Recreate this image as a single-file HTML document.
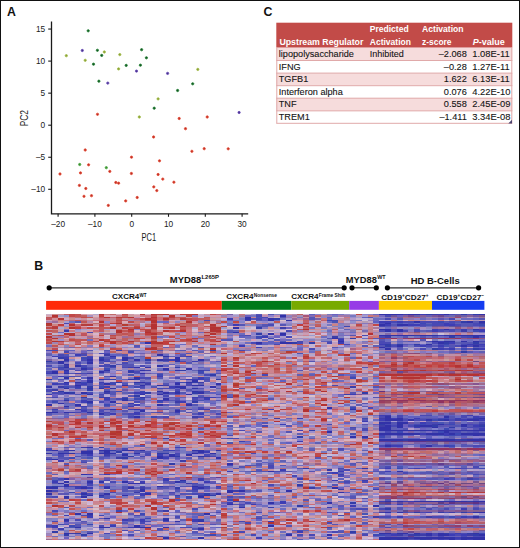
<!DOCTYPE html>
<html><head><meta charset="utf-8"><style>
html,body{margin:0;padding:0;background:#fff;}
#fig{position:relative;width:518px;height:546px;border:1px solid #111;overflow:hidden;background:#fff;}
#fig svg{position:absolute;left:-1px;top:-1px;display:block;}
</style></head><body><div id="fig"><svg width="520" height="548" viewBox="0 0 520 548" font-family='"Liberation Sans", sans-serif'><text x="7.1" y="16.1" font-size="12.3" font-weight="bold" text-anchor="start" fill="#111" >A</text><path d="M51.5 21.6 V213.85 H248.2" fill="none" stroke="#1a1a1a" stroke-width="1.3"/><line x1="48.2" x2="51.5" y1="29.05" y2="29.05" stroke="#1a1a1a" stroke-width="1.1"/><text x="45.2" y="31.949999999999996" font-size="8.3" font-weight="normal" text-anchor="end" fill="#1a1a1a" >15</text><line x1="48.2" x2="51.5" y1="61.10" y2="61.10" stroke="#1a1a1a" stroke-width="1.1"/><text x="45.2" y="64.00000000000001" font-size="8.3" font-weight="normal" text-anchor="end" fill="#1a1a1a" >10</text><line x1="48.2" x2="51.5" y1="93.15" y2="93.15" stroke="#1a1a1a" stroke-width="1.1"/><text x="45.2" y="96.05000000000001" font-size="8.3" font-weight="normal" text-anchor="end" fill="#1a1a1a" >5</text><line x1="48.2" x2="51.5" y1="125.20" y2="125.20" stroke="#1a1a1a" stroke-width="1.1"/><text x="45.2" y="128.1" font-size="8.3" font-weight="normal" text-anchor="end" fill="#1a1a1a" >0</text><line x1="48.2" x2="51.5" y1="157.25" y2="157.25" stroke="#1a1a1a" stroke-width="1.1"/><text x="45.2" y="160.15" font-size="8.3" font-weight="normal" text-anchor="end" fill="#1a1a1a" >–5</text><line x1="48.2" x2="51.5" y1="189.30" y2="189.30" stroke="#1a1a1a" stroke-width="1.1"/><text x="45.2" y="192.20000000000002" font-size="8.3" font-weight="normal" text-anchor="end" fill="#1a1a1a" >–10</text><line x1="58.10" x2="58.10" y1="213.85" y2="216.8" stroke="#1a1a1a" stroke-width="1.1"/><text x="58.09999999999998" y="227.1" font-size="8.3" font-weight="normal" text-anchor="middle" fill="#1a1a1a" >–20</text><line x1="94.90" x2="94.90" y1="213.85" y2="216.8" stroke="#1a1a1a" stroke-width="1.1"/><text x="94.89999999999998" y="227.1" font-size="8.3" font-weight="normal" text-anchor="middle" fill="#1a1a1a" >–10</text><line x1="131.70" x2="131.70" y1="213.85" y2="216.8" stroke="#1a1a1a" stroke-width="1.1"/><text x="131.7" y="227.1" font-size="8.3" font-weight="normal" text-anchor="middle" fill="#1a1a1a" >0</text><line x1="168.50" x2="168.50" y1="213.85" y2="216.8" stroke="#1a1a1a" stroke-width="1.1"/><text x="168.5" y="227.1" font-size="8.3" font-weight="normal" text-anchor="middle" fill="#1a1a1a" >10</text><line x1="205.30" x2="205.30" y1="213.85" y2="216.8" stroke="#1a1a1a" stroke-width="1.1"/><text x="205.3" y="227.1" font-size="8.3" font-weight="normal" text-anchor="middle" fill="#1a1a1a" >20</text><line x1="242.10" x2="242.10" y1="213.85" y2="216.8" stroke="#1a1a1a" stroke-width="1.1"/><text x="242.1" y="227.1" font-size="8.3" font-weight="normal" text-anchor="middle" fill="#1a1a1a" >30</text><text x="141.6" y="240.8" font-size="10.2" font-weight="normal" text-anchor="start" fill="#1a1a1a" textLength="14.6" lengthAdjust="spacingAndGlyphs" >PC1</text><text transform="translate(27.7 126.3) rotate(-90)" font-size="10.6" fill="#1a1a1a" textLength="16.2" lengthAdjust="spacingAndGlyphs">PC2</text><circle cx="88.2" cy="30.8" r="1.15" fill="#145224" stroke="#1e8030" stroke-width="0.8"/><circle cx="97.4" cy="50.3" r="1.15" fill="#145224" stroke="#1e8030" stroke-width="0.8"/><circle cx="101.7" cy="55.4" r="1.15" fill="#145224" stroke="#1e8030" stroke-width="0.8"/><circle cx="93.5" cy="64.2" r="1.15" fill="#145224" stroke="#1e8030" stroke-width="0.8"/><circle cx="126.2" cy="65.4" r="1.15" fill="#145224" stroke="#1e8030" stroke-width="0.8"/><circle cx="98.9" cy="81.2" r="1.15" fill="#145224" stroke="#1e8030" stroke-width="0.8"/><circle cx="141.6" cy="49.7" r="1.15" fill="#145224" stroke="#1e8030" stroke-width="0.8"/><circle cx="146.4" cy="57.8" r="1.15" fill="#145224" stroke="#1e8030" stroke-width="0.8"/><circle cx="140.4" cy="65.2" r="1.15" fill="#145224" stroke="#1e8030" stroke-width="0.8"/><circle cx="192.7" cy="83.8" r="1.15" fill="#145224" stroke="#1e8030" stroke-width="0.8"/><circle cx="177.6" cy="90.5" r="1.15" fill="#145224" stroke="#1e8030" stroke-width="0.8"/><circle cx="154.2" cy="108.2" r="1.15" fill="#145224" stroke="#1e8030" stroke-width="0.8"/><circle cx="104.3" cy="52" r="1.15" fill="#8a9a38" stroke="#a0bc44" stroke-width="0.8"/><circle cx="66.3" cy="55.7" r="1.15" fill="#8a9a38" stroke="#a0bc44" stroke-width="0.8"/><circle cx="85.2" cy="60.3" r="1.15" fill="#8a9a38" stroke="#a0bc44" stroke-width="0.8"/><circle cx="119.8" cy="54.6" r="1.15" fill="#8a9a38" stroke="#a0bc44" stroke-width="0.8"/><circle cx="118.6" cy="68.9" r="1.15" fill="#8a9a38" stroke="#a0bc44" stroke-width="0.8"/><circle cx="197.8" cy="69.4" r="1.15" fill="#8a9a38" stroke="#a0bc44" stroke-width="0.8"/><circle cx="158.1" cy="98.9" r="1.15" fill="#8a9a38" stroke="#a0bc44" stroke-width="0.8"/><circle cx="139.3" cy="117" r="1.15" fill="#8a9a38" stroke="#a0bc44" stroke-width="0.8"/><circle cx="79.7" cy="164.5" r="1.15" fill="#3a8a34" stroke="#4aa83e" stroke-width="0.8"/><circle cx="106.3" cy="167.7" r="1.15" fill="#3a8a34" stroke="#4aa83e" stroke-width="0.8"/><circle cx="82.3" cy="50.5" r="1.15" fill="#483488" stroke="#6648b8" stroke-width="0.8"/><circle cx="107.8" cy="83.1" r="1.15" fill="#483488" stroke="#6648b8" stroke-width="0.8"/><circle cx="136.5" cy="71.1" r="1.15" fill="#483488" stroke="#6648b8" stroke-width="0.8"/><circle cx="167.6" cy="73.4" r="1.15" fill="#483488" stroke="#6648b8" stroke-width="0.8"/><circle cx="239.1" cy="112.5" r="1.15" fill="#483488" stroke="#6648b8" stroke-width="0.8"/><circle cx="97.5" cy="114.3" r="1.15" fill="#b8302a" stroke="#e6462e" stroke-width="0.8"/><circle cx="85.2" cy="150" r="1.15" fill="#b8302a" stroke="#e6462e" stroke-width="0.8"/><circle cx="88.6" cy="164.8" r="1.15" fill="#b8302a" stroke="#e6462e" stroke-width="0.8"/><circle cx="109.8" cy="171.4" r="1.15" fill="#b8302a" stroke="#e6462e" stroke-width="0.8"/><circle cx="80.5" cy="172.9" r="1.15" fill="#b8302a" stroke="#e6462e" stroke-width="0.8"/><circle cx="60" cy="174" r="1.15" fill="#b8302a" stroke="#e6462e" stroke-width="0.8"/><circle cx="131.4" cy="173.5" r="1.15" fill="#b8302a" stroke="#e6462e" stroke-width="0.8"/><circle cx="115.8" cy="182.5" r="1.15" fill="#b8302a" stroke="#e6462e" stroke-width="0.8"/><circle cx="118.6" cy="183.2" r="1.15" fill="#b8302a" stroke="#e6462e" stroke-width="0.8"/><circle cx="79.4" cy="185.4" r="1.15" fill="#b8302a" stroke="#e6462e" stroke-width="0.8"/><circle cx="85.8" cy="188.5" r="1.15" fill="#b8302a" stroke="#e6462e" stroke-width="0.8"/><circle cx="84" cy="196.3" r="1.15" fill="#b8302a" stroke="#e6462e" stroke-width="0.8"/><circle cx="91.5" cy="195.7" r="1.15" fill="#b8302a" stroke="#e6462e" stroke-width="0.8"/><circle cx="125.7" cy="200.9" r="1.15" fill="#b8302a" stroke="#e6462e" stroke-width="0.8"/><circle cx="108.3" cy="205.4" r="1.15" fill="#b8302a" stroke="#e6462e" stroke-width="0.8"/><circle cx="131.5" cy="157.2" r="1.15" fill="#b8302a" stroke="#e6462e" stroke-width="0.8"/><circle cx="179.2" cy="118.5" r="1.15" fill="#b8302a" stroke="#e6462e" stroke-width="0.8"/><circle cx="185.5" cy="128.7" r="1.15" fill="#b8302a" stroke="#e6462e" stroke-width="0.8"/><circle cx="153.6" cy="137" r="1.15" fill="#b8302a" stroke="#e6462e" stroke-width="0.8"/><circle cx="191.9" cy="151.3" r="1.15" fill="#b8302a" stroke="#e6462e" stroke-width="0.8"/><circle cx="204.2" cy="148.7" r="1.15" fill="#b8302a" stroke="#e6462e" stroke-width="0.8"/><circle cx="159.5" cy="160.8" r="1.15" fill="#b8302a" stroke="#e6462e" stroke-width="0.8"/><circle cx="158.1" cy="174.5" r="1.15" fill="#b8302a" stroke="#e6462e" stroke-width="0.8"/><circle cx="162.8" cy="179.1" r="1.15" fill="#b8302a" stroke="#e6462e" stroke-width="0.8"/><circle cx="173.9" cy="182.2" r="1.15" fill="#b8302a" stroke="#e6462e" stroke-width="0.8"/><circle cx="153.8" cy="186.9" r="1.15" fill="#b8302a" stroke="#e6462e" stroke-width="0.8"/><circle cx="156.8" cy="190.6" r="1.15" fill="#b8302a" stroke="#e6462e" stroke-width="0.8"/><circle cx="137.2" cy="197.5" r="1.15" fill="#b8302a" stroke="#e6462e" stroke-width="0.8"/><circle cx="207.2" cy="117" r="1.15" fill="#b8302a" stroke="#e6462e" stroke-width="0.8"/><circle cx="228.2" cy="148.8" r="1.15" fill="#b8302a" stroke="#e6462e" stroke-width="0.8"/><text x="263.6" y="16.4" font-size="12.3" font-weight="bold" text-anchor="start" fill="#111" >C</text><rect x="276.3" y="22.7" width="235.99999999999994" height="25.000000000000004" fill="#c24b48"/><rect x="276.3" y="47.7" width="235.99999999999994" height="12.799999999999997" fill="#f6dcdc"/><rect x="276.3" y="60.5" width="235.99999999999994" height="12.599999999999994" fill="#ffffff"/><rect x="276.3" y="73.1" width="235.99999999999994" height="12.600000000000009" fill="#f6dcdc"/><rect x="276.3" y="85.7" width="235.99999999999994" height="12.5" fill="#ffffff"/><rect x="276.3" y="98.2" width="235.99999999999994" height="12.649999999999991" fill="#f6dcdc"/><rect x="276.3" y="110.85" width="235.99999999999994" height="12.450000000000003" fill="#ffffff"/><line x1="276.3" x2="512.3" y1="60.5" y2="60.5" stroke="#e0a9a9" stroke-width="1"/><line x1="276.3" x2="512.3" y1="73.1" y2="73.1" stroke="#e0a9a9" stroke-width="1"/><line x1="276.3" x2="512.3" y1="85.7" y2="85.7" stroke="#e0a9a9" stroke-width="1"/><line x1="276.3" x2="512.3" y1="98.2" y2="98.2" stroke="#e0a9a9" stroke-width="1"/><line x1="276.3" x2="512.3" y1="110.85" y2="110.85" stroke="#e0a9a9" stroke-width="1"/><line x1="276.3" x2="512.3" y1="123.3" y2="123.3" stroke="#e0a9a9" stroke-width="1"/><line x1="276.8" x2="276.8" y1="47.7" y2="123.3" stroke="#e0a9a9" stroke-width="1"/><line x1="511.79999999999995" x2="511.79999999999995" y1="47.7" y2="123.3" stroke="#e0a9a9" stroke-width="1"/><text x="279.4" y="45" font-size="9" font-weight="bold" text-anchor="start" fill="#ffffff" textLength="84" lengthAdjust="spacingAndGlyphs" >Upstream Regulator</text><text x="369.8" y="32" font-size="9" font-weight="bold" text-anchor="start" fill="#ffffff" textLength="38.8" lengthAdjust="spacingAndGlyphs" >Predicted</text><text x="369.8" y="44.6" font-size="9" font-weight="bold" text-anchor="start" fill="#ffffff" textLength="41.1" lengthAdjust="spacingAndGlyphs" >Activation</text><text x="422.1" y="32" font-size="9" font-weight="bold" text-anchor="start" fill="#ffffff" textLength="41.5" lengthAdjust="spacingAndGlyphs" >Activation</text><text x="422.1" y="44.6" font-size="9" font-weight="bold" text-anchor="start" fill="#ffffff" textLength="29.4" lengthAdjust="spacingAndGlyphs" >z-score</text><text x="472.7" y="44.6" font-size="9" font-weight="bold" fill="#ffffff"><tspan font-style="italic">P</tspan>-value</text><text x="278.8" y="56.900000000000006" font-size="9.15" font-weight="normal" text-anchor="start" fill="#141414" stroke="#141414" stroke-width="0.1" >lipopolysaccharide</text><text x="369.8" y="56.900000000000006" font-size="9" font-weight="normal" text-anchor="start" fill="#141414" stroke="#141414" stroke-width="0.1" >Inhibited</text><text x="466.8" y="56.900000000000006" font-size="9.2" font-weight="normal" text-anchor="end" fill="#141414" stroke="#141414" stroke-width="0.1" >–2.068</text><text x="472.3" y="56.900000000000006" font-size="9.4" font-weight="normal" text-anchor="start" fill="#141414" stroke="#141414" stroke-width="0.1" >1.08E-11</text><text x="278.8" y="69.7" font-size="9.15" font-weight="normal" text-anchor="start" fill="#141414" stroke="#141414" stroke-width="0.1" >IFNG</text><text x="466.8" y="69.7" font-size="9.2" font-weight="normal" text-anchor="end" fill="#141414" stroke="#141414" stroke-width="0.1" >–0.28</text><text x="472.3" y="69.7" font-size="9.4" font-weight="normal" text-anchor="start" fill="#141414" stroke="#141414" stroke-width="0.1" >1.27E-11</text><text x="278.8" y="82.3" font-size="9.15" font-weight="normal" text-anchor="start" fill="#141414" stroke="#141414" stroke-width="0.1" >TGFB1</text><text x="466.8" y="82.3" font-size="9.2" font-weight="normal" text-anchor="end" fill="#141414" stroke="#141414" stroke-width="0.1" >1.622</text><text x="472.3" y="82.3" font-size="9.4" font-weight="normal" text-anchor="start" fill="#141414" stroke="#141414" stroke-width="0.1" >6.13E-11</text><text x="278.8" y="94.9" font-size="9.15" font-weight="normal" text-anchor="start" fill="#141414" stroke="#141414" stroke-width="0.1" >Interferon alpha</text><text x="466.8" y="94.9" font-size="9.2" font-weight="normal" text-anchor="end" fill="#141414" stroke="#141414" stroke-width="0.1" >0.076</text><text x="472.3" y="94.9" font-size="9.4" font-weight="normal" text-anchor="start" fill="#141414" stroke="#141414" stroke-width="0.1" >4.22E-10</text><text x="278.8" y="107.4" font-size="9.15" font-weight="normal" text-anchor="start" fill="#141414" stroke="#141414" stroke-width="0.1" >TNF</text><text x="466.8" y="107.4" font-size="9.2" font-weight="normal" text-anchor="end" fill="#141414" stroke="#141414" stroke-width="0.1" >0.558</text><text x="472.3" y="107.4" font-size="9.4" font-weight="normal" text-anchor="start" fill="#141414" stroke="#141414" stroke-width="0.1" >2.45E-09</text><text x="278.8" y="120.05" font-size="9.15" font-weight="normal" text-anchor="start" fill="#141414" stroke="#141414" stroke-width="0.1" >TREM1</text><text x="466.8" y="120.05" font-size="9.2" font-weight="normal" text-anchor="end" fill="#141414" stroke="#141414" stroke-width="0.1" >–1.411</text><text x="472.3" y="120.05" font-size="9.4" font-weight="normal" text-anchor="start" fill="#141414" stroke="#141414" stroke-width="0.1" >3.34E-08</text><path d="M508.3 123.4 L512 123.4 L512 119.8 Z" fill="#4a4470"/><text x="34.2" y="270" font-size="12.3" font-weight="bold" text-anchor="start" fill="#111" >B</text><line x1="49.2" x2="344.2" y1="287.8" y2="287.8" stroke="#2a2a2a" stroke-width="1.2"/><circle cx="49.2" cy="287.8" r="2.6" fill="#000"/><circle cx="344.2" cy="287.8" r="2.6" fill="#000"/><line x1="352" x2="376.3" y1="287.8" y2="287.8" stroke="#2a2a2a" stroke-width="1.2"/><circle cx="352" cy="287.8" r="2.6" fill="#000"/><circle cx="376.3" cy="287.8" r="2.6" fill="#000"/><line x1="387.4" x2="478.6" y1="287.8" y2="287.8" stroke="#2a2a2a" stroke-width="1.2"/><circle cx="387.4" cy="287.8" r="2.6" fill="#000"/><circle cx="478.6" cy="287.8" r="2.6" fill="#000"/><text x="169.8" y="283.1" font-size="9.6" font-weight="bold" text-anchor="start" fill="#111" textLength="31.4" lengthAdjust="spacingAndGlyphs" >MYD88</text><text x="201.50000000000003" y="279.20000000000005" font-size="5.4" font-weight="bold" text-anchor="start" fill="#111" textLength="17.4" lengthAdjust="spacingAndGlyphs" >L265P</text><text x="345.8" y="282.6" font-size="9.6" font-weight="bold" text-anchor="start" fill="#111" textLength="31.1" lengthAdjust="spacingAndGlyphs" >MYD88</text><text x="377.20000000000005" y="278.70000000000005" font-size="5.4" font-weight="bold" text-anchor="start" fill="#111" textLength="8.4" lengthAdjust="spacingAndGlyphs" >WT</text><text x="410.7" y="283.5" font-size="9.6" font-weight="bold" text-anchor="start" fill="#111" textLength="49" lengthAdjust="spacingAndGlyphs" >HD B-Cells</text><text x="112" y="299.2" font-size="8" font-weight="bold" text-anchor="start" fill="#111" textLength="27.2" lengthAdjust="spacingAndGlyphs" >CXCR4</text><text x="139.5" y="296.5" font-size="5.2" font-weight="bold" text-anchor="start" fill="#111" textLength="7" lengthAdjust="spacingAndGlyphs" >WT</text><text x="226.2" y="299.2" font-size="8" font-weight="bold" text-anchor="start" fill="#111" textLength="27.3" lengthAdjust="spacingAndGlyphs" >CXCR4</text><text x="253.8" y="296.59999999999997" font-size="5.2" font-weight="bold" text-anchor="start" fill="#111" textLength="23.2" lengthAdjust="spacingAndGlyphs" >Nonsense</text><text x="291.2" y="299.2" font-size="8" font-weight="bold" text-anchor="start" fill="#111" textLength="27.3" lengthAdjust="spacingAndGlyphs" >CXCR4</text><text x="318.8" y="296.59999999999997" font-size="5.2" font-weight="bold" text-anchor="start" fill="#111" textLength="26.3" lengthAdjust="spacingAndGlyphs" >Frame Shift</text><text x="381.2" y="299.6" font-size="8" font-weight="bold" fill="#111" textLength="47.3" lengthAdjust="spacingAndGlyphs">CD19<tspan dy="-2.6" font-size="4.6">+</tspan><tspan dy="2.6">CD27</tspan><tspan dy="-2.6" font-size="4.6">+</tspan></text><text x="436.6" y="299.6" font-size="8" font-weight="bold" fill="#111" textLength="47.3" lengthAdjust="spacingAndGlyphs">CD19<tspan dy="-2.6" font-size="4.6">+</tspan><tspan dy="2.6">CD27</tspan><tspan dy="-2.6" font-size="4.6">–</tspan></text><rect x="46.1" y="300.9" width="175.70000000000002" height="8.9" fill="#ff2a0a"/><rect x="221.8" y="300.9" width="69.5" height="8.9" fill="#007a1a"/><rect x="291.3" y="300.9" width="57.89999999999998" height="8.9" fill="#78aa00"/><rect x="349.2" y="300.9" width="29.69999999999999" height="8.9" fill="#963ce6"/><rect x="378.9" y="300.9" width="53.10000000000002" height="8.9" fill="#ffcd00"/><rect x="432" y="300.9" width="52.39999999999998" height="8.9" fill="#143cf0"/><filter id="hb" x="-2%" y="-2%" width="104%" height="104%"><feGaussianBlur stdDeviation="0.65"/></filter><g filter="url(#hb)"><g transform="translate(46.0 313.7) scale(5.8467 1.5100)" shape-rendering="crispEdges"><path fill="#3030a8" d="M57 0h4v1h-4zM62 0h2v1h-2zM68 0h1v1h-1zM74 0h1v1h-1zM40 1h1v1h-1zM34 2h1v1h-1zM34 3h1v1h-1zM38 3h1v1h-1zM38 4h1v1h-1zM41 4h1v1h-1zM63 5h1v1h-1zM72 5h1v1h-1zM74 5h1v1h-1zM58 6h1v1h-1zM57 7h1v1h-1zM60 7h2v1h-2zM32 9h1v1h-1zM57 10h2v1h-2zM60 10h1v1h-1zM68 10h1v1h-1zM73 10h1v1h-1zM58 11h1v1h-1zM60 11h1v1h-1zM32 12h1v1h-1zM38 13h1v1h-1zM40 13h1v1h-1zM57 14h6v1h-6zM64 14h3v1h-3zM68 14h7v1h-7zM73 15h1v1h-1zM49 16h1v1h-1zM50 18h1v1h-1zM66 18h1v1h-1zM68 18h2v1h-2zM71 18h1v1h-1zM73 18h1v1h-1zM17 19h1v1h-1zM36 19h1v1h-1zM40 19h2v1h-2zM67 19h1v1h-1zM65 20h1v1h-1zM60 21h1v1h-1zM71 21h1v1h-1zM73 21h1v1h-1zM57 22h1v1h-1zM58 23h1v1h-1zM19 27h1v1h-1zM11 28h1v1h-1zM20 28h1v1h-1zM13 29h1v1h-1zM22 29h1v1h-1zM3 30h1v1h-1zM7 30h1v1h-1zM9 30h1v1h-1zM13 30h1v1h-1zM15 30h1v1h-1zM19 30h1v1h-1zM22 30h1v1h-1zM26 30h1v1h-1zM2 31h1v1h-1zM22 31h1v1h-1zM2 32h1v1h-1zM7 32h1v1h-1zM3 33h1v1h-1zM5 34h1v1h-1zM19 34h1v1h-1zM3 35h1v1h-1zM15 35h1v1h-1zM17 35h1v1h-1zM6 36h1v1h-1zM20 36h1v1h-1zM24 36h1v1h-1zM3 37h1v1h-1zM10 37h1v1h-1zM16 37h1v1h-1zM22 37h1v1h-1zM1 38h1v1h-1zM9 38h1v1h-1zM1 39h1v1h-1zM3 39h1v1h-1zM16 39h1v1h-1zM11 41h1v1h-1zM3 42h1v1h-1zM7 42h1v1h-1zM15 42h1v1h-1zM0 43h1v1h-1zM9 43h1v1h-1zM14 43h1v1h-1zM7 44h1v1h-1zM25 44h1v1h-1zM3 45h1v1h-1zM5 45h1v1h-1zM7 45h1v1h-1zM15 45h2v1h-2zM24 45h1v1h-1zM10 46h1v1h-1zM22 46h1v1h-1zM29 46h1v1h-1zM5 47h1v1h-1zM13 47h1v1h-1zM16 47h1v1h-1zM19 47h1v1h-1zM25 47h2v1h-2zM0 48h1v1h-1zM22 48h2v1h-2zM28 48h1v1h-1zM3 49h1v1h-1zM7 49h1v1h-1zM9 49h1v1h-1zM11 49h1v1h-1zM23 49h1v1h-1zM25 49h1v1h-1zM10 51h1v1h-1zM19 51h1v1h-1zM25 51h1v1h-1zM3 52h1v1h-1zM6 52h1v1h-1zM20 52h1v1h-1zM22 52h1v1h-1zM26 52h1v1h-1zM7 53h1v1h-1zM16 53h1v1h-1zM19 53h1v1h-1zM24 53h1v1h-1zM16 55h1v1h-1zM20 56h1v1h-1zM3 57h1v1h-1zM13 57h1v1h-1zM7 58h1v1h-1zM11 58h1v1h-1zM2 59h1v1h-1zM0 60h1v1h-1zM5 60h1v1h-1zM19 60h1v1h-1zM24 60h1v1h-1zM3 61h1v1h-1zM48 62h1v1h-1zM5 63h1v1h-1zM11 63h1v1h-1zM15 63h1v1h-1zM52 63h1v1h-1zM16 64h1v1h-1zM22 64h1v1h-1zM0 65h2v1h-2zM3 65h1v1h-1zM7 65h1v1h-1zM9 66h1v1h-1zM15 68h1v1h-1zM58 68h1v1h-1zM68 68h1v1h-1zM58 69h1v1h-1zM60 69h1v1h-1zM74 69h1v1h-1zM58 70h3v1h-3zM62 70h1v1h-1zM65 70h1v1h-1zM68 70h1v1h-1zM72 70h2v1h-2zM57 72h2v1h-2zM60 72h2v1h-2zM60 73h1v1h-1zM67 73h1v1h-1zM71 73h1v1h-1zM58 74h1v1h-1zM60 74h1v1h-1zM64 74h2v1h-2zM71 74h1v1h-1zM57 75h2v1h-2zM60 75h1v1h-1zM66 75h1v1h-1zM57 76h2v1h-2zM57 77h18v1h-18zM48 78h1v1h-1zM68 78h1v1h-1zM57 79h7v1h-7zM65 79h3v1h-3zM69 79h1v1h-1zM71 79h4v1h-4zM73 80h1v1h-1zM52 81h1v1h-1zM54 81h1v1h-1zM57 83h4v1h-4zM62 83h8v1h-8zM72 83h3v1h-3zM58 87h1v1h-1zM65 87h1v1h-1zM7 88h1v1h-1zM1 90h1v1h-1zM3 90h2v1h-2zM9 90h2v1h-2zM13 90h2v1h-2zM16 90h1v1h-1zM25 90h2v1h-2zM29 90h1v1h-1zM6 91h2v1h-2zM10 91h1v1h-1zM26 91h1v1h-1zM0 92h1v1h-1zM2 92h3v1h-3zM6 92h2v1h-2zM9 92h3v1h-3zM15 92h1v1h-1zM25 92h1v1h-1zM28 92h1v1h-1zM13 93h1v1h-1zM21 93h1v1h-1zM24 93h1v1h-1zM19 94h1v1h-1zM21 94h1v1h-1zM26 94h1v1h-1zM19 95h1v1h-1zM29 95h1v1h-1zM1 96h1v1h-1zM31 99h1v1h-1zM54 102h1v1h-1zM38 104h1v1h-1zM60 104h1v1h-1zM6 106h1v1h-1zM3 109h1v1h-1zM23 110h1v1h-1zM3 111h1v1h-1zM7 111h1v1h-1zM9 111h1v1h-1zM13 111h1v1h-1zM22 111h1v1h-1zM2 112h1v1h-1zM14 112h2v1h-2zM3 113h1v1h-1zM3 114h1v1h-1zM19 114h1v1h-1zM25 114h1v1h-1zM0 115h2v1h-2zM6 115h1v1h-1zM10 115h1v1h-1zM14 115h1v1h-1zM26 115h1v1h-1zM49 115h1v1h-1zM16 116h1v1h-1zM0 117h1v1h-1zM16 117h1v1h-1zM31 117h1v1h-1zM33 117h1v1h-1zM41 117h1v1h-1zM31 118h1v1h-1zM50 118h1v1h-1zM0 119h1v1h-1zM6 119h1v1h-1zM10 119h1v1h-1zM17 119h1v1h-1zM29 119h1v1h-1zM7 120h1v1h-1zM9 120h1v1h-1zM13 120h1v1h-1zM27 120h1v1h-1zM3 121h1v1h-1zM6 121h1v1h-1zM26 121h1v1h-1zM58 124h1v1h-1zM60 124h1v1h-1zM63 124h9v1h-9zM73 124h2v1h-2zM38 125h1v1h-1zM48 125h1v1h-1zM31 126h1v1h-1zM56 127h1v1h-1zM33 128h1v1h-1zM58 131h1v1h-1zM60 131h1v1h-1zM73 131h2v1h-2zM5 132h1v1h-1zM7 132h1v1h-1zM27 132h1v1h-1zM73 134h1v1h-1zM10 135h1v1h-1zM3 136h1v1h-1zM20 136h1v1h-1zM22 137h1v1h-1zM26 137h1v1h-1zM15 140h1v1h-1zM38 140h1v1h-1zM5 141h1v1h-1zM9 141h2v1h-2zM15 141h3v1h-3zM20 141h1v1h-1zM26 142h1v1h-1zM3 145h1v1h-1zM7 145h1v1h-1zM57 145h2v1h-2zM60 145h2v1h-2zM63 145h1v1h-1zM65 145h1v1h-1zM67 145h1v1h-1zM73 145h1v1h-1zM41 146h1v1h-1zM48 146h1v1h-1zM65 146h1v1h-1zM67 146h2v1h-2zM74 146h1v1h-1zM20 148h1v1h-1zM26 148h1v1h-1zM57 148h5v1h-5zM63 148h7v1h-7zM71 148h4v1h-4zM57 149h2v1h-2zM60 149h1v1h-1zM69 149h1v1h-1zM71 149h1v1h-1zM73 149h2v1h-2z"/><path fill="#303ca8" d="M65 0h1v1h-1zM71 0h1v1h-1zM73 0h1v1h-1zM39 3h1v1h-1zM71 5h1v1h-1zM36 9h1v1h-1zM36 13h1v1h-1zM63 14h1v1h-1zM69 15h1v1h-1zM52 16h1v1h-1zM42 19h1v1h-1zM45 19h1v1h-1zM68 19h1v1h-1zM73 19h1v1h-1zM58 20h1v1h-1zM60 20h1v1h-1zM63 20h1v1h-1zM58 21h1v1h-1zM66 23h1v1h-1zM73 23h1v1h-1zM28 24h1v1h-1zM71 25h1v1h-1zM2 29h1v1h-1zM9 29h1v1h-1zM17 30h1v1h-1zM0 31h1v1h-1zM11 34h1v1h-1zM22 35h1v1h-1zM23 37h1v1h-1zM14 38h1v1h-1zM28 40h1v1h-1zM11 43h1v1h-1zM15 43h1v1h-1zM29 43h1v1h-1zM12 45h1v1h-1zM25 45h1v1h-1zM7 48h1v1h-1zM7 50h1v1h-1zM2 51h1v1h-1zM4 52h1v1h-1zM17 52h1v1h-1zM25 52h1v1h-1zM54 52h1v1h-1zM15 54h1v1h-1zM6 55h1v1h-1zM27 55h1v1h-1zM13 56h1v1h-1zM25 58h1v1h-1zM73 69h1v1h-1zM67 70h1v1h-1zM57 73h1v1h-1zM63 74h1v1h-1zM66 74h1v1h-1zM74 74h1v1h-1zM69 75h1v1h-1zM45 77h1v1h-1zM43 81h1v1h-1zM61 83h1v1h-1zM71 83h1v1h-1zM9 88h1v1h-1zM11 90h1v1h-1zM12 91h1v1h-1zM19 92h2v1h-2zM14 94h1v1h-1zM22 94h1v1h-1zM13 95h1v1h-1zM21 99h1v1h-1zM44 102h1v1h-1zM48 103h1v1h-1zM43 113h1v1h-1zM1 114h1v1h-1zM22 115h1v1h-1zM27 119h1v1h-1zM28 120h1v1h-1zM72 124h1v1h-1zM52 125h1v1h-1zM43 127h1v1h-1zM58 129h1v1h-1zM63 131h1v1h-1zM67 131h1v1h-1zM71 131h1v1h-1zM20 135h1v1h-1zM26 136h1v1h-1zM1 144h1v1h-1zM52 144h1v1h-1zM5 145h1v1h-1zM68 145h1v1h-1zM72 145h1v1h-1zM3 146h1v1h-1zM6 146h1v1h-1zM63 146h1v1h-1zM73 146h1v1h-1zM59 149h1v1h-1zM64 149h1v1h-1z"/><path fill="#3c3ca8" d="M61 0h1v1h-1zM66 0h1v1h-1zM74 6h1v1h-1zM40 9h1v1h-1zM3 11h1v1h-1zM71 11h1v1h-1zM49 15h1v1h-1zM58 15h1v1h-1zM73 20h1v1h-1zM10 27h1v1h-1zM20 30h1v1h-1zM3 34h1v1h-1zM17 37h1v1h-1zM26 37h1v1h-1zM7 39h1v1h-1zM26 45h1v1h-1zM17 46h1v1h-1zM20 47h1v1h-1zM2 48h1v1h-1zM52 48h1v1h-1zM1 50h1v1h-1zM22 51h1v1h-1zM26 51h1v1h-1zM10 52h1v1h-1zM51 53h1v1h-1zM9 55h2v1h-2zM22 58h1v1h-1zM58 67h1v1h-1zM25 68h1v1h-1zM39 69h1v1h-1zM57 69h1v1h-1zM70 70h1v1h-1zM66 73h1v1h-1zM74 73h1v1h-1zM57 74h1v1h-1zM74 80h1v1h-1zM20 82h1v1h-1zM70 83h1v1h-1zM6 88h1v1h-1zM10 93h1v1h-1zM27 94h1v1h-1zM12 95h1v1h-1zM23 97h1v1h-1zM72 109h1v1h-1zM16 112h1v1h-1zM24 112h1v1h-1zM5 114h1v1h-1zM16 115h1v1h-1zM45 115h1v1h-1zM50 116h1v1h-1zM32 117h1v1h-1zM15 118h1v1h-1zM26 120h1v1h-1zM3 122h1v1h-1zM38 128h1v1h-1zM20 130h1v1h-1zM57 131h1v1h-1zM69 131h1v1h-1zM7 133h1v1h-1zM56 134h1v1h-1zM65 134h1v1h-1zM4 145h1v1h-1zM60 146h1v1h-1zM62 146h1v1h-1zM64 146h1v1h-1zM72 146h1v1h-1zM62 148h1v1h-1zM61 149h1v1h-1zM65 149h1v1h-1z"/><path fill="#3c3cb4" d="M64 0h1v1h-1zM67 0h1v1h-1zM31 3h1v1h-1zM34 4h1v1h-1zM57 5h2v1h-2zM60 5h1v1h-1zM68 6h1v1h-1zM32 7h1v1h-1zM58 7h1v1h-1zM62 7h2v1h-2zM68 7h2v1h-2zM66 10h1v1h-1zM71 10h1v1h-1zM74 10h1v1h-1zM66 11h1v1h-1zM74 11h1v1h-1zM40 14h1v1h-1zM67 14h1v1h-1zM37 15h1v1h-1zM50 17h1v1h-1zM67 18h1v1h-1zM50 19h1v1h-1zM69 19h1v1h-1zM57 20h1v1h-1zM72 20h1v1h-1zM74 20h1v1h-1zM33 21h1v1h-1zM64 21h1v1h-1zM67 21h1v1h-1zM36 22h1v1h-1zM67 23h1v1h-1zM69 23h1v1h-1zM74 23h1v1h-1zM12 24h1v1h-1zM5 27h1v1h-1zM1 28h1v1h-1zM24 28h1v1h-1zM3 29h1v1h-1zM7 29h1v1h-1zM21 30h1v1h-1zM7 31h1v1h-1zM10 31h1v1h-1zM25 31h1v1h-1zM14 35h1v1h-1zM14 37h1v1h-1zM3 38h1v1h-1zM0 39h1v1h-1zM5 39h1v1h-1zM2 41h1v1h-1zM19 41h1v1h-1zM26 42h1v1h-1zM10 43h1v1h-1zM24 43h3v1h-3zM9 45h1v1h-1zM22 45h1v1h-1zM1 46h1v1h-1zM3 46h1v1h-1zM6 46h1v1h-1zM5 48h1v1h-1zM10 48h1v1h-1zM21 48h1v1h-1zM15 52h2v1h-2zM0 53h1v1h-1zM52 53h1v1h-1zM25 55h1v1h-1zM28 55h1v1h-1zM10 56h1v1h-1zM27 56h1v1h-1zM6 57h1v1h-1zM19 57h2v1h-2zM6 58h1v1h-1zM23 58h1v1h-1zM14 59h1v1h-1zM15 60h1v1h-1zM6 61h1v1h-1zM14 61h1v1h-1zM1 63h1v1h-1zM14 63h1v1h-1zM26 63h2v1h-2zM38 63h1v1h-1zM6 64h1v1h-1zM4 65h1v1h-1zM15 65h1v1h-1zM22 65h1v1h-1zM11 66h1v1h-1zM15 66h1v1h-1zM26 66h1v1h-1zM57 67h1v1h-1zM72 67h1v1h-1zM73 68h1v1h-1zM43 69h1v1h-1zM59 69h1v1h-1zM63 69h1v1h-1zM70 69h1v1h-1zM57 70h1v1h-1zM71 70h1v1h-1zM74 70h1v1h-1zM54 71h1v1h-1zM64 72h1v1h-1zM40 73h1v1h-1zM73 74h1v1h-1zM63 75h1v1h-1zM74 76h1v1h-1zM43 77h1v1h-1zM64 79h1v1h-1zM68 79h1v1h-1zM57 80h1v1h-1zM68 80h1v1h-1zM33 84h1v1h-1zM43 84h1v1h-1zM59 87h2v1h-2zM68 87h1v1h-1zM22 88h2v1h-2zM0 90h1v1h-1zM21 90h1v1h-1zM27 91h1v1h-1zM7 93h1v1h-1zM19 93h1v1h-1zM20 95h1v1h-1zM0 96h1v1h-1zM2 97h1v1h-1zM58 102h1v1h-1zM63 102h1v1h-1zM70 102h1v1h-1zM40 103h1v1h-1zM31 104h1v1h-1zM50 104h1v1h-1zM58 104h1v1h-1zM49 105h1v1h-1zM7 106h1v1h-1zM10 106h1v1h-1zM50 106h1v1h-1zM20 109h1v1h-1zM26 109h1v1h-1zM43 109h1v1h-1zM68 109h1v1h-1zM20 110h1v1h-1zM26 110h1v1h-1zM49 110h1v1h-1zM54 110h1v1h-1zM1 111h1v1h-1zM16 111h1v1h-1zM27 111h1v1h-1zM7 112h1v1h-1zM6 114h1v1h-1zM10 114h1v1h-1zM29 114h1v1h-1zM5 115h1v1h-1zM7 115h1v1h-1zM25 115h1v1h-1zM25 116h1v1h-1zM56 116h1v1h-1zM16 119h1v1h-1zM16 120h1v1h-1zM22 120h1v1h-1zM32 124h1v1h-1zM40 124h1v1h-1zM57 124h1v1h-1zM61 124h2v1h-2zM31 125h1v1h-1zM40 125h1v1h-1zM35 126h1v1h-1zM60 126h1v1h-1zM52 127h1v1h-1zM48 128h1v1h-1zM71 129h1v1h-1zM65 131h1v1h-1zM3 133h1v1h-1zM7 134h1v1h-1zM60 134h1v1h-1zM71 134h1v1h-1zM13 136h1v1h-1zM16 136h1v1h-1zM25 136h1v1h-1zM3 137h1v1h-1zM16 137h1v1h-1zM25 137h1v1h-1zM38 137h1v1h-1zM1 140h1v1h-1zM11 140h1v1h-1zM1 141h1v1h-1zM14 141h1v1h-1zM2 142h1v1h-1zM43 144h1v1h-1zM70 145h1v1h-1zM59 146h1v1h-1zM69 146h1v1h-1zM71 146h1v1h-1zM36 148h1v1h-1zM70 148h1v1h-1zM67 149h1v1h-1zM72 149h1v1h-1z"/><path fill="#3c48b4" d="M48 4h1v1h-1zM67 5h1v1h-1zM64 6h1v1h-1zM74 7h1v1h-1zM51 8h1v1h-1zM73 11h1v1h-1zM36 15h1v1h-1zM72 15h1v1h-1zM38 16h1v1h-1zM68 20h1v1h-1zM71 23h1v1h-1zM6 29h1v1h-1zM2 35h1v1h-1zM6 35h1v1h-1zM10 36h1v1h-1zM26 38h1v1h-1zM19 40h1v1h-1zM52 42h1v1h-1zM6 45h1v1h-1zM23 45h1v1h-1zM11 46h1v1h-1zM3 48h1v1h-1zM9 48h1v1h-1zM15 48h1v1h-1zM5 49h1v1h-1zM19 49h1v1h-1zM12 51h1v1h-1zM16 51h1v1h-1zM15 56h2v1h-2zM52 57h1v1h-1zM1 58h1v1h-1zM19 58h1v1h-1zM7 59h1v1h-1zM10 60h1v1h-1zM52 62h1v1h-1zM18 68h1v1h-1zM54 69h1v1h-1zM68 69h1v1h-1zM66 70h1v1h-1zM64 73h1v1h-1zM69 73h1v1h-1zM68 76h1v1h-1zM60 78h1v1h-1zM67 78h1v1h-1zM70 79h1v1h-1zM69 80h1v1h-1zM57 81h1v1h-1zM31 82h1v1h-1zM69 87h1v1h-1zM20 90h1v1h-1zM13 92h1v1h-1zM4 95h1v1h-1zM60 102h1v1h-1zM74 102h1v1h-1zM1 110h1v1h-1zM23 111h1v1h-1zM0 114h1v1h-1zM27 114h1v1h-1zM4 118h1v1h-1zM9 121h1v1h-1zM24 121h1v1h-1zM31 123h1v1h-1zM12 130h1v1h-1zM16 132h1v1h-1zM9 133h1v1h-1zM69 134h1v1h-1zM17 135h1v1h-1zM7 139h1v1h-1zM4 140h1v1h-1zM48 141h1v1h-1zM74 145h1v1h-1zM28 146h1v1h-1zM56 146h2v1h-2z"/><path fill="#4848b4" d="M69 0h1v1h-1zM36 1h1v1h-1zM58 1h1v1h-1zM37 2h1v1h-1zM36 3h1v1h-1zM58 3h1v1h-1zM69 3h1v1h-1zM27 4h1v1h-1zM49 4h1v1h-1zM59 5h1v1h-1zM61 5h2v1h-2zM64 5h3v1h-3zM69 5h1v1h-1zM3 6h1v1h-1zM57 6h1v1h-1zM66 6h2v1h-2zM69 6h1v1h-1zM73 6h1v1h-1zM38 7h1v1h-1zM64 7h1v1h-1zM66 7h2v1h-2zM70 7h1v1h-1zM73 7h1v1h-1zM57 8h1v1h-1zM63 10h1v1h-1zM67 10h1v1h-1zM69 10h1v1h-1zM41 11h1v1h-1zM57 11h1v1h-1zM61 11h1v1h-1zM63 11h1v1h-1zM67 11h1v1h-1zM69 11h1v1h-1zM7 12h1v1h-1zM34 14h1v1h-1zM54 14h1v1h-1zM41 15h1v1h-1zM57 15h1v1h-1zM71 15h1v1h-1zM74 15h1v1h-1zM36 16h1v1h-1zM50 16h1v1h-1zM43 18h1v1h-1zM57 18h1v1h-1zM65 18h1v1h-1zM74 18h1v1h-1zM35 19h1v1h-1zM43 19h1v1h-1zM48 19h1v1h-1zM57 19h2v1h-2zM66 19h1v1h-1zM36 20h1v1h-1zM39 20h1v1h-1zM51 20h1v1h-1zM67 20h1v1h-1zM71 20h1v1h-1zM59 21h1v1h-1zM63 21h1v1h-1zM65 21h1v1h-1zM70 21h1v1h-1zM72 21h1v1h-1zM74 21h1v1h-1zM45 23h1v1h-1zM64 23h1v1h-1zM68 23h1v1h-1zM0 24h2v1h-2zM33 24h1v1h-1zM3 25h1v1h-1zM14 25h1v1h-1zM9 26h2v1h-2zM2 27h1v1h-1zM6 27h1v1h-1zM2 28h2v1h-2zM7 28h1v1h-1zM23 28h1v1h-1zM11 29h1v1h-1zM14 29h1v1h-1zM6 30h1v1h-1zM10 30h1v1h-1zM3 31h1v1h-1zM23 31h1v1h-1zM5 32h1v1h-1zM13 32h1v1h-1zM10 33h1v1h-1zM0 34h1v1h-1zM6 34h1v1h-1zM9 34h2v1h-2zM16 34h1v1h-1zM11 35h1v1h-1zM13 35h1v1h-1zM2 36h1v1h-1zM7 36h1v1h-1zM5 37h1v1h-1zM20 37h1v1h-1zM27 37h1v1h-1zM29 37h1v1h-1zM0 38h1v1h-1zM15 38h1v1h-1zM6 39h1v1h-1zM26 39h1v1h-1zM27 40h1v1h-1zM37 40h1v1h-1zM4 41h1v1h-1zM16 42h2v1h-2zM22 42h1v1h-1zM5 43h1v1h-1zM7 43h1v1h-1zM27 43h1v1h-1zM11 45h1v1h-1zM17 45h1v1h-1zM2 46h1v1h-1zM5 46h1v1h-1zM9 46h1v1h-1zM24 46h1v1h-1zM24 47h1v1h-1zM49 47h1v1h-1zM16 48h1v1h-1zM20 49h2v1h-2zM0 50h1v1h-1zM22 50h1v1h-1zM0 51h1v1h-1zM1 52h2v1h-2zM7 52h1v1h-1zM21 52h1v1h-1zM9 53h1v1h-1zM20 54h1v1h-1zM1 55h1v1h-1zM13 55h1v1h-1zM26 55h1v1h-1zM31 55h1v1h-1zM12 56h1v1h-1zM25 56h1v1h-1zM10 57h1v1h-1zM22 57h1v1h-1zM25 57h1v1h-1zM9 58h1v1h-1zM15 58h1v1h-1zM24 59h1v1h-1zM5 61h1v1h-1zM26 62h1v1h-1zM55 62h1v1h-1zM6 63h1v1h-1zM10 63h1v1h-1zM16 63h1v1h-1zM22 63h1v1h-1zM24 63h1v1h-1zM9 64h1v1h-1zM5 65h1v1h-1zM10 65h1v1h-1zM19 65h1v1h-1zM26 65h1v1h-1zM14 66h1v1h-1zM29 66h1v1h-1zM60 67h1v1h-1zM64 67h2v1h-2zM71 67h1v1h-1zM14 68h1v1h-1zM20 68h1v1h-1zM26 68h1v1h-1zM57 68h1v1h-1zM60 68h1v1h-1zM71 68h1v1h-1zM74 68h1v1h-1zM67 69h1v1h-1zM72 69h1v1h-1zM61 70h1v1h-1zM63 70h2v1h-2zM69 70h1v1h-1zM65 72h2v1h-2zM69 72h1v1h-1zM74 72h1v1h-1zM48 73h1v1h-1zM58 73h1v1h-1zM63 73h1v1h-1zM65 73h1v1h-1zM68 73h1v1h-1zM72 73h2v1h-2zM37 74h1v1h-1zM59 74h1v1h-1zM62 74h1v1h-1zM52 75h1v1h-1zM72 75h3v1h-3zM54 76h1v1h-1zM33 77h1v1h-1zM54 77h1v1h-1zM58 78h1v1h-1zM69 78h2v1h-2zM73 78h1v1h-1zM31 80h1v1h-1zM60 80h1v1h-1zM66 80h1v1h-1zM70 80h3v1h-3zM32 82h1v1h-1zM58 86h1v1h-1zM57 87h1v1h-1zM64 87h1v1h-1zM73 87h2v1h-2zM0 89h1v1h-1zM13 89h1v1h-1zM50 89h1v1h-1zM7 90h1v1h-1zM15 90h1v1h-1zM17 92h1v1h-1zM22 92h1v1h-1zM26 92h1v1h-1zM35 92h1v1h-1zM2 93h1v1h-1zM17 93h1v1h-1zM22 93h1v1h-1zM27 93h1v1h-1zM2 94h1v1h-1zM10 94h1v1h-1zM16 94h1v1h-1zM20 94h1v1h-1zM28 94h1v1h-1zM18 96h1v1h-1zM6 98h1v1h-1zM31 100h1v1h-1zM38 100h1v1h-1zM13 101h1v1h-1zM38 101h1v1h-1zM58 101h1v1h-1zM73 101h1v1h-1zM50 102h1v1h-1zM62 102h1v1h-1zM64 102h1v1h-1zM69 102h1v1h-1zM71 102h1v1h-1zM51 103h1v1h-1zM39 104h1v1h-1zM48 105h1v1h-1zM61 105h1v1h-1zM73 106h1v1h-1zM42 107h1v1h-1zM50 107h1v1h-1zM2 109h1v1h-1zM57 109h1v1h-1zM69 109h1v1h-1zM73 109h1v1h-1zM10 110h1v1h-1zM11 111h1v1h-1zM51 111h1v1h-1zM54 111h1v1h-1zM25 112h1v1h-1zM7 113h1v1h-1zM38 113h1v1h-1zM2 114h1v1h-1zM4 114h1v1h-1zM14 114h1v1h-1zM16 114h1v1h-1zM20 114h1v1h-1zM26 114h1v1h-1zM27 115h1v1h-1zM29 115h1v1h-1zM22 116h1v1h-1zM52 116h1v1h-1zM1 117h1v1h-1zM25 117h1v1h-1zM6 118h1v1h-1zM11 118h1v1h-1zM17 118h1v1h-1zM21 118h1v1h-1zM7 119h1v1h-1zM25 119h2v1h-2zM1 121h1v1h-1zM31 121h1v1h-1zM20 122h1v1h-1zM24 122h1v1h-1zM59 124h1v1h-1zM34 125h1v1h-1zM33 126h1v1h-1zM58 126h1v1h-1zM68 126h1v1h-1zM25 129h1v1h-1zM53 129h2v1h-2zM57 129h1v1h-1zM65 129h1v1h-1zM68 129h1v1h-1zM73 129h1v1h-1zM1 130h1v1h-1zM15 130h1v1h-1zM29 131h1v1h-1zM36 131h1v1h-1zM48 131h1v1h-1zM61 131h1v1h-1zM64 131h1v1h-1zM68 131h1v1h-1zM72 131h1v1h-1zM6 133h1v1h-1zM15 133h1v1h-1zM50 133h1v1h-1zM22 134h1v1h-1zM57 134h2v1h-2zM66 134h2v1h-2zM72 134h1v1h-1zM36 135h1v1h-1zM5 136h1v1h-1zM14 136h1v1h-1zM1 137h1v1h-1zM17 137h1v1h-1zM20 137h1v1h-1zM33 137h1v1h-1zM16 138h1v1h-1zM34 138h1v1h-1zM48 138h1v1h-1zM2 139h1v1h-1zM26 139h1v1h-1zM58 139h1v1h-1zM0 140h1v1h-1zM9 140h1v1h-1zM23 141h2v1h-2zM58 141h1v1h-1zM19 142h1v1h-1zM13 143h1v1h-1zM43 143h1v1h-1zM33 144h1v1h-1zM49 144h1v1h-1zM10 145h1v1h-1zM59 145h1v1h-1zM64 145h1v1h-1zM66 145h1v1h-1zM69 145h1v1h-1zM71 145h1v1h-1zM14 146h1v1h-1zM35 146h1v1h-1zM43 146h1v1h-1zM45 146h1v1h-1zM54 146h1v1h-1zM58 146h1v1h-1zM66 146h1v1h-1zM70 146h1v1h-1zM19 147h1v1h-1zM67 147h1v1h-1zM71 147h1v1h-1zM73 147h2v1h-2zM48 148h1v1h-1zM63 149h1v1h-1zM68 149h1v1h-1zM70 149h1v1h-1z"/><path fill="#4854b4" d="M36 2h1v1h-1zM49 5h1v1h-1zM60 6h1v1h-1zM65 7h1v1h-1zM31 12h1v1h-1zM68 21h1v1h-1zM43 26h1v1h-1zM14 40h1v1h-1zM3 41h1v1h-1zM27 42h1v1h-1zM15 46h1v1h-1zM3 56h1v1h-1zM26 57h1v1h-1zM67 72h1v1h-1zM52 79h1v1h-1zM67 80h1v1h-1zM31 85h1v1h-1zM7 95h1v1h-1zM74 100h1v1h-1zM60 101h1v1h-1zM35 104h1v1h-1zM6 120h1v1h-1zM22 121h1v1h-1zM3 128h1v1h-1zM64 128h1v1h-1zM54 132h1v1h-1zM74 134h1v1h-1zM3 139h1v1h-1zM4 141h1v1h-1zM41 145h1v1h-1zM15 149h1v1h-1z"/><path fill="#5454b4" d="M36 0h1v1h-1zM38 0h1v1h-1zM70 0h1v1h-1zM72 0h1v1h-1zM40 2h1v1h-1zM45 2h1v1h-1zM55 2h1v1h-1zM35 3h1v1h-1zM45 3h1v1h-1zM60 3h1v1h-1zM74 3h1v1h-1zM36 4h1v1h-1zM5 5h1v1h-1zM68 5h1v1h-1zM70 5h1v1h-1zM73 5h1v1h-1zM62 6h1v1h-1zM71 6h2v1h-2zM33 7h1v1h-1zM37 7h1v1h-1zM40 7h1v1h-1zM59 7h1v1h-1zM71 7h2v1h-2zM36 8h2v1h-2zM58 8h1v1h-1zM64 8h1v1h-1zM74 8h1v1h-1zM59 10h1v1h-1zM70 10h1v1h-1zM31 11h1v1h-1zM59 11h1v1h-1zM65 11h1v1h-1zM68 11h1v1h-1zM33 14h1v1h-1zM37 14h1v1h-1zM52 14h1v1h-1zM61 15h1v1h-1zM64 15h1v1h-1zM66 15h1v1h-1zM48 16h1v1h-1zM56 16h1v1h-1zM30 17h2v1h-2zM39 17h1v1h-1zM57 17h1v1h-1zM64 17h1v1h-1zM40 18h1v1h-1zM48 18h1v1h-1zM62 18h1v1h-1zM71 19h2v1h-2zM59 20h1v1h-1zM61 20h1v1h-1zM15 21h1v1h-1zM54 21h1v1h-1zM57 21h1v1h-1zM66 21h1v1h-1zM69 21h1v1h-1zM26 22h1v1h-1zM49 22h1v1h-1zM58 22h1v1h-1zM60 22h1v1h-1zM67 22h1v1h-1zM69 22h1v1h-1zM60 23h1v1h-1zM72 23h1v1h-1zM7 24h1v1h-1zM10 24h1v1h-1zM19 24h1v1h-1zM23 24h1v1h-1zM25 24h1v1h-1zM72 25h1v1h-1zM24 26h1v1h-1zM3 27h1v1h-1zM13 27h1v1h-1zM23 27h1v1h-1zM10 29h1v1h-1zM9 31h1v1h-1zM11 31h1v1h-1zM20 31h1v1h-1zM29 31h1v1h-1zM45 31h1v1h-1zM9 32h1v1h-1zM17 32h1v1h-1zM24 32h1v1h-1zM12 33h3v1h-3zM13 34h2v1h-2zM7 35h1v1h-1zM54 35h1v1h-1zM3 36h2v1h-2zM43 37h1v1h-1zM10 38h1v1h-1zM4 39h1v1h-1zM15 39h1v1h-1zM19 39h1v1h-1zM29 39h1v1h-1zM50 40h1v1h-1zM5 41h1v1h-1zM10 41h1v1h-1zM52 41h1v1h-1zM19 42h1v1h-1zM2 43h1v1h-1zM27 44h1v1h-1zM7 46h1v1h-1zM13 46h1v1h-1zM20 46h1v1h-1zM6 47h2v1h-2zM9 47h1v1h-1zM4 48h1v1h-1zM18 48h1v1h-1zM56 48h1v1h-1zM16 49h1v1h-1zM26 49h1v1h-1zM33 49h1v1h-1zM36 49h1v1h-1zM10 50h1v1h-1zM24 50h1v1h-1zM11 51h1v1h-1zM27 51h1v1h-1zM11 52h1v1h-1zM14 52h1v1h-1zM19 52h1v1h-1zM23 52h1v1h-1zM52 52h1v1h-1zM2 53h1v1h-1zM5 53h1v1h-1zM11 53h1v1h-1zM22 53h1v1h-1zM29 53h1v1h-1zM9 54h1v1h-1zM14 54h1v1h-1zM26 54h1v1h-1zM17 55h1v1h-1zM29 55h1v1h-1zM56 55h1v1h-1zM7 56h1v1h-1zM22 56h1v1h-1zM38 56h1v1h-1zM1 57h1v1h-1zM14 57h1v1h-1zM21 57h1v1h-1zM29 57h1v1h-1zM12 59h1v1h-1zM54 59h1v1h-1zM14 60h1v1h-1zM20 60h1v1h-1zM25 60h1v1h-1zM10 61h1v1h-1zM3 62h1v1h-1zM6 62h1v1h-1zM9 63h1v1h-1zM19 63h2v1h-2zM1 64h1v1h-1zM13 64h1v1h-1zM9 65h1v1h-1zM18 65h1v1h-1zM24 65h1v1h-1zM0 66h1v1h-1zM10 66h1v1h-1zM13 66h1v1h-1zM25 66h1v1h-1zM14 67h1v1h-1zM68 67h1v1h-1zM19 68h1v1h-1zM31 68h1v1h-1zM69 68h1v1h-1zM37 69h1v1h-1zM61 69h1v1h-1zM64 69h3v1h-3zM69 69h1v1h-1zM71 69h1v1h-1zM52 70h1v1h-1zM54 70h1v1h-1zM58 71h1v1h-1zM60 71h1v1h-1zM37 72h1v1h-1zM59 72h1v1h-1zM59 73h1v1h-1zM62 73h1v1h-1zM31 74h1v1h-1zM33 74h1v1h-1zM41 74h1v1h-1zM67 74h1v1h-1zM69 74h2v1h-2zM72 74h1v1h-1zM64 75h2v1h-2zM26 76h1v1h-1zM52 76h1v1h-1zM61 76h1v1h-1zM71 76h1v1h-1zM73 76h1v1h-1zM36 78h1v1h-1zM41 78h1v1h-1zM66 78h1v1h-1zM72 78h1v1h-1zM58 80h1v1h-1zM65 80h1v1h-1zM54 82h1v1h-1zM65 82h1v1h-1zM68 82h1v1h-1zM74 82h1v1h-1zM7 83h1v1h-1zM59 86h2v1h-2zM64 86h1v1h-1zM66 86h1v1h-1zM71 86h1v1h-1zM16 87h1v1h-1zM66 87h2v1h-2zM71 87h2v1h-2zM3 88h1v1h-1zM12 90h1v1h-1zM22 90h1v1h-1zM27 90h1v1h-1zM45 90h1v1h-1zM50 90h1v1h-1zM2 91h2v1h-2zM9 91h1v1h-1zM15 91h3v1h-3zM25 91h1v1h-1zM6 93h1v1h-1zM5 94h1v1h-1zM13 94h1v1h-1zM0 95h1v1h-1zM2 95h2v1h-2zM9 95h1v1h-1zM22 95h1v1h-1zM24 95h1v1h-1zM46 95h1v1h-1zM3 96h1v1h-1zM52 96h1v1h-1zM6 97h1v1h-1zM3 99h1v1h-1zM36 99h1v1h-1zM38 99h1v1h-1zM52 99h1v1h-1zM34 100h3v1h-3zM40 100h1v1h-1zM33 101h1v1h-1zM68 101h1v1h-1zM32 102h1v1h-1zM38 102h1v1h-1zM43 102h1v1h-1zM57 102h1v1h-1zM73 102h1v1h-1zM36 103h1v1h-1zM50 103h1v1h-1zM36 104h2v1h-2zM40 104h2v1h-2zM45 104h1v1h-1zM56 104h2v1h-2zM57 105h1v1h-1zM64 105h2v1h-2zM72 105h1v1h-1zM67 106h1v1h-1zM74 106h1v1h-1zM58 109h1v1h-1zM65 109h2v1h-2zM71 109h1v1h-1zM7 110h1v1h-1zM20 111h1v1h-1zM1 112h1v1h-1zM21 112h1v1h-1zM28 112h1v1h-1zM25 113h2v1h-2zM49 113h1v1h-1zM13 114h1v1h-1zM21 114h1v1h-1zM23 114h2v1h-2zM31 114h1v1h-1zM43 114h1v1h-1zM48 114h1v1h-1zM13 115h1v1h-1zM17 115h1v1h-1zM19 115h2v1h-2zM13 116h1v1h-1zM38 116h1v1h-1zM13 117h1v1h-1zM15 117h1v1h-1zM22 117h1v1h-1zM24 117h1v1h-1zM36 117h1v1h-1zM3 119h1v1h-1zM9 119h1v1h-1zM23 119h2v1h-2zM28 119h1v1h-1zM10 120h1v1h-1zM19 120h1v1h-1zM38 120h1v1h-1zM0 121h1v1h-1zM10 121h1v1h-1zM33 121h1v1h-1zM52 121h1v1h-1zM10 122h1v1h-1zM15 122h1v1h-1zM27 122h1v1h-1zM52 122h1v1h-1zM54 122h1v1h-1zM22 123h1v1h-1zM44 123h1v1h-1zM58 123h1v1h-1zM33 124h1v1h-1zM32 126h1v1h-1zM57 126h1v1h-1zM64 126h1v1h-1zM73 126h1v1h-1zM33 127h1v1h-1zM20 128h1v1h-1zM58 128h1v1h-1zM60 128h1v1h-1zM66 128h1v1h-1zM73 128h1v1h-1zM52 129h1v1h-1zM60 129h1v1h-1zM19 130h1v1h-1zM62 131h1v1h-1zM16 133h1v1h-1zM26 133h1v1h-1zM28 133h1v1h-1zM36 134h1v1h-1zM54 134h1v1h-1zM64 134h1v1h-1zM68 134h1v1h-1zM70 134h1v1h-1zM9 135h1v1h-1zM6 137h1v1h-1zM13 138h1v1h-1zM52 138h1v1h-1zM54 138h1v1h-1zM5 139h1v1h-1zM11 139h1v1h-1zM21 139h2v1h-2zM28 139h1v1h-1zM49 139h1v1h-1zM60 139h1v1h-1zM5 140h1v1h-1zM41 140h1v1h-1zM26 141h1v1h-1zM25 142h1v1h-1zM15 143h1v1h-1zM19 143h1v1h-1zM7 144h1v1h-1zM25 144h1v1h-1zM50 144h1v1h-1zM52 145h1v1h-1zM54 145h1v1h-1zM27 146h1v1h-1zM61 146h1v1h-1zM23 147h1v1h-1zM50 147h1v1h-1zM58 147h1v1h-1zM65 147h1v1h-1zM43 149h1v1h-1zM62 149h1v1h-1z"/><path fill="#603084" d="M57 51h1v1h-1zM59 84h1v1h-1zM62 84h3v1h-3zM66 84h1v1h-1zM68 84h4v1h-4zM73 84h1v1h-1zM58 112h1v1h-1zM67 112h1v1h-1zM69 125h1v1h-1zM73 125h1v1h-1z"/><path fill="#603c84" d="M60 84h1v1h-1zM65 84h1v1h-1zM67 84h1v1h-1zM72 84h1v1h-1zM74 84h1v1h-1zM58 125h1v1h-1zM67 125h1v1h-1z"/><path fill="#603c90" d="M57 84h2v1h-2zM67 99h1v1h-1zM7 108h1v1h-1zM29 108h1v1h-1zM62 147h1v1h-1z"/><path fill="#604890" d="M69 105h1v1h-1zM60 111h1v1h-1zM61 130h1v1h-1z"/><path fill="#60489c" d="M70 8h1v1h-1zM6 26h1v1h-1zM60 38h1v1h-1zM72 99h1v1h-1zM69 108h1v1h-1zM64 114h1v1h-1zM60 125h1v1h-1zM74 125h1v1h-1zM66 126h1v1h-1z"/><path fill="#60549c" d="M69 8h1v1h-1zM58 99h1v1h-1z"/><path fill="#6054a8" d="M72 8h1v1h-1z"/><path fill="#6054b4" d="M67 3h1v1h-1zM69 20h1v1h-1zM29 68h1v1h-1zM72 72h1v1h-1zM54 73h1v1h-1zM68 74h1v1h-1zM30 82h1v1h-1zM72 102h1v1h-1zM69 106h1v1h-1zM10 109h1v1h-1zM21 111h1v1h-1zM28 111h1v1h-1zM51 112h1v1h-1zM7 117h1v1h-1zM2 119h1v1h-1zM21 119h1v1h-1zM50 127h1v1h-1zM39 131h1v1h-1zM14 132h1v1h-1zM66 149h1v1h-1z"/><path fill="#6060b4" d="M65 6h1v1h-1zM70 6h1v1h-1zM71 8h1v1h-1zM51 10h1v1h-1zM72 10h1v1h-1zM32 11h1v1h-1zM64 11h1v1h-1zM70 11h1v1h-1zM70 15h1v1h-1zM61 18h1v1h-1zM70 19h1v1h-1zM74 19h1v1h-1zM56 21h1v1h-1zM20 22h1v1h-1zM73 22h1v1h-1zM3 24h1v1h-1zM26 25h1v1h-1zM69 25h1v1h-1zM74 25h1v1h-1zM0 27h1v1h-1zM13 28h1v1h-1zM16 28h1v1h-1zM21 28h1v1h-1zM20 29h1v1h-1zM52 29h1v1h-1zM14 31h1v1h-1zM26 31h1v1h-1zM0 32h2v1h-2zM5 33h1v1h-1zM2 34h1v1h-1zM10 35h1v1h-1zM6 37h1v1h-1zM15 37h1v1h-1zM19 37h1v1h-1zM25 37h1v1h-1zM43 40h1v1h-1zM45 40h1v1h-1zM25 42h1v1h-1zM17 43h1v1h-1zM23 43h1v1h-1zM16 46h1v1h-1zM26 46h1v1h-1zM14 47h1v1h-1zM29 47h1v1h-1zM29 49h1v1h-1zM43 51h1v1h-1zM13 52h1v1h-1zM27 52h1v1h-1zM20 53h1v1h-1zM31 53h1v1h-1zM31 54h1v1h-1zM0 55h1v1h-1zM15 55h1v1h-1zM23 55h1v1h-1zM6 56h1v1h-1zM11 56h1v1h-1zM7 57h1v1h-1zM3 59h1v1h-1zM22 59h1v1h-1zM7 60h1v1h-1zM22 60h1v1h-1zM53 60h1v1h-1zM7 61h1v1h-1zM52 61h1v1h-1zM54 61h1v1h-1zM13 62h1v1h-1zM7 63h1v1h-1zM7 64h1v1h-1zM11 64h1v1h-1zM23 64h1v1h-1zM28 64h1v1h-1zM21 65h1v1h-1zM3 66h1v1h-1zM7 66h1v1h-1zM22 66h1v1h-1zM10 67h1v1h-1zM61 67h1v1h-1zM67 67h1v1h-1zM65 68h1v1h-1zM57 71h1v1h-1zM65 71h1v1h-1zM63 72h1v1h-1zM68 72h1v1h-1zM73 72h1v1h-1zM70 73h1v1h-1zM59 75h1v1h-1zM59 76h1v1h-1zM59 78h1v1h-1zM64 78h1v1h-1zM71 78h1v1h-1zM74 78h1v1h-1zM43 79h1v1h-1zM64 80h1v1h-1zM58 81h1v1h-1zM60 81h1v1h-1zM69 81h1v1h-1zM45 82h1v1h-1zM61 82h1v1h-1zM69 82h1v1h-1zM46 85h1v1h-1zM62 86h1v1h-1zM40 88h1v1h-1zM58 88h1v1h-1zM45 89h1v1h-1zM48 90h1v1h-1zM52 90h1v1h-1zM54 90h1v1h-1zM19 91h2v1h-2zM24 92h1v1h-1zM11 93h1v1h-1zM28 93h1v1h-1zM9 94h1v1h-1zM12 94h1v1h-1zM48 94h1v1h-1zM6 95h1v1h-1zM26 95h1v1h-1zM36 97h1v1h-1zM40 97h1v1h-1zM54 98h1v1h-1zM52 100h1v1h-1zM68 100h1v1h-1zM57 101h1v1h-1zM71 101h1v1h-1zM7 102h1v1h-1zM3 104h1v1h-1zM34 104h1v1h-1zM54 104h1v1h-1zM65 104h1v1h-1zM67 104h1v1h-1zM50 105h1v1h-1zM62 105h1v1h-1zM1 106h1v1h-1zM68 106h1v1h-1zM1 109h1v1h-1zM67 109h1v1h-1zM74 109h1v1h-1zM9 110h1v1h-1zM51 110h1v1h-1zM50 111h1v1h-1zM15 115h1v1h-1zM46 115h1v1h-1zM11 116h1v1h-1zM14 117h1v1h-1zM34 117h1v1h-1zM54 117h1v1h-1zM53 119h1v1h-1zM44 120h1v1h-1zM49 120h1v1h-1zM16 121h1v1h-1zM31 122h1v1h-1zM46 123h1v1h-1zM67 126h1v1h-1zM45 128h1v1h-1zM68 128h1v1h-1zM42 129h1v1h-1zM50 129h1v1h-1zM67 129h1v1h-1zM74 129h1v1h-1zM70 131h1v1h-1zM25 132h2v1h-2zM37 133h1v1h-1zM14 135h1v1h-1zM22 135h1v1h-1zM23 136h1v1h-1zM14 137h1v1h-1zM17 139h1v1h-1zM23 139h1v1h-1zM0 141h1v1h-1zM3 141h1v1h-1zM48 142h1v1h-1zM44 143h1v1h-1zM60 147h1v1h-1zM63 147h1v1h-1zM45 148h1v1h-1zM38 149h1v1h-1z"/><path fill="#6060c0" d="M45 0h1v1h-1zM48 2h1v1h-1zM54 2h1v1h-1zM73 3h1v1h-1zM37 4h1v1h-1zM56 5h1v1h-1zM59 6h1v1h-1zM61 6h1v1h-1zM60 8h1v1h-1zM33 15h1v1h-1zM68 15h1v1h-1zM38 18h1v1h-1zM47 18h1v1h-1zM60 18h1v1h-1zM63 18h1v1h-1zM37 19h3v1h-3zM37 20h1v1h-1zM62 20h1v1h-1zM64 20h1v1h-1zM15 22h1v1h-1zM65 22h1v1h-1zM74 22h1v1h-1zM4 24h1v1h-1zM22 24h1v1h-1zM70 25h1v1h-1zM11 27h2v1h-2zM15 28h1v1h-1zM21 33h1v1h-1zM20 34h1v1h-1zM35 34h1v1h-1zM1 35h1v1h-1zM26 35h1v1h-1zM0 36h1v1h-1zM9 39h1v1h-1zM52 40h1v1h-1zM6 42h1v1h-1zM34 42h1v1h-1zM13 43h1v1h-1zM40 44h1v1h-1zM49 44h1v1h-1zM13 45h1v1h-1zM3 47h1v1h-1zM22 47h1v1h-1zM12 48h1v1h-1zM14 48h1v1h-1zM22 49h1v1h-1zM28 52h1v1h-1zM21 53h1v1h-1zM22 55h1v1h-1zM27 57h1v1h-1zM0 58h1v1h-1zM34 58h1v1h-1zM4 59h1v1h-1zM10 59h1v1h-1zM28 59h1v1h-1zM13 61h1v1h-1zM17 61h1v1h-1zM6 65h1v1h-1zM28 65h1v1h-1zM31 65h1v1h-1zM69 67h1v1h-1zM3 68h1v1h-1zM62 68h3v1h-3zM66 68h1v1h-1zM35 69h1v1h-1zM56 73h1v1h-1zM34 74h1v1h-1zM71 75h1v1h-1zM60 76h1v1h-1zM69 76h1v1h-1zM62 80h1v1h-1zM65 81h1v1h-1zM71 81h1v1h-1zM5 82h1v1h-1zM18 82h1v1h-1zM39 82h1v1h-1zM57 82h1v1h-1zM62 82h2v1h-2zM73 82h1v1h-1zM34 84h1v1h-1zM41 85h1v1h-1zM58 85h1v1h-1zM68 86h2v1h-2zM43 88h1v1h-1zM64 88h1v1h-1zM69 88h1v1h-1zM73 88h1v1h-1zM10 89h1v1h-1zM5 92h1v1h-1zM33 92h1v1h-1zM1 93h1v1h-1zM15 93h1v1h-1zM74 93h1v1h-1zM7 94h1v1h-1zM10 95h1v1h-1zM37 98h1v1h-1zM60 100h1v1h-1zM63 100h2v1h-2zM69 100h1v1h-1zM71 100h1v1h-1zM65 101h1v1h-1zM53 102h1v1h-1zM63 105h1v1h-1zM9 106h1v1h-1zM21 106h1v1h-1zM60 106h1v1h-1zM71 106h1v1h-1zM51 108h1v1h-1zM17 109h1v1h-1zM50 109h1v1h-1zM60 109h1v1h-1zM62 109h3v1h-3zM2 110h1v1h-1zM37 110h1v1h-1zM45 110h1v1h-1zM20 112h1v1h-1zM9 114h1v1h-1zM3 115h1v1h-1zM56 115h1v1h-1zM51 118h1v1h-1zM5 119h1v1h-1zM13 119h2v1h-2zM32 119h1v1h-1zM54 119h1v1h-1zM20 120h1v1h-1zM52 120h1v1h-1zM11 121h1v1h-1zM42 121h1v1h-1zM50 121h1v1h-1zM54 124h1v1h-1zM36 126h1v1h-1zM38 126h1v1h-1zM65 126h1v1h-1zM50 128h1v1h-1zM22 130h1v1h-1zM49 131h1v1h-1zM51 131h1v1h-1zM20 133h1v1h-1zM25 134h1v1h-1zM52 134h1v1h-1zM59 134h1v1h-1zM15 136h1v1h-1zM29 136h1v1h-1zM36 136h1v1h-1zM13 137h1v1h-1zM38 139h1v1h-1zM16 140h1v1h-1zM13 141h1v1h-1zM29 141h1v1h-1zM68 141h1v1h-1zM73 141h1v1h-1zM42 143h1v1h-1zM50 143h1v1h-1zM22 144h1v1h-1zM28 144h1v1h-1zM25 145h2v1h-2zM56 147h1v1h-1zM69 147h1v1h-1z"/><path fill="#6c3c84" d="M67 53h1v1h-1zM58 55h1v1h-1zM61 84h1v1h-1zM69 112h1v1h-1zM71 125h2v1h-2z"/><path fill="#6c4884" d="M73 31h1v1h-1zM57 55h1v1h-1zM73 55h2v1h-2zM71 112h2v1h-2zM74 112h1v1h-1zM71 121h1v1h-1zM57 125h1v1h-1zM70 125h1v1h-1zM58 143h1v1h-1z"/><path fill="#6c4890" d="M67 1h1v1h-1zM61 99h1v1h-1zM57 108h1v1h-1zM60 108h1v1h-1zM72 108h1v1h-1zM65 114h1v1h-1zM71 114h1v1h-1zM62 144h1v1h-1z"/><path fill="#6c489c" d="M72 114h1v1h-1zM67 130h1v1h-1z"/><path fill="#6c549c" d="M59 1h1v1h-1zM66 8h1v1h-1zM65 61h1v1h-1zM69 66h1v1h-1zM72 82h1v1h-1zM66 99h1v1h-1zM66 105h1v1h-1zM57 114h1v1h-1zM73 135h1v1h-1zM63 141h1v1h-1zM67 141h1v1h-1z"/><path fill="#6c54a8" d="M73 1h1v1h-1zM17 39h1v1h-1zM13 50h1v1h-1zM16 57h1v1h-1zM62 72h1v1h-1zM71 82h1v1h-1zM57 99h1v1h-1zM60 99h1v1h-1zM65 99h1v1h-1zM62 100h1v1h-1zM67 100h1v1h-1zM70 100h1v1h-1zM72 100h1v1h-1zM66 108h2v1h-2zM73 108h1v1h-1zM61 141h1v1h-1zM69 141h1v1h-1zM59 147h1v1h-1z"/><path fill="#6c60a8" d="M63 1h1v1h-1zM71 1h1v1h-1zM14 24h1v1h-1zM27 30h1v1h-1zM70 72h1v1h-1zM65 85h1v1h-1zM74 85h1v1h-1zM53 98h1v1h-1zM59 100h1v1h-1zM20 101h1v1h-1zM58 111h1v1h-1zM66 114h1v1h-1zM68 114h2v1h-2zM32 121h1v1h-1zM63 126h1v1h-1z"/><path fill="#6c60b4" d="M65 1h1v1h-1zM68 1h1v1h-1zM59 8h1v1h-1zM62 8h1v1h-1zM68 8h1v1h-1zM0 26h1v1h-1zM4 26h1v1h-1zM16 26h1v1h-1zM15 31h1v1h-1zM67 51h1v1h-1zM21 55h1v1h-1zM16 66h1v1h-1zM65 66h1v1h-1zM61 73h1v1h-1zM69 85h1v1h-1zM27 87h1v1h-1zM73 99h1v1h-1zM57 100h1v1h-1zM61 100h1v1h-1zM73 100h1v1h-1zM73 104h1v1h-1zM67 105h2v1h-2zM71 105h1v1h-1zM73 105h1v1h-1zM1 108h1v1h-1zM19 108h1v1h-1zM28 108h1v1h-1zM58 108h1v1h-1zM36 122h1v1h-1zM30 125h1v1h-1zM35 125h1v1h-1zM61 126h1v1h-1zM70 126h1v1h-1zM58 130h1v1h-1zM22 131h1v1h-1zM6 138h1v1h-1zM64 141h2v1h-2zM71 141h1v1h-1zM74 141h1v1h-1zM61 147h1v1h-1zM66 147h1v1h-1zM68 147h1v1h-1zM70 147h1v1h-1zM72 147h1v1h-1z"/><path fill="#6c60c0" d="M49 0h1v1h-1zM34 1h1v1h-1zM60 1h1v1h-1zM37 3h1v1h-1zM31 4h1v1h-1zM20 5h1v1h-1zM73 8h1v1h-1zM41 9h1v1h-1zM39 15h1v1h-1zM61 21h1v1h-1zM71 22h1v1h-1zM43 23h1v1h-1zM6 25h1v1h-1zM10 25h1v1h-1zM73 25h1v1h-1zM28 28h1v1h-1zM1 37h1v1h-1zM16 40h1v1h-1zM1 41h1v1h-1zM6 44h1v1h-1zM39 45h1v1h-1zM47 47h1v1h-1zM56 52h1v1h-1zM1 53h1v1h-1zM50 53h1v1h-1zM1 54h1v1h-1zM26 56h1v1h-1zM2 57h1v1h-1zM15 57h1v1h-1zM23 57h1v1h-1zM5 58h1v1h-1zM10 58h1v1h-1zM16 59h1v1h-1zM18 63h1v1h-1zM25 63h1v1h-1zM2 65h1v1h-1zM41 69h1v1h-1zM61 71h1v1h-1zM51 72h1v1h-1zM36 73h1v1h-1zM61 74h1v1h-1zM67 75h1v1h-1zM64 76h1v1h-1zM3 77h1v1h-1zM60 82h1v1h-1zM27 86h1v1h-1zM51 86h1v1h-1zM61 86h1v1h-1zM60 88h1v1h-1zM18 90h1v1h-1zM22 91h1v1h-1zM2 96h1v1h-1zM9 96h1v1h-1zM22 96h1v1h-1zM13 100h1v1h-1zM65 102h1v1h-1zM67 102h1v1h-1zM56 103h1v1h-1zM29 104h1v1h-1zM43 108h1v1h-1zM48 108h1v1h-1zM68 108h1v1h-1zM16 109h1v1h-1zM22 109h1v1h-1zM14 111h1v1h-1zM50 115h1v1h-1zM27 117h1v1h-1zM33 119h1v1h-1zM3 124h1v1h-1zM69 126h1v1h-1zM71 126h1v1h-1zM74 126h1v1h-1zM30 127h1v1h-1zM69 128h1v1h-1zM13 130h1v1h-1zM58 133h1v1h-1zM11 134h1v1h-1zM61 134h1v1h-1zM63 134h1v1h-1zM3 138h1v1h-1zM20 139h1v1h-1zM18 140h1v1h-1zM57 141h1v1h-1zM48 144h1v1h-1zM3 148h1v1h-1z"/><path fill="#6c6cb4" d="M69 1h1v1h-1zM71 128h1v1h-1zM58 135h1v1h-1z"/><path fill="#6c6cc0" d="M56 0h1v1h-1zM48 3h1v1h-1zM56 3h2v1h-2zM64 3h1v1h-1zM66 3h1v1h-1zM68 3h1v1h-1zM71 3h2v1h-2zM39 4h1v1h-1zM56 4h1v1h-1zM4 5h1v1h-1zM19 5h1v1h-1zM48 5h1v1h-1zM31 6h1v1h-1zM38 6h1v1h-1zM63 6h1v1h-1zM36 7h1v1h-1zM61 8h1v1h-1zM63 8h1v1h-1zM65 8h1v1h-1zM58 9h1v1h-1zM61 10h1v1h-1zM48 11h1v1h-1zM72 11h1v1h-1zM2 12h1v1h-1zM26 12h1v1h-1zM52 12h1v1h-1zM33 13h1v1h-1zM31 14h1v1h-1zM19 15h1v1h-1zM34 15h1v1h-1zM47 15h1v1h-1zM60 15h1v1h-1zM63 15h1v1h-1zM65 15h1v1h-1zM67 15h1v1h-1zM31 16h1v1h-1zM54 16h1v1h-1zM7 17h1v1h-1zM37 17h1v1h-1zM41 17h1v1h-1zM58 17h1v1h-1zM72 17h1v1h-1zM74 17h1v1h-1zM58 18h1v1h-1zM72 18h1v1h-1zM16 19h1v1h-1zM34 19h1v1h-1zM60 19h1v1h-1zM23 20h1v1h-1zM66 20h1v1h-1zM70 20h1v1h-1zM22 21h1v1h-1zM25 21h1v1h-1zM43 22h1v1h-1zM57 23h1v1h-1zM70 23h1v1h-1zM15 24h1v1h-1zM34 24h1v1h-1zM45 25h1v1h-1zM58 25h1v1h-1zM67 25h1v1h-1zM15 26h1v1h-1zM50 26h1v1h-1zM52 26h1v1h-1zM20 27h1v1h-1zM4 28h2v1h-2zM10 28h1v1h-1zM16 29h1v1h-1zM16 30h1v1h-1zM23 30h1v1h-1zM6 31h1v1h-1zM17 31h1v1h-1zM6 32h1v1h-1zM14 32h1v1h-1zM7 34h1v1h-1zM17 34h1v1h-1zM22 34h1v1h-1zM19 36h1v1h-1zM27 36h1v1h-1zM9 37h1v1h-1zM12 37h1v1h-1zM18 39h1v1h-1zM28 39h1v1h-1zM45 39h1v1h-1zM48 39h1v1h-1zM51 40h1v1h-1zM16 41h1v1h-1zM22 41h3v1h-3zM28 41h1v1h-1zM1 42h1v1h-1zM12 42h1v1h-1zM56 42h1v1h-1zM3 43h1v1h-1zM54 43h1v1h-1zM16 44h1v1h-1zM50 44h1v1h-1zM1 45h1v1h-1zM0 47h1v1h-1zM17 47h1v1h-1zM43 47h1v1h-1zM6 49h1v1h-1zM25 50h2v1h-2zM24 51h1v1h-1zM9 52h1v1h-1zM29 52h1v1h-1zM6 53h1v1h-1zM15 53h1v1h-1zM17 54h1v1h-1zM50 54h1v1h-1zM4 55h1v1h-1zM20 55h1v1h-1zM54 56h1v1h-1zM0 57h1v1h-1zM5 57h1v1h-1zM11 57h1v1h-1zM27 58h2v1h-2zM3 60h2v1h-2zM11 60h1v1h-1zM21 60h1v1h-1zM51 60h1v1h-1zM25 62h1v1h-1zM73 62h1v1h-1zM2 64h1v1h-1zM15 64h1v1h-1zM29 64h1v1h-1zM11 65h1v1h-1zM17 65h1v1h-1zM27 65h1v1h-1zM1 66h1v1h-1zM21 66h1v1h-1zM48 66h1v1h-1zM51 66h1v1h-1zM0 67h1v1h-1zM3 67h1v1h-1zM27 67h1v1h-1zM38 67h1v1h-1zM56 67h1v1h-1zM9 68h1v1h-1zM16 68h1v1h-1zM28 68h1v1h-1zM61 68h1v1h-1zM70 68h1v1h-1zM72 68h1v1h-1zM62 69h1v1h-1zM56 70h1v1h-1zM69 71h1v1h-1zM74 71h1v1h-1zM31 72h1v1h-1zM36 72h1v1h-1zM71 72h1v1h-1zM42 73h2v1h-2zM36 74h1v1h-1zM33 75h1v1h-1zM68 75h1v1h-1zM31 76h1v1h-1zM65 76h1v1h-1zM67 76h1v1h-1zM48 77h1v1h-1zM57 78h1v1h-1zM63 78h1v1h-1zM38 80h1v1h-1zM48 80h1v1h-1zM59 80h1v1h-1zM61 80h1v1h-1zM38 81h1v1h-1zM1 82h1v1h-1zM14 82h1v1h-1zM42 82h1v1h-1zM58 82h2v1h-2zM66 82h2v1h-2zM38 83h1v1h-1zM38 85h1v1h-1zM40 85h1v1h-1zM60 85h1v1h-1zM73 85h1v1h-1zM56 86h2v1h-2zM63 86h1v1h-1zM65 86h1v1h-1zM15 87h1v1h-1zM63 87h1v1h-1zM74 88h1v1h-1zM7 89h1v1h-1zM22 89h1v1h-1zM56 89h1v1h-1zM11 91h1v1h-1zM24 91h1v1h-1zM1 92h1v1h-1zM14 92h1v1h-1zM31 92h1v1h-1zM54 92h1v1h-1zM12 93h1v1h-1zM73 93h1v1h-1zM6 94h1v1h-1zM25 94h1v1h-1zM15 95h1v1h-1zM7 97h1v1h-1zM31 97h1v1h-1zM51 97h1v1h-1zM38 98h1v1h-1zM50 98h1v1h-1zM10 99h1v1h-1zM54 99h1v1h-1zM43 100h1v1h-1zM58 100h1v1h-1zM65 100h1v1h-1zM7 101h1v1h-1zM36 101h1v1h-1zM42 101h1v1h-1zM61 101h1v1h-1zM46 103h1v1h-1zM33 104h1v1h-1zM42 104h1v1h-1zM52 104h1v1h-1zM0 105h1v1h-1zM3 105h1v1h-1zM39 105h1v1h-1zM58 105h1v1h-1zM16 106h1v1h-1zM27 106h1v1h-1zM52 106h1v1h-1zM58 106h1v1h-1zM73 107h1v1h-1zM13 109h1v1h-1zM15 110h1v1h-1zM4 112h2v1h-2zM9 112h2v1h-2zM29 112h1v1h-1zM10 113h1v1h-1zM11 114h1v1h-1zM38 114h1v1h-1zM4 115h1v1h-1zM31 115h1v1h-1zM33 115h1v1h-1zM4 116h1v1h-1zM26 116h2v1h-2zM31 116h1v1h-1zM33 116h1v1h-1zM35 117h1v1h-1zM39 117h1v1h-1zM25 118h1v1h-1zM15 119h1v1h-1zM5 121h1v1h-1zM15 121h1v1h-1zM35 121h1v1h-1zM51 121h1v1h-1zM35 122h1v1h-1zM6 123h1v1h-1zM69 123h1v1h-1zM2 124h1v1h-1zM39 125h1v1h-1zM39 126h1v1h-1zM72 126h1v1h-1zM37 127h1v1h-1zM40 127h1v1h-1zM44 127h1v1h-1zM54 127h1v1h-1zM7 128h1v1h-1zM70 128h1v1h-1zM40 129h1v1h-1zM63 129h1v1h-1zM66 129h1v1h-1zM69 129h1v1h-1zM6 130h1v1h-1zM29 130h1v1h-1zM52 130h1v1h-1zM33 131h1v1h-1zM38 131h1v1h-1zM24 132h1v1h-1zM1 133h1v1h-1zM22 133h1v1h-1zM15 134h1v1h-1zM17 134h1v1h-1zM62 134h1v1h-1zM25 135h1v1h-1zM38 135h1v1h-1zM18 136h1v1h-1zM29 137h1v1h-1zM5 138h1v1h-1zM36 138h1v1h-1zM29 139h1v1h-1zM54 139h1v1h-1zM57 139h1v1h-1zM68 139h1v1h-1zM19 140h1v1h-1zM28 141h1v1h-1zM59 141h2v1h-2zM72 141h1v1h-1zM9 142h1v1h-1zM2 143h1v1h-1zM20 143h1v1h-1zM54 143h1v1h-1zM14 144h1v1h-1zM38 144h1v1h-1zM40 144h1v1h-1zM74 144h1v1h-1zM62 145h1v1h-1zM29 146h1v1h-1zM50 146h2v1h-2zM1 147h1v1h-1zM43 147h1v1h-1zM47 147h1v1h-1zM57 147h1v1h-1zM64 147h1v1h-1z"/><path fill="#784884" d="M60 53h1v1h-1zM58 90h1v1h-1zM73 121h1v1h-1z"/><path fill="#784890" d="M62 1h1v1h-1zM74 53h1v1h-1zM67 55h1v1h-1zM60 97h1v1h-1zM62 99h1v1h-1zM64 99h1v1h-1zM62 108h1v1h-1zM57 112h1v1h-1zM60 112h1v1h-1zM64 112h2v1h-2zM62 114h1v1h-1zM57 121h2v1h-2zM62 125h1v1h-1zM63 130h1v1h-1zM70 135h1v1h-1z"/><path fill="#785490" d="M70 1h1v1h-1zM74 1h1v1h-1zM65 53h2v1h-2zM73 53h1v1h-1zM64 55h1v1h-1zM71 55h1v1h-1zM68 99h1v1h-1zM73 111h1v1h-1zM67 114h1v1h-1zM73 115h1v1h-1zM60 121h1v1h-1zM71 130h1v1h-1zM74 143h1v1h-1z"/><path fill="#78549c" d="M66 1h1v1h-1zM67 8h1v1h-1zM53 53h1v1h-1zM73 65h1v1h-1zM67 66h1v1h-1zM68 96h1v1h-1zM58 97h1v1h-1zM72 104h1v1h-1zM74 108h1v1h-1zM68 115h1v1h-1zM68 117h1v1h-1zM65 121h1v1h-1zM70 141h1v1h-1z"/><path fill="#78609c" d="M60 2h1v1h-1zM16 58h1v1h-1zM25 69h1v1h-1zM66 85h1v1h-1zM70 85h1v1h-1zM57 97h1v1h-1zM27 109h1v1h-1z"/><path fill="#7860a8" d="M31 0h1v1h-1zM46 3h1v1h-1zM4 22h1v1h-1zM0 30h1v1h-1zM58 31h1v1h-1zM57 38h1v1h-1zM36 42h1v1h-1zM62 51h1v1h-1zM74 66h1v1h-1zM2 69h1v1h-1zM43 72h1v1h-1zM62 78h1v1h-1zM63 85h1v1h-1zM4 88h1v1h-1zM12 89h1v1h-1zM6 90h1v1h-1zM60 93h1v1h-1zM10 101h1v1h-1zM60 105h1v1h-1zM21 109h1v1h-1zM61 109h1v1h-1zM26 128h1v1h-1zM62 141h1v1h-1z"/><path fill="#7860b4" d="M64 85h1v1h-1zM57 88h1v1h-1zM56 96h1v1h-1zM66 100h1v1h-1zM22 108h1v1h-1zM11 109h1v1h-1zM19 116h1v1h-1zM66 139h1v1h-1z"/><path fill="#786ca8" d="M67 128h1v1h-1zM29 138h1v1h-1zM73 144h1v1h-1z"/><path fill="#786cb4" d="M54 11h1v1h-1zM9 22h1v1h-1zM22 22h1v1h-1zM71 24h1v1h-1zM59 25h1v1h-1zM5 26h1v1h-1zM14 30h1v1h-1zM24 31h1v1h-1zM4 47h1v1h-1zM3 58h1v1h-1zM29 61h1v1h-1zM21 62h1v1h-1zM13 65h1v1h-1zM2 66h1v1h-1zM20 66h1v1h-1zM68 66h1v1h-1zM59 85h1v1h-1zM16 95h1v1h-1zM60 96h1v1h-1zM74 104h1v1h-1zM74 105h1v1h-1zM71 108h1v1h-1zM43 111h1v1h-1zM52 111h1v1h-1zM19 112h1v1h-1zM31 113h1v1h-1zM74 114h1v1h-1zM12 119h1v1h-1zM33 122h1v1h-1zM63 128h1v1h-1zM60 130h1v1h-1zM1 131h1v1h-1zM28 131h1v1h-1zM56 131h1v1h-1zM69 135h1v1h-1zM66 141h1v1h-1zM60 144h1v1h-1zM69 144h1v1h-1z"/><path fill="#786cc0" d="M57 1h1v1h-1zM31 7h1v1h-1zM3 10h1v1h-1zM39 14h1v1h-1zM50 14h2v1h-2zM26 16h1v1h-1zM40 17h1v1h-1zM71 17h1v1h-1zM30 20h1v1h-1zM33 20h1v1h-1zM0 21h1v1h-1zM59 22h1v1h-1zM63 23h1v1h-1zM26 24h1v1h-1zM42 24h1v1h-1zM68 25h1v1h-1zM23 26h1v1h-1zM22 27h1v1h-1zM22 28h1v1h-1zM12 30h1v1h-1zM24 30h1v1h-1zM1 31h1v1h-1zM5 31h1v1h-1zM28 31h1v1h-1zM55 31h1v1h-1zM7 33h1v1h-1zM5 36h1v1h-1zM48 36h1v1h-1zM7 38h1v1h-1zM29 38h1v1h-1zM6 40h1v1h-1zM21 42h1v1h-1zM2 44h1v1h-1zM21 45h1v1h-1zM52 46h1v1h-1zM56 46h1v1h-1zM15 47h1v1h-1zM56 50h1v1h-1zM15 51h1v1h-1zM4 53h1v1h-1zM23 53h1v1h-1zM11 54h1v1h-1zM21 56h1v1h-1zM34 56h1v1h-1zM4 57h1v1h-1zM17 57h1v1h-1zM0 63h1v1h-1zM5 64h1v1h-1zM12 64h1v1h-1zM58 66h1v1h-1zM4 67h1v1h-1zM6 67h1v1h-1zM32 67h1v1h-1zM70 67h1v1h-1zM67 68h1v1h-1zM48 69h1v1h-1zM61 75h2v1h-2zM72 76h1v1h-1zM61 78h1v1h-1zM65 78h1v1h-1zM64 81h1v1h-1zM2 82h1v1h-1zM34 85h1v1h-1zM57 85h1v1h-1zM20 89h1v1h-1zM48 89h1v1h-1zM3 93h1v1h-1zM20 93h1v1h-1zM38 93h1v1h-1zM11 94h1v1h-1zM29 94h1v1h-1zM18 95h1v1h-1zM23 95h1v1h-1zM20 96h1v1h-1zM24 96h1v1h-1zM29 96h1v1h-1zM21 101h1v1h-1zM61 102h1v1h-1zM59 105h1v1h-1zM11 106h1v1h-1zM66 106h1v1h-1zM65 108h1v1h-1zM25 109h1v1h-1zM38 109h1v1h-1zM70 109h1v1h-1zM13 110h1v1h-1zM5 111h1v1h-1zM27 112h1v1h-1zM7 114h1v1h-1zM51 114h1v1h-1zM21 115h1v1h-1zM2 117h1v1h-1zM3 118h1v1h-1zM47 120h1v1h-1zM19 121h2v1h-2zM46 122h1v1h-1zM73 123h1v1h-1zM33 125h1v1h-1zM47 126h1v1h-1zM49 126h1v1h-1zM59 126h1v1h-1zM61 128h1v1h-1zM0 132h1v1h-1zM25 133h1v1h-1zM4 135h1v1h-1zM16 135h1v1h-1zM37 135h1v1h-1zM8 136h1v1h-1zM27 137h1v1h-1zM4 138h1v1h-1zM14 139h1v1h-1zM19 139h1v1h-1zM26 143h1v1h-1zM56 144h1v1h-1zM51 145h1v1h-1zM6 147h1v1h-1zM40 149h1v1h-1z"/><path fill="#7878b4" d="M22 147h1v1h-1z"/><path fill="#7878c0" d="M40 0h1v1h-1zM48 0h1v1h-1zM50 0h1v1h-1zM35 1h1v1h-1zM49 1h1v1h-1zM52 1h1v1h-1zM43 2h1v1h-1zM33 3h1v1h-1zM40 3h1v1h-1zM32 4h1v1h-1zM53 4h1v1h-1zM48 7h1v1h-1zM45 9h1v1h-1zM47 9h1v1h-1zM50 9h1v1h-1zM62 10h1v1h-1zM40 12h1v1h-1zM74 12h1v1h-1zM50 13h1v1h-1zM59 15h1v1h-1zM34 16h1v1h-1zM66 17h1v1h-1zM68 17h2v1h-2zM54 18h1v1h-1zM70 18h1v1h-1zM65 19h1v1h-1zM38 20h1v1h-1zM30 21h1v1h-1zM62 21h1v1h-1zM38 22h1v1h-1zM50 22h1v1h-1zM61 23h1v1h-1zM65 23h1v1h-1zM37 24h1v1h-1zM41 24h1v1h-1zM43 24h1v1h-1zM45 24h1v1h-1zM54 27h1v1h-1zM18 28h1v1h-1zM24 29h1v1h-1zM19 31h1v1h-1zM22 32h1v1h-1zM28 32h1v1h-1zM20 33h1v1h-1zM25 33h2v1h-2zM31 33h1v1h-1zM23 35h1v1h-1zM11 36h1v1h-1zM16 36h1v1h-1zM26 36h1v1h-1zM0 37h1v1h-1zM21 37h1v1h-1zM6 38h1v1h-1zM52 38h1v1h-1zM27 39h1v1h-1zM0 40h1v1h-1zM26 40h1v1h-1zM35 40h1v1h-1zM56 40h1v1h-1zM12 41h1v1h-1zM29 41h1v1h-1zM10 42h1v1h-1zM14 42h1v1h-1zM29 42h1v1h-1zM37 42h1v1h-1zM54 42h1v1h-1zM1 43h1v1h-1zM12 43h1v1h-1zM17 44h1v1h-1zM20 44h1v1h-1zM0 45h1v1h-1zM20 45h1v1h-1zM28 45h1v1h-1zM34 45h1v1h-1zM21 47h1v1h-1zM25 48h1v1h-1zM36 48h1v1h-1zM1 49h2v1h-2zM13 49h1v1h-1zM24 49h1v1h-1zM15 50h1v1h-1zM29 51h1v1h-1zM4 56h1v1h-1zM14 56h1v1h-1zM8 57h1v1h-1zM21 58h1v1h-1zM56 58h1v1h-1zM1 59h1v1h-1zM52 59h1v1h-1zM13 60h1v1h-1zM16 60h1v1h-1zM25 61h1v1h-1zM4 62h1v1h-1zM20 62h1v1h-1zM21 63h1v1h-1zM56 63h1v1h-1zM25 64h1v1h-1zM52 64h1v1h-1zM12 65h1v1h-1zM16 65h1v1h-1zM52 65h1v1h-1zM42 66h1v1h-1zM13 67h1v1h-1zM15 67h1v1h-1zM21 67h1v1h-1zM66 67h1v1h-1zM6 68h1v1h-1zM13 68h1v1h-1zM59 68h1v1h-1zM40 70h1v1h-1zM71 71h1v1h-1zM43 74h1v1h-1zM54 74h1v1h-1zM48 75h1v1h-1zM54 75h1v1h-1zM70 75h1v1h-1zM10 77h1v1h-1zM31 79h1v1h-1zM45 81h1v1h-1zM68 81h1v1h-1zM70 81h1v1h-1zM16 82h1v1h-1zM34 82h1v1h-1zM0 84h1v1h-1zM33 85h1v1h-1zM10 86h1v1h-1zM70 86h1v1h-1zM72 86h1v1h-1zM74 86h1v1h-1zM22 87h1v1h-1zM70 87h1v1h-1zM8 89h1v1h-1zM23 90h1v1h-1zM21 91h1v1h-1zM23 91h1v1h-1zM47 91h1v1h-1zM29 93h1v1h-1zM54 93h1v1h-1zM8 94h1v1h-1zM38 94h1v1h-1zM1 95h1v1h-1zM11 95h1v1h-1zM5 96h1v1h-1zM26 96h1v1h-1zM37 96h1v1h-1zM4 97h1v1h-1zM19 97h1v1h-1zM33 97h1v1h-1zM38 97h1v1h-1zM39 98h2v1h-2zM15 99h1v1h-1zM49 100h1v1h-1zM31 101h1v1h-1zM50 101h1v1h-1zM47 102h1v1h-1zM66 102h1v1h-1zM68 102h1v1h-1zM55 104h1v1h-1zM61 104h1v1h-1zM71 104h1v1h-1zM34 105h1v1h-1zM15 106h1v1h-1zM47 106h1v1h-1zM57 106h1v1h-1zM48 107h1v1h-1zM15 109h1v1h-1zM59 109h1v1h-1zM27 110h1v1h-1zM71 110h1v1h-1zM11 112h1v1h-1zM56 112h1v1h-1zM13 113h1v1h-1zM56 113h1v1h-1zM45 114h1v1h-1zM9 115h1v1h-1zM11 115h2v1h-2zM17 116h1v1h-1zM36 116h1v1h-1zM39 116h1v1h-1zM42 116h1v1h-1zM54 116h1v1h-1zM10 117h1v1h-1zM12 118h2v1h-2zM20 118h1v1h-1zM22 118h1v1h-1zM34 118h1v1h-1zM52 119h1v1h-1zM0 120h1v1h-1zM14 120h1v1h-1zM13 121h1v1h-1zM36 123h1v1h-1zM38 123h1v1h-1zM48 123h1v1h-1zM50 124h1v1h-1zM47 125h1v1h-1zM26 126h1v1h-1zM41 126h1v1h-1zM51 126h1v1h-1zM41 127h1v1h-1zM35 128h1v1h-1zM57 128h1v1h-1zM31 129h1v1h-1zM56 129h1v1h-1zM64 129h1v1h-1zM3 130h1v1h-1zM16 130h1v1h-1zM25 130h1v1h-1zM59 131h1v1h-1zM66 131h1v1h-1zM10 132h1v1h-1zM43 132h1v1h-1zM73 133h1v1h-1zM27 135h1v1h-1zM17 136h1v1h-1zM19 136h1v1h-1zM7 140h1v1h-1zM24 140h1v1h-1zM25 141h1v1h-1zM5 142h1v1h-1zM3 143h1v1h-1zM55 143h1v1h-1zM3 144h1v1h-1zM6 144h1v1h-1zM8 144h1v1h-1zM24 145h1v1h-1zM10 146h1v1h-1zM25 146h2v1h-2zM40 146h1v1h-1zM4 147h1v1h-1zM9 147h2v1h-2zM20 147h1v1h-1zM10 148h1v1h-1zM42 148h1v1h-1z"/><path fill="#845490" d="M57 31h1v1h-1zM69 38h1v1h-1zM73 38h1v1h-1zM73 46h1v1h-1zM65 51h1v1h-1zM68 53h1v1h-1zM60 55h2v1h-2zM68 55h2v1h-2zM60 61h1v1h-1zM59 65h1v1h-1zM6 69h1v1h-1zM73 90h1v1h-1zM63 99h1v1h-1zM70 99h2v1h-2zM70 105h1v1h-1zM64 108h1v1h-1zM55 109h1v1h-1zM66 111h1v1h-1zM68 111h1v1h-1zM66 112h1v1h-1zM59 114h1v1h-1zM68 125h1v1h-1zM70 130h1v1h-1zM67 135h1v1h-1zM67 140h1v1h-1zM73 140h1v1h-1zM60 143h1v1h-1z"/><path fill="#846090" d="M68 38h1v1h-1zM69 65h1v1h-1zM74 65h1v1h-1zM68 85h1v1h-1zM19 89h1v1h-1zM64 111h1v1h-1zM73 130h2v1h-2z"/><path fill="#84609c" d="M61 1h1v1h-1zM64 1h1v1h-1zM72 1h1v1h-1zM60 31h1v1h-1zM60 51h1v1h-1zM63 51h1v1h-1zM74 51h1v1h-1zM6 66h1v1h-1zM1 69h1v1h-1zM15 69h1v1h-1zM69 96h1v1h-1zM69 99h1v1h-1zM24 101h1v1h-1zM0 102h1v1h-1zM10 108h1v1h-1zM25 108h1v1h-1zM63 108h1v1h-1zM60 114h2v1h-2zM57 130h1v1h-1zM64 130h3v1h-3zM68 130h2v1h-2zM4 131h1v1h-1zM23 131h1v1h-1zM71 135h2v1h-2zM74 135h1v1h-1zM58 144h1v1h-1zM61 144h1v1h-1z"/><path fill="#8460a8" d="M61 51h1v1h-1zM19 69h1v1h-1zM58 93h1v1h-1zM68 93h1v1h-1zM72 96h1v1h-1zM4 109h1v1h-1zM12 116h1v1h-1zM62 126h1v1h-1z"/><path fill="#846c9c" d="M64 51h1v1h-1zM58 65h1v1h-1zM38 122h1v1h-1z"/><path fill="#846ca8" d="M64 2h1v1h-1zM50 12h1v1h-1zM58 13h1v1h-1zM69 24h1v1h-1zM27 26h1v1h-1zM69 26h1v1h-1zM67 27h1v1h-1zM11 32h1v1h-1zM26 32h1v1h-1zM71 51h1v1h-1zM28 57h1v1h-1zM67 61h1v1h-1zM57 66h1v1h-1zM13 77h1v1h-1zM40 82h1v1h-1zM59 88h1v1h-1zM71 93h1v1h-1zM71 96h1v1h-1zM74 99h1v1h-1zM3 102h1v1h-1zM64 106h1v1h-1zM26 108h1v1h-1zM14 109h1v1h-1zM63 114h1v1h-1zM70 114h1v1h-1zM73 114h1v1h-1zM0 118h1v1h-1zM18 118h1v1h-1zM69 121h1v1h-1zM37 122h1v1h-1zM68 135h1v1h-1zM0 139h1v1h-1z"/><path fill="#846cb4" d="M45 1h1v1h-1zM11 22h1v1h-1zM6 24h1v1h-1zM61 25h1v1h-1zM7 26h1v1h-1zM20 58h1v1h-1zM19 62h1v1h-1zM27 62h1v1h-1zM29 62h1v1h-1zM71 85h1v1h-1zM14 88h1v1h-1zM40 93h1v1h-1zM70 104h1v1h-1zM51 107h1v1h-1zM12 109h1v1h-1zM28 109h1v1h-1zM58 114h1v1h-1zM73 127h1v1h-1zM62 128h1v1h-1zM54 130h1v1h-1zM3 131h1v1h-1zM40 131h1v1h-1zM57 135h1v1h-1zM28 138h1v1h-1zM65 144h1v1h-1z"/><path fill="#8478b4" d="M58 2h1v1h-1zM52 11h1v1h-1zM48 12h1v1h-1zM56 34h1v1h-1zM20 39h1v1h-1zM19 50h1v1h-1zM4 61h1v1h-1zM22 62h1v1h-1zM24 62h1v1h-1zM21 64h1v1h-1zM25 65h1v1h-1zM60 66h1v1h-1zM54 68h1v1h-1zM14 69h1v1h-1zM29 87h1v1h-1zM17 88h1v1h-1zM19 90h1v1h-1zM27 96h1v1h-1zM15 105h1v1h-1zM26 107h1v1h-1zM39 113h1v1h-1zM3 117h1v1h-1zM19 119h1v1h-1zM46 120h1v1h-1zM30 122h1v1h-1zM48 122h1v1h-1zM44 125h1v1h-1zM65 128h1v1h-1zM72 129h1v1h-1zM31 131h1v1h-1zM33 138h1v1h-1zM69 139h1v1h-1zM31 140h1v1h-1zM31 142h1v1h-1z"/><path fill="#8478c0" d="M25 1h1v1h-1zM59 3h1v1h-1zM65 3h1v1h-1zM52 4h1v1h-1zM50 6h1v1h-1zM54 6h1v1h-1zM37 9h1v1h-1zM62 11h1v1h-1zM60 12h1v1h-1zM20 15h1v1h-1zM35 15h1v1h-1zM38 15h1v1h-1zM35 16h1v1h-1zM60 17h1v1h-1zM73 17h1v1h-1zM14 20h1v1h-1zM7 21h1v1h-1zM43 21h1v1h-1zM51 21h1v1h-1zM40 22h1v1h-1zM32 23h1v1h-1zM40 24h1v1h-1zM64 25h1v1h-1zM16 31h1v1h-1zM3 32h1v1h-1zM0 33h1v1h-1zM5 35h1v1h-1zM27 35h1v1h-1zM15 36h1v1h-1zM2 37h1v1h-1zM45 37h1v1h-1zM13 40h1v1h-1zM21 40h1v1h-1zM7 41h1v1h-1zM16 43h1v1h-1zM5 44h1v1h-1zM9 44h1v1h-1zM21 44h1v1h-1zM24 44h1v1h-1zM14 45h1v1h-1zM2 47h1v1h-1zM8 47h1v1h-1zM54 47h1v1h-1zM29 48h1v1h-1zM13 51h1v1h-1zM53 51h1v1h-1zM3 53h1v1h-1zM45 53h1v1h-1zM3 54h1v1h-1zM19 55h1v1h-1zM38 55h1v1h-1zM9 57h1v1h-1zM12 57h1v1h-1zM2 58h1v1h-1zM49 58h1v1h-1zM40 59h1v1h-1zM28 60h1v1h-1zM24 61h1v1h-1zM26 61h1v1h-1zM45 61h1v1h-1zM50 61h1v1h-1zM56 61h1v1h-1zM17 63h1v1h-1zM10 64h1v1h-1zM45 64h1v1h-1zM29 65h1v1h-1zM17 66h1v1h-1zM26 67h1v1h-1zM31 67h1v1h-1zM41 67h1v1h-1zM73 67h1v1h-1zM12 68h1v1h-1zM73 71h1v1h-1zM34 73h1v1h-1zM47 73h1v1h-1zM26 74h1v1h-1zM28 75h1v1h-1zM31 75h1v1h-1zM44 75h1v1h-1zM48 76h1v1h-1zM70 76h1v1h-1zM35 77h1v1h-1zM34 78h1v1h-1zM35 82h1v1h-1zM45 85h1v1h-1zM48 85h1v1h-1zM50 85h1v1h-1zM51 89h1v1h-1zM2 90h1v1h-1zM28 90h1v1h-1zM1 91h1v1h-1zM27 92h1v1h-1zM16 93h1v1h-1zM36 94h1v1h-1zM41 94h1v1h-1zM21 95h1v1h-1zM67 95h1v1h-1zM41 98h1v1h-1zM58 98h1v1h-1zM25 99h1v1h-1zM51 99h1v1h-1zM10 100h1v1h-1zM30 101h1v1h-1zM63 101h2v1h-2zM66 101h1v1h-1zM71 103h1v1h-1zM59 104h1v1h-1zM69 104h1v1h-1zM54 106h1v1h-1zM63 106h1v1h-1zM72 106h1v1h-1zM42 108h1v1h-1zM53 108h1v1h-1zM19 110h1v1h-1zM25 110h1v1h-1zM53 110h1v1h-1zM73 110h1v1h-1zM48 111h1v1h-1zM6 112h1v1h-1zM17 112h1v1h-1zM23 112h1v1h-1zM11 113h1v1h-1zM24 113h1v1h-1zM55 113h1v1h-1zM12 114h1v1h-1zM40 114h1v1h-1zM28 115h1v1h-1zM3 116h1v1h-1zM5 116h1v1h-1zM20 116h2v1h-2zM23 116h1v1h-1zM5 117h1v1h-1zM23 117h1v1h-1zM9 118h1v1h-1zM29 118h1v1h-1zM33 118h1v1h-1zM11 120h1v1h-1zM38 121h1v1h-1zM40 121h1v1h-1zM16 122h1v1h-1zM45 122h1v1h-1zM64 123h1v1h-1zM31 124h1v1h-1zM48 124h1v1h-1zM36 125h1v1h-1zM41 125h1v1h-1zM34 126h1v1h-1zM36 127h1v1h-1zM74 128h1v1h-1zM47 129h1v1h-1zM59 129h1v1h-1zM34 133h1v1h-1zM67 133h1v1h-1zM24 134h1v1h-1zM27 134h1v1h-1zM55 134h1v1h-1zM0 135h1v1h-1zM10 136h1v1h-1zM54 136h1v1h-1zM22 138h1v1h-1zM14 140h1v1h-1zM12 141h1v1h-1zM52 142h1v1h-1zM11 144h1v1h-1zM27 144h1v1h-1zM55 144h1v1h-1zM67 144h1v1h-1zM5 146h1v1h-1zM11 146h1v1h-1zM3 147h1v1h-1zM14 147h1v1h-1zM16 149h1v1h-1zM50 149h1v1h-1z"/><path fill="#8484c0" d="M39 0h1v1h-1zM56 2h1v1h-1zM31 5h1v1h-1zM34 7h2v1h-2zM41 7h1v1h-1zM50 7h1v1h-1zM38 8h1v1h-1zM49 8h1v1h-1zM48 10h1v1h-1zM52 10h1v1h-1zM36 12h1v1h-1zM48 13h1v1h-1zM50 15h1v1h-1zM62 15h1v1h-1zM45 17h1v1h-1zM47 17h2v1h-2zM59 18h1v1h-1zM3 21h1v1h-1zM28 21h1v1h-1zM46 24h1v1h-1zM57 25h1v1h-1zM66 25h1v1h-1zM56 26h1v1h-1zM68 26h1v1h-1zM9 28h1v1h-1zM15 29h1v1h-1zM11 30h1v1h-1zM49 30h1v1h-1zM43 31h1v1h-1zM15 32h1v1h-1zM29 32h1v1h-1zM41 32h1v1h-1zM0 35h1v1h-1zM25 38h1v1h-1zM1 40h1v1h-1zM9 40h1v1h-1zM31 43h1v1h-1zM1 47h1v1h-1zM18 47h1v1h-1zM0 52h1v1h-1zM25 53h1v1h-1zM43 56h1v1h-1zM24 57h1v1h-1zM11 59h1v1h-1zM26 60h1v1h-1zM46 61h1v1h-1zM14 64h1v1h-1zM8 65h1v1h-1zM17 68h1v1h-1zM50 70h1v1h-1zM32 75h1v1h-1zM53 75h1v1h-1zM25 77h1v1h-1zM36 80h1v1h-1zM50 80h2v1h-2zM47 81h1v1h-1zM72 81h1v1h-1zM49 85h1v1h-1zM3 86h1v1h-1zM67 86h1v1h-1zM11 87h1v1h-1zM61 87h1v1h-1zM13 88h1v1h-1zM45 88h1v1h-1zM23 89h1v1h-1zM43 89h1v1h-1zM0 91h1v1h-1zM29 91h1v1h-1zM23 92h1v1h-1zM29 92h1v1h-1zM28 96h1v1h-1zM38 96h1v1h-1zM35 99h1v1h-1zM45 100h1v1h-1zM33 102h1v1h-1zM59 102h1v1h-1zM20 103h1v1h-1zM26 103h1v1h-1zM43 103h1v1h-1zM64 104h1v1h-1zM47 105h1v1h-1zM24 106h1v1h-1zM65 106h1v1h-1zM54 107h1v1h-1zM8 109h1v1h-1zM1 113h1v1h-1zM8 113h1v1h-1zM12 113h1v1h-1zM23 113h1v1h-1zM48 115h1v1h-1zM1 116h1v1h-1zM41 116h1v1h-1zM10 118h1v1h-1zM14 118h1v1h-1zM40 118h1v1h-1zM20 119h1v1h-1zM49 119h1v1h-1zM21 120h1v1h-1zM55 121h1v1h-1zM68 123h1v1h-1zM25 125h1v1h-1zM49 127h1v1h-1zM57 127h1v1h-1zM10 128h1v1h-1zM61 129h1v1h-1zM14 133h1v1h-1zM71 133h1v1h-1zM16 134h1v1h-1zM48 134h1v1h-1zM1 135h1v1h-1zM15 135h1v1h-1zM0 136h1v1h-1zM27 136h1v1h-1zM15 137h1v1h-1zM7 138h1v1h-1zM13 139h1v1h-1zM53 139h1v1h-1zM25 140h1v1h-1zM37 143h1v1h-1zM16 144h1v1h-1zM31 145h1v1h-1zM34 146h1v1h-1zM16 147h1v1h-1zM40 147h1v1h-1z"/><path fill="#8484cc" d="M33 5h1v1h-1zM1 27h1v1h-1zM4 30h1v1h-1zM2 33h1v1h-1zM1 34h1v1h-1zM15 34h1v1h-1zM24 37h1v1h-1zM27 41h1v1h-1zM43 44h1v1h-1zM0 49h1v1h-1zM4 49h1v1h-1zM45 49h1v1h-1zM48 49h1v1h-1zM4 51h1v1h-1zM23 61h1v1h-1zM2 68h1v1h-1zM36 69h1v1h-1zM42 72h1v1h-1zM50 73h1v1h-1zM66 76h1v1h-1zM26 79h1v1h-1zM52 80h1v1h-1zM49 81h1v1h-1zM67 81h1v1h-1zM43 83h1v1h-1zM5 93h1v1h-1zM39 96h1v1h-1zM47 96h1v1h-1zM73 98h1v1h-1zM40 101h1v1h-1zM62 101h1v1h-1zM25 107h1v1h-1zM12 111h1v1h-1zM2 113h1v1h-1zM22 113h1v1h-1zM7 116h1v1h-1zM23 121h1v1h-1zM47 123h1v1h-1zM3 135h1v1h-1zM1 136h1v1h-1zM63 139h1v1h-1zM6 140h1v1h-1zM49 141h1v1h-1zM32 145h1v1h-1zM27 147h1v1h-1zM25 148h1v1h-1z"/><path fill="#903060" d="M59 16h1v1h-1zM62 16h3v1h-3zM67 16h2v1h-2zM70 16h1v1h-1zM60 57h2v1h-2zM63 57h2v1h-2zM66 57h2v1h-2zM70 57h2v1h-2zM73 57h2v1h-2zM67 58h1v1h-1zM69 58h1v1h-1zM57 89h12v1h-12zM70 89h1v1h-1zM72 89h3v1h-3zM59 122h1v1h-1zM62 122h3v1h-3z"/><path fill="#903c60" d="M57 16h1v1h-1zM65 16h1v1h-1zM59 29h1v1h-1zM69 39h1v1h-1zM74 39h1v1h-1zM57 57h3v1h-3zM68 57h2v1h-2zM73 58h1v1h-1zM69 89h1v1h-1zM59 121h1v1h-1zM61 122h1v1h-1zM72 122h1v1h-1zM61 140h1v1h-1z"/><path fill="#903c6c" d="M61 16h1v1h-1zM73 16h1v1h-1zM60 116h1v1h-1zM65 122h1v1h-1zM69 122h1v1h-1zM70 140h1v1h-1zM72 140h1v1h-1z"/><path fill="#90486c" d="M66 16h1v1h-1zM69 16h1v1h-1zM63 26h1v1h-1zM61 38h1v1h-1zM71 89h1v1h-1zM58 122h1v1h-1zM60 122h1v1h-1zM67 122h2v1h-2zM74 122h1v1h-1zM57 140h1v1h-1zM62 140h1v1h-1z"/><path fill="#904878" d="M58 16h1v1h-1zM72 16h1v1h-1zM62 26h1v1h-1zM67 46h1v1h-1zM57 48h1v1h-1zM59 53h1v1h-1zM57 122h1v1h-1zM71 122h1v1h-1zM68 140h2v1h-2zM74 140h1v1h-1z"/><path fill="#905478" d="M63 12h1v1h-1zM65 26h1v1h-1zM66 46h1v1h-1zM68 46h1v1h-1zM0 109h1v1h-1zM62 121h1v1h-1zM70 121h1v1h-1zM70 122h1v1h-1zM63 140h1v1h-1z"/><path fill="#905484" d="M70 9h1v1h-1zM71 16h1v1h-1zM74 16h1v1h-1zM59 26h1v1h-1zM65 31h1v1h-1zM69 48h1v1h-1zM62 53h1v1h-1zM72 65h1v1h-1zM20 69h1v1h-1zM67 96h1v1h-1zM67 97h1v1h-1zM70 97h1v1h-1zM74 97h1v1h-1zM68 113h1v1h-1zM61 121h1v1h-1zM62 130h1v1h-1zM64 140h1v1h-1z"/><path fill="#906084" d="M72 12h1v1h-1zM61 31h2v1h-2zM67 48h1v1h-1zM61 53h1v1h-1zM64 65h1v1h-1zM70 65h1v1h-1zM37 94h1v1h-1zM70 96h1v1h-1zM59 97h1v1h-1zM63 121h1v1h-1zM67 121h1v1h-1zM73 122h1v1h-1zM62 135h1v1h-1zM65 140h2v1h-2z"/><path fill="#906090" d="M57 27h1v1h-1zM67 31h3v1h-3zM58 38h1v1h-1zM63 38h3v1h-3zM74 38h1v1h-1zM58 46h1v1h-1zM60 46h1v1h-1zM69 53h3v1h-3zM63 55h1v1h-1zM70 55h1v1h-1zM72 55h1v1h-1zM60 59h1v1h-1zM69 60h1v1h-1zM65 65h1v1h-1zM71 90h1v1h-1zM58 91h1v1h-1zM59 96h1v1h-1zM66 96h1v1h-1zM73 96h1v1h-1zM64 97h1v1h-1zM59 99h1v1h-1zM16 101h1v1h-1zM61 108h1v1h-1zM63 111h1v1h-1zM59 112h1v1h-1zM66 121h1v1h-1zM68 121h1v1h-1zM74 121h1v1h-1zM32 122h1v1h-1zM61 125h1v1h-1zM63 125h4v1h-4zM59 130h1v1h-1zM72 130h1v1h-1zM59 140h1v1h-1z"/><path fill="#90609c" d="M35 55h1v1h-1zM2 62h1v1h-1zM66 135h1v1h-1z"/><path fill="#906c90" d="M74 36h1v1h-1z"/><path fill="#906c9c" d="M12 26h1v1h-1zM19 26h1v1h-1zM36 52h1v1h-1zM58 53h1v1h-1zM57 61h2v1h-2zM68 61h1v1h-1zM1 62h1v1h-1zM70 62h1v1h-1zM66 65h1v1h-1zM71 65h1v1h-1zM27 69h1v1h-1zM36 88h1v1h-1zM66 93h1v1h-1zM6 101h1v1h-1zM59 106h1v1h-1zM61 106h1v1h-1zM19 109h1v1h-1zM67 117h1v1h-1zM71 140h1v1h-1zM63 144h1v1h-1z"/><path fill="#906ca8" d="M67 2h1v1h-1zM59 9h1v1h-1zM3 22h1v1h-1zM17 22h1v1h-1zM48 24h1v1h-1zM74 26h1v1h-1zM2 39h1v1h-1zM4 50h1v1h-1zM66 51h1v1h-1zM73 51h1v1h-1zM54 53h1v1h-1zM28 66h1v1h-1zM5 69h1v1h-1zM28 69h1v1h-1zM3 101h1v1h-1zM23 101h1v1h-1zM48 109h1v1h-1zM48 110h1v1h-1zM72 115h1v1h-1zM6 116h1v1h-1zM41 131h1v1h-1zM63 135h1v1h-1zM60 140h1v1h-1zM64 144h1v1h-1zM29 147h1v1h-1zM11 149h1v1h-1zM23 149h1v1h-1z"/><path fill="#9078a8" d="M71 27h1v1h-1zM18 30h1v1h-1zM42 34h1v1h-1zM54 39h1v1h-1zM73 41h1v1h-1zM74 49h1v1h-1zM58 51h1v1h-1zM35 66h1v1h-1zM66 66h1v1h-1zM10 70h1v1h-1zM66 71h1v1h-1zM56 76h1v1h-1zM10 83h1v1h-1zM68 88h1v1h-1zM69 93h1v1h-1zM72 93h1v1h-1zM67 107h1v1h-1zM0 108h1v1h-1zM66 115h1v1h-1zM34 122h1v1h-1zM69 127h1v1h-1zM59 128h1v1h-1zM60 135h1v1h-1zM27 139h1v1h-1z"/><path fill="#9078b4" d="M61 3h2v1h-2zM51 12h1v1h-1zM15 13h1v1h-1zM31 13h1v1h-1zM54 19h1v1h-1zM24 23h1v1h-1zM16 24h1v1h-1zM2 26h1v1h-1zM72 26h1v1h-1zM41 29h1v1h-1zM45 34h1v1h-1zM11 39h1v1h-1zM38 42h1v1h-1zM51 46h1v1h-1zM23 47h1v1h-1zM5 50h1v1h-1zM23 50h1v1h-1zM18 52h1v1h-1zM39 52h1v1h-1zM27 54h1v1h-1zM56 62h1v1h-1zM20 65h1v1h-1zM57 65h1v1h-1zM37 66h1v1h-1zM62 66h1v1h-1zM64 66h1v1h-1zM35 68h1v1h-1zM53 68h1v1h-1zM32 72h1v1h-1zM56 74h1v1h-1zM20 77h1v1h-1zM63 81h1v1h-1zM17 85h1v1h-1zM61 85h1v1h-1zM5 86h1v1h-1zM7 87h1v1h-1zM5 88h1v1h-1zM65 88h1v1h-1zM3 89h1v1h-1zM33 94h1v1h-1zM14 95h1v1h-1zM74 95h1v1h-1zM13 96h1v1h-1zM64 96h1v1h-1zM41 101h1v1h-1zM66 104h1v1h-1zM74 107h1v1h-1zM13 108h1v1h-1zM63 110h1v1h-1zM58 115h1v1h-1zM23 120h1v1h-1zM53 120h1v1h-1zM26 122h1v1h-1zM29 126h1v1h-1zM5 128h1v1h-1zM52 128h1v1h-1zM72 128h1v1h-1zM48 129h1v1h-1zM36 130h1v1h-1zM48 133h1v1h-1zM31 134h1v1h-1zM64 135h1v1h-1zM40 137h1v1h-1zM25 138h1v1h-1zM52 141h1v1h-1zM1 142h1v1h-1zM57 144h1v1h-1zM20 149h1v1h-1z"/><path fill="#9078c0" d="M35 75h1v1h-1zM51 76h1v1h-1zM67 88h1v1h-1z"/><path fill="#9084b4" d="M26 5h1v1h-1zM64 12h1v1h-1zM29 50h1v1h-1zM41 70h1v1h-1zM66 88h1v1h-1zM40 123h1v1h-1zM66 144h1v1h-1z"/><path fill="#9084c0" d="M55 0h1v1h-1zM41 1h1v1h-1zM33 2h1v1h-1zM22 5h1v1h-1zM57 9h1v1h-1zM65 9h1v1h-1zM43 11h1v1h-1zM35 12h1v1h-1zM32 13h1v1h-1zM22 14h1v1h-1zM44 18h1v1h-1zM64 18h1v1h-1zM61 19h1v1h-1zM63 19h1v1h-1zM52 21h1v1h-1zM25 22h1v1h-1zM38 23h1v1h-1zM56 24h1v1h-1zM22 25h1v1h-1zM29 25h1v1h-1zM60 25h1v1h-1zM11 26h1v1h-1zM28 26h1v1h-1zM27 31h1v1h-1zM16 32h1v1h-1zM28 35h1v1h-1zM13 36h1v1h-1zM22 38h1v1h-1zM24 38h1v1h-1zM13 39h1v1h-1zM3 40h1v1h-1zM7 40h1v1h-1zM20 40h1v1h-1zM31 42h1v1h-1zM41 42h1v1h-1zM6 50h1v1h-1zM11 50h1v1h-1zM21 50h1v1h-1zM13 53h1v1h-1zM2 55h2v1h-2zM5 55h1v1h-1zM33 55h1v1h-1zM54 55h1v1h-1zM20 61h1v1h-1zM4 64h1v1h-1zM9 67h1v1h-1zM29 67h1v1h-1zM55 67h1v1h-1zM1 68h1v1h-1zM56 68h1v1h-1zM6 76h1v1h-1zM27 76h1v1h-1zM63 76h1v1h-1zM54 78h1v1h-1zM48 79h1v1h-1zM33 82h1v1h-1zM48 82h1v1h-1zM20 83h1v1h-1zM52 89h1v1h-1zM43 90h1v1h-1zM23 94h1v1h-1zM5 95h1v1h-1zM53 96h1v1h-1zM16 99h1v1h-1zM22 99h1v1h-1zM37 99h1v1h-1zM41 102h1v1h-1zM63 104h1v1h-1zM62 106h1v1h-1zM57 110h1v1h-1zM6 111h1v1h-1zM6 113h1v1h-1zM17 114h1v1h-1zM18 115h1v1h-1zM20 117h1v1h-1zM4 119h1v1h-1zM22 119h1v1h-1zM10 124h1v1h-1zM1 126h1v1h-1zM36 129h1v1h-1zM70 129h1v1h-1zM5 130h1v1h-1zM35 131h1v1h-1zM21 133h1v1h-1zM10 134h1v1h-1zM11 135h1v1h-1zM59 139h1v1h-1zM65 139h1v1h-1zM71 144h1v1h-1zM6 145h1v1h-1zM9 146h1v1h-1zM24 147h1v1h-1zM40 148h1v1h-1zM29 149h1v1h-1z"/><path fill="#9084cc" d="M46 0h1v1h-1zM54 0h1v1h-1zM38 1h1v1h-1zM47 2h1v1h-1zM57 2h1v1h-1zM63 3h1v1h-1zM33 4h1v1h-1zM10 5h1v1h-1zM37 5h1v1h-1zM40 6h2v1h-2zM50 8h1v1h-1zM5 10h1v1h-1zM15 10h1v1h-1zM23 12h1v1h-1zM35 13h1v1h-1zM48 14h1v1h-1zM25 15h1v1h-1zM40 16h1v1h-1zM44 17h1v1h-1zM70 17h1v1h-1zM62 19h1v1h-1zM22 20h1v1h-1zM32 20h1v1h-1zM52 20h1v1h-1zM29 21h1v1h-1zM13 22h1v1h-1zM44 22h1v1h-1zM66 22h1v1h-1zM68 22h1v1h-1zM49 23h1v1h-1zM0 25h1v1h-1zM16 25h1v1h-1zM65 25h1v1h-1zM31 31h1v1h-1zM23 34h1v1h-1zM25 34h1v1h-1zM25 35h1v1h-1zM29 35h1v1h-1zM22 36h1v1h-1zM11 38h1v1h-1zM16 38h1v1h-1zM11 40h1v1h-1zM47 42h1v1h-1zM10 45h1v1h-1zM48 45h1v1h-1zM21 46h1v1h-1zM28 46h1v1h-1zM12 47h1v1h-1zM58 47h1v1h-1zM17 48h1v1h-1zM24 48h1v1h-1zM26 48h2v1h-2zM37 49h1v1h-1zM56 49h1v1h-1zM20 51h1v1h-1zM49 53h1v1h-1zM29 54h1v1h-1zM17 56h1v1h-1zM23 56h1v1h-1zM18 57h1v1h-1zM26 58h1v1h-1zM41 58h1v1h-1zM0 59h1v1h-1zM35 60h1v1h-1zM16 61h1v1h-1zM11 62h1v1h-1zM42 62h1v1h-1zM58 62h1v1h-1zM68 62h1v1h-1zM48 63h1v1h-1zM3 64h1v1h-1zM23 67h1v1h-1zM25 67h1v1h-1zM49 67h1v1h-1zM59 67h1v1h-1zM62 67h1v1h-1zM74 67h1v1h-1zM49 68h1v1h-1zM34 71h1v1h-1zM63 71h1v1h-1zM39 73h1v1h-1zM51 73h1v1h-1zM35 74h1v1h-1zM45 74h1v1h-1zM50 75h1v1h-1zM36 76h1v1h-1zM31 77h1v1h-1zM40 78h1v1h-1zM37 81h1v1h-1zM66 81h1v1h-1zM73 81h2v1h-2zM22 82h1v1h-1zM41 82h1v1h-1zM47 83h1v1h-1zM24 86h1v1h-1zM4 87h1v1h-1zM71 88h1v1h-1zM31 89h1v1h-1zM36 89h1v1h-1zM17 90h1v1h-1zM31 90h1v1h-1zM37 90h1v1h-1zM18 91h1v1h-1zM16 96h1v1h-1zM21 97h2v1h-2zM13 98h1v1h-1zM44 100h1v1h-1zM11 101h1v1h-1zM49 101h1v1h-1zM35 102h1v1h-1zM37 102h1v1h-1zM42 102h1v1h-1zM56 102h1v1h-1zM58 103h1v1h-1zM68 103h1v1h-1zM51 105h1v1h-1zM20 106h1v1h-1zM2 108h1v1h-1zM29 109h1v1h-1zM6 110h1v1h-1zM60 110h1v1h-1zM67 110h1v1h-1zM13 112h1v1h-1zM18 112h1v1h-1zM26 112h1v1h-1zM15 113h1v1h-1zM18 114h1v1h-1zM33 114h1v1h-1zM40 116h1v1h-1zM19 118h1v1h-1zM43 119h1v1h-1zM45 119h1v1h-1zM56 119h1v1h-1zM18 122h2v1h-2zM51 122h1v1h-1zM60 123h1v1h-1zM34 124h1v1h-1zM52 126h2v1h-2zM30 128h1v1h-1zM49 128h1v1h-1zM51 128h1v1h-1zM53 128h1v1h-1zM62 129h1v1h-1zM2 130h1v1h-1zM21 131h1v1h-1zM23 132h1v1h-1zM29 132h1v1h-1zM45 132h1v1h-1zM58 132h1v1h-1zM11 133h1v1h-1zM4 134h1v1h-1zM39 134h1v1h-1zM55 135h1v1h-1zM35 136h1v1h-1zM21 137h1v1h-1zM23 137h1v1h-1zM31 137h1v1h-1zM50 139h1v1h-1zM8 141h1v1h-1zM54 141h1v1h-1zM21 142h1v1h-1zM28 142h1v1h-1zM18 144h1v1h-1zM72 144h1v1h-1zM42 145h1v1h-1zM7 146h1v1h-1zM13 146h1v1h-1zM47 146h1v1h-1zM38 147h1v1h-1zM27 149h1v1h-1z"/><path fill="#9090cc" d="M3 1h1v1h-1zM52 5h1v1h-1zM56 6h1v1h-1zM3 8h1v1h-1zM62 9h1v1h-1zM31 10h1v1h-1zM65 10h1v1h-1zM22 12h1v1h-1zM58 12h1v1h-1zM36 14h1v1h-1zM48 15h1v1h-1zM34 17h1v1h-1zM17 21h1v1h-1zM34 21h1v1h-1zM36 24h1v1h-1zM12 28h1v1h-1zM27 29h1v1h-1zM29 33h1v1h-1zM26 34h1v1h-1zM13 37h1v1h-1zM15 40h1v1h-1zM19 43h1v1h-1zM22 43h1v1h-1zM22 44h1v1h-1zM31 44h1v1h-1zM56 44h1v1h-1zM68 47h1v1h-1zM14 49h1v1h-1zM17 49h1v1h-1zM8 52h1v1h-1zM38 54h1v1h-1zM51 56h1v1h-1zM29 58h1v1h-1zM45 60h1v1h-1zM19 61h1v1h-1zM32 61h1v1h-1zM43 70h2v1h-2zM38 72h1v1h-1zM53 73h1v1h-1zM40 74h1v1h-1zM31 78h1v1h-1zM51 78h1v1h-1zM34 80h1v1h-1zM40 80h1v1h-1zM50 81h1v1h-1zM52 82h1v1h-1zM36 85h1v1h-1zM54 86h1v1h-1zM5 89h1v1h-1zM38 89h1v1h-1zM51 91h1v1h-1zM21 92h1v1h-1zM14 93h1v1h-1zM73 95h1v1h-1zM0 97h1v1h-1zM43 97h1v1h-1zM7 100h1v1h-1zM74 101h1v1h-1zM26 102h1v1h-1zM52 102h1v1h-1zM16 103h1v1h-1zM60 103h1v1h-1zM43 104h1v1h-1zM36 105h1v1h-1zM43 105h1v1h-1zM22 106h1v1h-1zM56 106h1v1h-1zM20 107h1v1h-1zM0 111h1v1h-1zM24 111h1v1h-1zM33 111h1v1h-1zM22 112h1v1h-1zM42 112h1v1h-1zM27 113h1v1h-1zM15 114h1v1h-1zM50 114h1v1h-1zM38 117h1v1h-1zM11 119h1v1h-1zM39 128h1v1h-1zM38 132h1v1h-1zM5 133h1v1h-1zM68 133h1v1h-1zM45 135h1v1h-1zM50 135h1v1h-1zM0 137h1v1h-1zM28 137h1v1h-1zM23 138h1v1h-1zM25 139h1v1h-1zM11 141h1v1h-1zM33 142h1v1h-1zM38 142h1v1h-1zM2 146h1v1h-1zM24 146h1v1h-1zM24 148h1v1h-1zM33 148h1v1h-1zM49 148h1v1h-1zM44 149h1v1h-1zM46 149h1v1h-1zM49 149h1v1h-1z"/><path fill="#9c3c60" d="M57 58h1v1h-1zM60 58h1v1h-1zM67 116h1v1h-1zM60 120h1v1h-1z"/><path fill="#9c4860" d="M58 35h1v1h-1zM59 36h1v1h-1zM57 39h1v1h-1zM60 39h1v1h-1zM67 39h1v1h-1zM71 39h1v1h-1zM62 57h1v1h-1zM65 57h1v1h-1zM58 58h1v1h-1zM61 58h1v1h-1zM59 113h1v1h-1zM70 113h1v1h-1zM62 116h1v1h-1zM68 116h1v1h-1z"/><path fill="#9c486c" d="M70 2h1v1h-1zM74 58h1v1h-1zM61 113h1v1h-1zM61 116h1v1h-1z"/><path fill="#9c546c" d="M66 97h1v1h-1zM69 97h1v1h-1z"/><path fill="#9c5478" d="M65 46h1v1h-1zM28 62h1v1h-1zM24 109h1v1h-1z"/><path fill="#9c6084" d="M70 26h1v1h-1zM60 29h1v1h-1zM63 36h2v1h-2zM73 36h1v1h-1zM69 46h1v1h-1zM70 48h2v1h-2zM69 49h1v1h-1zM23 62h1v1h-1zM62 97h1v1h-1zM44 99h1v1h-1zM46 99h1v1h-1zM36 121h1v1h-1z"/><path fill="#9c6090" d="M72 9h1v1h-1zM60 16h1v1h-1zM71 36h1v1h-1zM62 38h1v1h-1zM57 46h1v1h-1zM71 46h2v1h-2zM68 48h1v1h-1zM73 48h1v1h-1zM72 53h1v1h-1zM58 92h1v1h-1zM73 97h1v1h-1zM74 113h1v1h-1zM72 121h1v1h-1zM66 122h1v1h-1zM67 127h1v1h-1z"/><path fill="#9c6c90" d="M62 2h1v1h-1zM69 2h1v1h-1zM62 12h1v1h-1zM59 24h1v1h-1zM57 26h2v1h-2zM60 27h1v1h-1zM59 31h1v1h-1zM64 31h1v1h-1zM70 31h1v1h-1zM66 38h1v1h-1zM72 38h1v1h-1zM55 39h1v1h-1zM74 46h1v1h-1zM57 53h1v1h-1zM57 60h1v1h-1zM74 61h1v1h-1zM61 65h1v1h-1zM68 65h1v1h-1zM12 66h1v1h-1zM67 90h1v1h-1zM68 92h1v1h-1zM61 97h1v1h-1zM63 97h1v1h-1zM65 97h1v1h-1zM13 102h1v1h-1zM70 108h1v1h-1zM23 109h1v1h-1zM54 109h1v1h-1zM70 112h1v1h-1zM73 113h1v1h-1zM71 115h1v1h-1zM57 117h1v1h-1zM30 121h1v1h-1zM64 121h1v1h-1zM63 127h1v1h-1zM66 143h1v1h-1zM71 143h1v1h-1zM0 149h1v1h-1z"/><path fill="#9c6c9c" d="M59 2h1v1h-1zM42 3h1v1h-1zM1 5h1v1h-1zM55 6h1v1h-1zM63 9h1v1h-1zM66 9h1v1h-1zM74 9h1v1h-1zM66 12h1v1h-1zM7 15h1v1h-1zM13 15h1v1h-1zM19 25h1v1h-1zM14 26h1v1h-1zM18 26h1v1h-1zM60 26h1v1h-1zM64 26h1v1h-1zM73 26h1v1h-1zM70 46h1v1h-1zM10 47h2v1h-2zM74 48h1v1h-1zM30 52h1v1h-1zM59 55h1v1h-1zM62 55h1v1h-1zM65 55h1v1h-1zM59 61h1v1h-1zM73 61h1v1h-1zM60 65h1v1h-1zM62 65h1v1h-1zM32 70h1v1h-1zM62 81h1v1h-1zM31 93h1v1h-1zM67 93h1v1h-1zM34 94h1v1h-1zM40 94h1v1h-1zM4 108h1v1h-1zM6 109h2v1h-2zM65 111h1v1h-1zM69 113h1v1h-1zM69 115h1v1h-1zM59 125h1v1h-1zM46 129h1v1h-1z"/><path fill="#9c6ca8" d="M60 13h1v1h-1z"/><path fill="#9c789c" d="M74 2h1v1h-1zM53 6h1v1h-1zM65 12h1v1h-1zM72 66h1v1h-1zM16 70h1v1h-1zM34 70h1v1h-1zM19 88h1v1h-1zM55 117h1v1h-1zM1 118h1v1h-1zM51 133h1v1h-1zM59 144h1v1h-1zM70 144h1v1h-1zM5 149h1v1h-1z"/><path fill="#9c78a8" d="M51 1h1v1h-1zM66 2h1v1h-1zM68 2h1v1h-1zM71 2h1v1h-1zM45 4h1v1h-1zM29 5h1v1h-1zM71 9h1v1h-1zM61 12h1v1h-1zM70 12h2v1h-2zM11 13h1v1h-1zM6 22h2v1h-2zM41 22h1v1h-1zM34 23h1v1h-1zM27 24h1v1h-1zM17 26h1v1h-1zM25 26h1v1h-1zM66 26h2v1h-2zM71 26h1v1h-1zM73 27h1v1h-1zM50 34h1v1h-1zM68 49h1v1h-1zM73 49h1v1h-1zM2 50h1v1h-1zM28 50h1v1h-1zM69 51h1v1h-1zM10 62h1v1h-1zM54 63h1v1h-1zM67 65h1v1h-1zM5 66h1v1h-1zM70 66h1v1h-1zM16 67h1v1h-1zM13 70h1v1h-1zM41 71h1v1h-1zM4 76h1v1h-1zM26 81h1v1h-1zM62 85h1v1h-1zM28 89h1v1h-1zM61 93h1v1h-1zM69 94h1v1h-1zM71 95h1v1h-1zM62 96h2v1h-2zM5 110h1v1h-1zM67 113h1v1h-1zM18 116h1v1h-1zM28 117h1v1h-1zM30 119h1v1h-1zM46 125h1v1h-1zM51 129h1v1h-1zM59 135h1v1h-1zM65 135h1v1h-1zM74 136h1v1h-1zM32 138h1v1h-1zM61 139h1v1h-1zM2 149h1v1h-1z"/><path fill="#9c78b4" d="M48 1h1v1h-1zM41 2h1v1h-1zM2 15h1v1h-1zM16 69h1v1h-1zM7 77h1v1h-1zM65 96h1v1h-1zM68 104h1v1h-1zM19 133h1v1h-1zM66 133h1v1h-1zM16 139h1v1h-1zM34 149h1v1h-1z"/><path fill="#9c84a8" d="M65 2h1v1h-1zM67 85h1v1h-1zM11 97h1v1h-1z"/><path fill="#9c84b4" d="M30 1h1v1h-1zM47 1h1v1h-1zM73 2h1v1h-1zM14 4h1v1h-1zM51 6h1v1h-1zM45 7h1v1h-1zM51 7h1v1h-1zM61 9h1v1h-1zM69 9h1v1h-1zM73 9h1v1h-1zM56 12h2v1h-2zM59 12h1v1h-1zM67 12h2v1h-2zM73 12h1v1h-1zM49 14h1v1h-1zM1 19h1v1h-1zM37 22h1v1h-1zM33 23h1v1h-1zM36 23h2v1h-2zM18 24h1v1h-1zM67 24h1v1h-1zM20 26h1v1h-1zM6 28h1v1h-1zM1 30h1v1h-1zM43 30h1v1h-1zM46 37h1v1h-1zM21 39h1v1h-1zM25 40h1v1h-1zM47 53h1v1h-1zM12 61h1v1h-1zM69 61h1v1h-1zM66 62h1v1h-1zM40 66h1v1h-1zM24 69h1v1h-1zM17 70h1v1h-1zM37 70h1v1h-1zM3 72h1v1h-1zM55 73h1v1h-1zM48 74h1v1h-1zM70 82h1v1h-1zM72 85h1v1h-1zM72 88h1v1h-1zM9 93h1v1h-1zM32 94h1v1h-1zM25 96h1v1h-1zM74 96h1v1h-1zM6 99h1v1h-1zM48 100h1v1h-1zM15 101h1v1h-1zM27 102h1v1h-1zM30 102h1v1h-1zM52 103h1v1h-1zM70 106h1v1h-1zM74 110h1v1h-1zM21 113h1v1h-1zM15 116h1v1h-1zM6 117h1v1h-1zM52 117h1v1h-1zM58 117h1v1h-1zM60 117h1v1h-1zM41 118h1v1h-1zM55 120h1v1h-1zM57 123h1v1h-1zM61 123h1v1h-1zM49 125h1v1h-1zM11 127h1v1h-1zM64 127h1v1h-1zM68 127h1v1h-1zM46 131h1v1h-1zM47 133h1v1h-1zM37 134h1v1h-1zM41 134h1v1h-1zM7 135h1v1h-1zM14 138h1v1h-1zM58 140h1v1h-1zM68 144h1v1h-1zM0 145h1v1h-1zM55 145h1v1h-1zM7 149h1v1h-1z"/><path fill="#9c84c0" d="M55 4h1v1h-1zM52 6h1v1h-1zM69 12h1v1h-1zM52 13h1v1h-1zM31 15h1v1h-1zM44 19h1v1h-1zM4 25h1v1h-1zM17 25h1v1h-1zM16 27h1v1h-1zM52 28h1v1h-1zM45 30h1v1h-1zM44 34h1v1h-1zM13 38h1v1h-1zM23 42h1v1h-1zM60 47h1v1h-1zM5 52h1v1h-1zM49 54h1v1h-1zM43 61h1v1h-1zM7 62h1v1h-1zM71 62h1v1h-1zM14 65h1v1h-1zM53 77h1v1h-1zM17 84h1v1h-1zM31 94h1v1h-1zM57 96h1v1h-1zM56 98h1v1h-1zM26 101h1v1h-1zM59 101h1v1h-1zM70 101h1v1h-1zM39 102h1v1h-1zM46 102h1v1h-1zM42 105h1v1h-1zM19 107h1v1h-1zM5 109h1v1h-1zM29 117h1v1h-1zM12 122h1v1h-1zM40 122h1v1h-1zM30 126h1v1h-1zM64 132h1v1h-1zM24 133h1v1h-1zM18 134h1v1h-1zM16 142h1v1h-1zM0 146h1v1h-1zM45 147h1v1h-1z"/><path fill="#9c90c0" d="M60 4h1v1h-1zM60 9h1v1h-1zM54 10h1v1h-1zM41 12h1v1h-1zM57 13h1v1h-1zM66 13h1v1h-1zM43 16h1v1h-1zM22 17h1v1h-1zM0 20h1v1h-1zM62 22h1v1h-1zM42 23h1v1h-1zM7 25h1v1h-1zM63 25h1v1h-1zM19 28h1v1h-1zM25 30h1v1h-1zM54 30h1v1h-1zM25 32h1v1h-1zM22 33h1v1h-1zM21 35h1v1h-1zM49 36h1v1h-1zM29 40h1v1h-1zM27 47h1v1h-1zM50 47h1v1h-1zM11 48h1v1h-1zM46 51h1v1h-1zM6 59h1v1h-1zM51 59h1v1h-1zM48 60h1v1h-1zM60 62h1v1h-1zM74 62h1v1h-1zM54 64h1v1h-1zM38 66h1v1h-1zM71 66h1v1h-1zM22 67h1v1h-1zM63 67h1v1h-1zM22 69h1v1h-1zM38 75h1v1h-1zM56 75h1v1h-1zM25 76h1v1h-1zM49 77h1v1h-1zM61 81h1v1h-1zM0 87h1v1h-1zM13 87h1v1h-1zM5 90h1v1h-1zM4 91h1v1h-1zM0 93h1v1h-1zM7 96h1v1h-1zM58 96h1v1h-1zM56 100h1v1h-1zM32 101h1v1h-1zM31 103h1v1h-1zM33 103h1v1h-1zM49 111h1v1h-1zM3 112h1v1h-1zM52 112h1v1h-1zM39 114h1v1h-1zM14 124h1v1h-1zM53 127h1v1h-1zM43 128h1v1h-1zM12 133h1v1h-1zM2 135h1v1h-1zM74 139h1v1h-1zM46 144h1v1h-1zM11 147h1v1h-1z"/><path fill="#9c90cc" d="M35 0h1v1h-1zM51 0h1v1h-1zM31 2h1v1h-1zM52 2h1v1h-1zM36 5h1v1h-1zM41 5h1v1h-1zM30 6h1v1h-1zM43 6h1v1h-1zM33 9h1v1h-1zM39 9h1v1h-1zM64 10h1v1h-1zM50 11h2v1h-2zM9 12h1v1h-1zM35 14h1v1h-1zM2 17h1v1h-1zM33 17h1v1h-1zM33 19h1v1h-1zM51 19h1v1h-1zM11 20h1v1h-1zM54 23h1v1h-1zM59 23h1v1h-1zM73 24h1v1h-1zM33 26h1v1h-1zM26 27h1v1h-1zM43 27h1v1h-1zM48 27h1v1h-1zM0 28h1v1h-1zM14 28h1v1h-1zM30 28h1v1h-1zM0 29h1v1h-1zM48 31h1v1h-1zM49 32h1v1h-1zM1 33h1v1h-1zM11 33h1v1h-1zM27 33h1v1h-1zM33 33h1v1h-1zM24 35h1v1h-1zM40 35h1v1h-1zM25 36h1v1h-1zM7 37h1v1h-1zM11 37h1v1h-1zM17 38h1v1h-1zM24 39h1v1h-1zM49 39h1v1h-1zM40 40h1v1h-1zM20 43h1v1h-1zM56 43h1v1h-1zM4 45h1v1h-1zM37 45h1v1h-1zM25 46h1v1h-1zM30 46h1v1h-1zM45 46h1v1h-1zM66 47h2v1h-2zM1 48h1v1h-1zM41 48h1v1h-1zM8 49h1v1h-1zM27 49h1v1h-1zM50 51h1v1h-1zM68 51h1v1h-1zM19 54h1v1h-1zM28 54h1v1h-1zM18 55h1v1h-1zM29 56h1v1h-1zM17 58h1v1h-1zM24 58h1v1h-1zM9 59h1v1h-1zM9 60h1v1h-1zM54 60h1v1h-1zM69 62h1v1h-1zM40 65h1v1h-1zM43 66h1v1h-1zM23 68h1v1h-1zM6 71h1v1h-1zM67 71h2v1h-2zM40 72h1v1h-1zM55 72h1v1h-1zM19 73h1v1h-1zM53 74h1v1h-1zM51 75h1v1h-1zM41 76h1v1h-1zM29 77h1v1h-1zM45 78h1v1h-1zM44 79h1v1h-1zM42 80h1v1h-1zM14 81h1v1h-1zM42 81h1v1h-1zM59 81h1v1h-1zM43 82h1v1h-1zM64 82h1v1h-1zM25 83h1v1h-1zM28 85h1v1h-1zM73 86h1v1h-1zM34 87h1v1h-1zM54 87h1v1h-1zM62 87h1v1h-1zM54 89h1v1h-1zM38 90h1v1h-1zM41 90h1v1h-1zM13 91h1v1h-1zM8 92h1v1h-1zM16 92h1v1h-1zM8 93h1v1h-1zM25 93h1v1h-1zM36 93h1v1h-1zM3 94h1v1h-1zM51 94h2v1h-2zM31 95h1v1h-1zM72 95h1v1h-1zM45 96h1v1h-1zM50 96h1v1h-1zM17 97h1v1h-1zM20 97h1v1h-1zM34 97h1v1h-1zM11 98h1v1h-1zM36 98h1v1h-1zM51 98h1v1h-1zM14 99h1v1h-1zM48 99h1v1h-1zM27 100h1v1h-1zM50 100h1v1h-1zM39 101h1v1h-1zM67 101h1v1h-1zM45 103h1v1h-1zM22 104h1v1h-1zM40 105h1v1h-1zM3 106h1v1h-1zM12 106h1v1h-1zM23 106h1v1h-1zM7 107h1v1h-1zM27 107h1v1h-1zM56 107h1v1h-1zM0 110h1v1h-1zM16 110h1v1h-1zM56 110h1v1h-1zM69 110h1v1h-1zM2 111h1v1h-1zM18 111h1v1h-1zM26 111h1v1h-1zM0 113h1v1h-1zM17 113h1v1h-1zM51 113h1v1h-1zM8 114h1v1h-1zM22 114h1v1h-1zM2 115h1v1h-1zM53 115h1v1h-1zM32 116h1v1h-1zM28 118h1v1h-1zM35 118h1v1h-1zM30 120h1v1h-1zM45 121h1v1h-1zM56 121h1v1h-1zM29 122h1v1h-1zM35 123h1v1h-1zM54 123h1v1h-1zM63 123h1v1h-1zM71 123h2v1h-2zM74 123h1v1h-1zM27 124h1v1h-1zM36 124h1v1h-1zM38 124h2v1h-2zM52 124h1v1h-1zM56 125h1v1h-1zM17 126h1v1h-1zM37 126h1v1h-1zM19 127h1v1h-1zM31 127h1v1h-1zM42 127h1v1h-1zM60 127h1v1h-1zM32 128h1v1h-1zM2 129h1v1h-1zM6 129h1v1h-1zM19 129h1v1h-1zM35 129h1v1h-1zM4 130h1v1h-1zM7 130h1v1h-1zM11 130h1v1h-1zM49 130h1v1h-1zM6 132h1v1h-1zM9 132h1v1h-1zM36 132h1v1h-1zM48 132h1v1h-1zM74 132h1v1h-1zM0 133h1v1h-1zM10 133h1v1h-1zM52 133h1v1h-1zM64 133h1v1h-1zM72 133h1v1h-1zM14 134h1v1h-1zM4 136h1v1h-1zM7 136h1v1h-1zM48 136h1v1h-1zM5 137h1v1h-1zM10 138h1v1h-1zM45 139h1v1h-1zM64 139h1v1h-1zM71 139h3v1h-3zM26 140h1v1h-1zM7 142h1v1h-1zM51 142h1v1h-1zM31 143h1v1h-1zM21 144h1v1h-1zM36 144h1v1h-1zM15 145h1v1h-1zM22 145h1v1h-1zM36 145h1v1h-1zM31 147h1v1h-1zM36 147h1v1h-1zM51 147h1v1h-1zM56 148h1v1h-1z"/><path fill="#9c9ccc" d="M70 3h1v1h-1zM39 6h1v1h-1zM30 9h1v1h-1zM47 11h1v1h-1zM45 14h1v1h-1zM67 17h1v1h-1zM51 18h1v1h-1zM64 22h1v1h-1zM19 33h1v1h-1zM29 34h1v1h-1zM19 35h1v1h-1zM55 37h1v1h-1zM0 44h1v1h-1zM19 44h1v1h-1zM18 45h1v1h-1zM45 47h1v1h-1zM51 47h1v1h-1zM3 51h1v1h-1zM7 51h1v1h-1zM27 53h1v1h-1zM33 53h1v1h-1zM8 54h1v1h-1zM45 58h1v1h-1zM21 59h1v1h-1zM38 59h1v1h-1zM51 61h1v1h-1zM54 65h1v1h-1zM48 71h1v1h-1zM21 77h1v1h-1zM26 77h1v1h-1zM46 77h1v1h-1zM22 78h1v1h-1zM34 92h1v1h-1zM36 92h1v1h-1zM14 96h1v1h-1zM3 97h1v1h-1zM34 98h1v1h-1zM66 103h1v1h-1zM38 106h1v1h-1zM6 107h1v1h-1zM23 107h1v1h-1zM30 107h1v1h-1zM47 108h1v1h-1zM22 110h1v1h-1zM37 116h1v1h-1zM8 119h1v1h-1zM28 121h1v1h-1zM46 126h1v1h-1zM74 133h1v1h-1zM15 138h1v1h-1zM22 141h1v1h-1zM3 142h1v1h-1zM9 143h1v1h-1zM45 144h1v1h-1zM33 147h1v1h-1z"/><path fill="#a84860" d="M65 39h1v1h-1zM73 39h1v1h-1zM72 57h1v1h-1zM64 58h2v1h-2zM58 116h1v1h-1zM69 116h1v1h-1zM73 116h1v1h-1zM70 138h1v1h-1z"/><path fill="#a85460" d="M61 29h1v1h-1zM66 39h1v1h-1zM68 39h1v1h-1zM70 39h1v1h-1zM72 39h1v1h-1zM72 58h1v1h-1zM61 92h1v1h-1zM68 120h1v1h-1zM72 120h1v1h-1zM57 138h1v1h-1zM67 138h1v1h-1z"/><path fill="#a8546c" d="M67 28h1v1h-1zM44 36h1v1h-1zM68 36h1v1h-1zM58 39h1v1h-1zM61 48h1v1h-1zM65 48h1v1h-1zM70 49h1v1h-1zM67 54h1v1h-1zM64 116h1v1h-1zM71 116h1v1h-1zM58 120h1v1h-1z"/><path fill="#a85478" d="M44 1h1v1h-1zM61 36h1v1h-1zM71 38h1v1h-1zM66 48h1v1h-1zM63 65h1v1h-1z"/><path fill="#a8606c" d="M57 64h1v1h-1z"/><path fill="#a86078" d="M21 22h1v1h-1zM61 26h1v1h-1zM57 29h1v1h-1zM47 35h1v1h-1zM60 35h1v1h-1zM59 38h1v1h-1zM61 46h1v1h-1zM68 54h1v1h-1zM57 59h1v1h-1zM71 59h1v1h-1zM0 69h1v1h-1zM57 92h1v1h-1zM72 97h1v1h-1zM57 116h1v1h-1z"/><path fill="#a86084" d="M63 2h1v1h-1zM44 3h1v1h-1zM52 23h1v1h-1zM13 24h1v1h-1zM60 48h1v1h-1zM69 54h1v1h-1zM3 69h1v1h-1zM12 69h1v1h-1zM21 69h1v1h-1zM26 83h1v1h-1zM61 96h1v1h-1zM20 104h1v1h-1zM73 117h1v1h-1zM61 135h1v1h-1z"/><path fill="#a86c84" d="M63 31h1v1h-1zM51 34h1v1h-1zM58 36h1v1h-1zM59 46h1v1h-1zM63 46h1v1h-1zM61 49h1v1h-1zM63 53h2v1h-2zM63 59h1v1h-1zM69 59h1v1h-1zM27 64h1v1h-1zM58 64h1v1h-1zM29 69h1v1h-1zM60 90h1v1h-1zM63 90h1v1h-1zM60 92h1v1h-1zM57 115h1v1h-1zM63 117h1v1h-1zM74 117h1v1h-1zM69 142h1v1h-1zM57 143h1v1h-1zM42 144h1v1h-1z"/><path fill="#a86c90" d="M21 24h1v1h-1zM60 24h1v1h-1zM62 49h1v1h-1zM67 59h1v1h-1zM73 60h1v1h-1zM9 62h1v1h-1zM14 62h1v1h-1zM64 90h1v1h-1zM64 92h1v1h-1zM66 92h1v1h-1zM71 92h1v1h-1zM18 97h1v1h-1zM9 109h1v1h-1zM53 109h1v1h-1zM71 113h1v1h-1zM60 115h1v1h-1z"/><path fill="#a86c9c" d="M47 34h1v1h-1zM72 113h1v1h-1zM67 115h1v1h-1zM70 133h1v1h-1zM73 143h1v1h-1z"/><path fill="#a87890" d="M33 1h1v1h-1zM55 92h1v1h-1zM71 97h1v1h-1zM5 101h1v1h-1zM63 113h1v1h-1zM29 123h1v1h-1zM44 144h1v1h-1z"/><path fill="#a8789c" d="M42 1h1v1h-1zM15 4h1v1h-1zM26 4h1v1h-1zM10 6h1v1h-1zM56 9h1v1h-1zM67 9h1v1h-1zM10 13h1v1h-1zM5 14h1v1h-1zM55 22h1v1h-1zM58 24h1v1h-1zM65 27h1v1h-1zM74 27h1v1h-1zM58 29h1v1h-1zM66 31h1v1h-1zM71 31h1v1h-1zM74 31h1v1h-1zM60 33h1v1h-1zM46 34h1v1h-1zM60 36h1v1h-1zM67 38h1v1h-1zM51 48h1v1h-1zM73 50h1v1h-1zM37 52h1v1h-1zM66 55h1v1h-1zM60 60h1v1h-1zM74 60h1v1h-1zM72 61h1v1h-1zM0 62h1v1h-1zM49 62h1v1h-1zM59 62h1v1h-1zM53 63h1v1h-1zM24 67h1v1h-1zM23 69h1v1h-1zM2 70h1v1h-1zM22 77h1v1h-1zM55 77h1v1h-1zM57 91h1v1h-1zM69 92h1v1h-1zM57 93h1v1h-1zM65 93h1v1h-1zM70 93h1v1h-1zM30 94h1v1h-1zM35 94h1v1h-1zM32 99h1v1h-1zM0 101h1v1h-1zM25 102h1v1h-1zM28 103h1v1h-1zM10 104h1v1h-1zM53 106h1v1h-1zM47 107h1v1h-1zM68 107h1v1h-1zM57 111h1v1h-1zM61 111h1v1h-1zM67 111h1v1h-1zM71 111h1v1h-1zM63 112h1v1h-1zM68 112h1v1h-1zM73 112h1v1h-1zM65 117h1v1h-1zM39 122h1v1h-1zM26 135h1v1h-1zM28 135h1v1h-1zM56 142h1v1h-1zM64 143h1v1h-1zM68 143h1v1h-1zM72 143h1v1h-1zM31 148h1v1h-1z"/><path fill="#a878a8" d="M50 1h1v1h-1zM68 9h1v1h-1zM42 12h1v1h-1zM29 26h1v1h-1zM22 39h1v1h-1zM14 50h1v1h-1zM32 88h1v1h-1zM63 88h1v1h-1zM68 91h1v1h-1zM16 104h1v1h-1zM6 108h1v1h-1zM18 139h1v1h-1zM67 139h1v1h-1z"/><path fill="#a8849c" d="M14 36h1v1h-1zM39 41h1v1h-1zM70 107h1v1h-1z"/><path fill="#a884a8" d="M43 12h1v1h-1zM1 15h1v1h-1zM57 24h1v1h-1zM23 25h1v1h-1zM73 33h1v1h-1zM29 36h1v1h-1zM42 36h1v1h-1zM5 40h1v1h-1zM55 41h1v1h-1zM0 46h1v1h-1zM58 48h1v1h-1zM52 55h1v1h-1zM59 66h1v1h-1zM36 77h1v1h-1zM51 85h1v1h-1zM10 87h1v1h-1zM38 87h1v1h-1zM61 88h1v1h-1zM17 89h1v1h-1zM74 91h1v1h-1zM73 92h1v1h-1zM37 93h1v1h-1zM27 95h1v1h-1zM53 95h1v1h-1zM68 95h1v1h-1zM48 97h1v1h-1zM29 99h1v1h-1zM45 99h1v1h-1zM48 102h1v1h-1zM0 106h1v1h-1zM37 107h1v1h-1zM66 107h1v1h-1zM15 108h1v1h-1zM72 110h1v1h-1zM43 115h1v1h-1zM71 117h1v1h-1zM7 118h1v1h-1zM1 119h1v1h-1zM43 120h1v1h-1zM24 123h1v1h-1zM74 127h1v1h-1zM54 131h1v1h-1zM13 135h1v1h-1zM9 138h1v1h-1zM6 139h1v1h-1z"/><path fill="#a884b4" d="M0 5h1v1h-1zM22 15h1v1h-1zM10 22h1v1h-1zM28 22h1v1h-1zM29 24h1v1h-1zM50 24h1v1h-1zM31 25h1v1h-1zM50 25h1v1h-1zM18 27h1v1h-1zM48 33h1v1h-1zM74 41h1v1h-1zM31 45h1v1h-1zM57 49h1v1h-1zM66 49h1v1h-1zM63 62h1v1h-1zM33 71h1v1h-1zM70 71h1v1h-1zM46 75h1v1h-1zM16 76h1v1h-1zM25 82h1v1h-1zM37 82h1v1h-1zM42 85h1v1h-1zM52 85h1v1h-1zM28 87h1v1h-1zM10 88h1v1h-1zM5 91h1v1h-1zM14 91h1v1h-1zM35 93h1v1h-1zM39 94h1v1h-1zM68 97h1v1h-1zM43 98h1v1h-1zM36 107h1v1h-1zM54 113h1v1h-1zM0 116h1v1h-1zM19 128h1v1h-1zM57 133h1v1h-1zM60 133h1v1h-1zM12 135h1v1h-1zM13 140h1v1h-1zM21 141h1v1h-1zM3 149h1v1h-1zM17 149h1v1h-1z"/><path fill="#a890b4" d="M43 1h1v1h-1zM23 4h1v1h-1zM42 6h1v1h-1zM54 8h1v1h-1zM54 12h1v1h-1zM29 14h1v1h-1zM42 16h1v1h-1zM51 16h1v1h-1zM46 17h1v1h-1zM55 19h1v1h-1zM59 19h1v1h-1zM11 21h1v1h-1zM2 22h1v1h-1zM40 23h1v1h-1zM20 24h1v1h-1zM68 24h1v1h-1zM51 28h1v1h-1zM19 32h1v1h-1zM21 32h1v1h-1zM47 37h1v1h-1zM43 38h1v1h-1zM54 40h1v1h-1zM74 45h1v1h-1zM20 48h1v1h-1zM55 53h1v1h-1zM57 62h1v1h-1zM36 64h1v1h-1zM4 66h1v1h-1zM27 66h1v1h-1zM73 66h1v1h-1zM5 68h1v1h-1zM35 70h1v1h-1zM30 80h1v1h-1zM1 94h1v1h-1zM41 95h1v1h-1zM7 99h1v1h-1zM46 107h1v1h-1zM52 109h1v1h-1zM0 112h1v1h-1zM14 113h1v1h-1zM48 120h1v1h-1zM4 122h1v1h-1zM7 122h1v1h-1zM41 122h1v1h-1zM43 125h1v1h-1zM21 126h1v1h-1zM43 126h1v1h-1zM54 128h1v1h-1zM19 131h1v1h-1zM19 135h1v1h-1zM21 135h1v1h-1zM13 142h1v1h-1zM53 145h1v1h-1z"/><path fill="#a890c0" d="M7 1h1v1h-1zM73 4h1v1h-1zM33 6h1v1h-1zM47 8h1v1h-1zM48 9h1v1h-1zM64 9h1v1h-1zM38 11h1v1h-1zM37 13h1v1h-1zM51 13h1v1h-1zM53 19h1v1h-1zM27 20h1v1h-1zM47 21h1v1h-1zM15 25h1v1h-1zM52 27h1v1h-1zM55 27h1v1h-1zM43 28h1v1h-1zM12 31h1v1h-1zM46 31h1v1h-1zM33 36h1v1h-1zM14 39h1v1h-1zM53 40h1v1h-1zM34 41h1v1h-1zM28 42h1v1h-1zM51 44h1v1h-1zM20 50h1v1h-1zM31 51h1v1h-1zM26 53h1v1h-1zM28 53h1v1h-1zM2 56h1v1h-1zM5 56h1v1h-1zM49 56h1v1h-1zM11 67h1v1h-1zM50 67h1v1h-1zM36 68h1v1h-1zM38 68h1v1h-1zM50 69h1v1h-1zM45 72h2v1h-2zM48 72h1v1h-1zM11 82h1v1h-1zM49 83h1v1h-1zM36 84h1v1h-1zM1 86h1v1h-1zM25 86h1v1h-1zM40 87h1v1h-1zM50 87h1v1h-1zM2 88h1v1h-1zM53 92h1v1h-1zM26 93h1v1h-1zM19 96h1v1h-1zM54 96h1v1h-1zM20 98h1v1h-1zM57 98h1v1h-1zM5 99h1v1h-1zM17 99h1v1h-1zM33 100h1v1h-1zM41 100h1v1h-1zM72 101h1v1h-1zM49 102h1v1h-1zM25 104h1v1h-1zM62 104h1v1h-1zM46 106h1v1h-1zM43 107h1v1h-1zM39 108h1v1h-1zM40 109h1v1h-1zM11 110h1v1h-1zM62 110h1v1h-1zM70 110h1v1h-1zM58 113h1v1h-1zM9 117h1v1h-1zM31 119h1v1h-1zM37 120h1v1h-1zM37 125h1v1h-1zM48 126h1v1h-1zM58 127h1v1h-1zM66 127h1v1h-1zM71 127h1v1h-1zM37 128h1v1h-1zM16 131h1v1h-1zM27 133h1v1h-1zM35 133h1v1h-1zM38 133h1v1h-1zM43 133h1v1h-1zM29 134h1v1h-1zM29 135h1v1h-1zM43 136h1v1h-1zM68 136h1v1h-1zM48 139h1v1h-1zM16 143h1v1h-1zM34 143h1v1h-1zM15 146h2v1h-2zM12 147h1v1h-1zM37 147h1v1h-1zM48 147h1v1h-1z"/><path fill="#a890cc" d="M31 1h1v1h-1zM24 52h1v1h-1zM55 60h1v1h-1zM52 107h1v1h-1zM24 110h1v1h-1zM34 134h1v1h-1zM17 138h1v1h-1zM20 140h1v1h-1z"/><path fill="#a89cc0" d="M2 1h1v1h-1zM26 20h1v1h-1zM31 20h1v1h-1zM74 24h1v1h-1zM27 28h1v1h-1zM29 28h1v1h-1zM27 38h1v1h-1zM17 40h1v1h-1zM52 58h1v1h-1zM23 70h1v1h-1zM55 74h1v1h-1zM5 87h1v1h-1zM6 89h1v1h-1zM32 96h1v1h-1zM32 100h1v1h-1zM19 106h1v1h-1zM17 107h1v1h-1zM4 111h1v1h-1zM37 113h1v1h-1zM42 128h1v1h-1zM31 135h1v1h-1z"/><path fill="#a89ccc" d="M32 1h1v1h-1zM54 1h1v1h-1zM53 2h1v1h-1zM41 3h1v1h-1zM30 4h1v1h-1zM3 5h1v1h-1zM17 5h1v1h-1zM38 5h1v1h-1zM45 5h1v1h-1zM47 7h1v1h-1zM33 8h1v1h-1zM6 10h1v1h-1zM10 10h1v1h-1zM40 10h1v1h-1zM5 11h1v1h-1zM39 12h1v1h-1zM41 13h1v1h-1zM40 15h1v1h-1zM23 16h1v1h-1zM45 16h1v1h-1zM47 16h1v1h-1zM19 17h1v1h-1zM38 17h1v1h-1zM42 17h1v1h-1zM26 18h1v1h-1zM36 18h1v1h-1zM53 18h1v1h-1zM64 19h1v1h-1zM51 22h1v1h-1zM63 22h1v1h-1zM16 23h1v1h-1zM46 23h1v1h-1zM50 23h1v1h-1zM31 24h1v1h-1zM8 26h1v1h-1zM37 26h1v1h-1zM4 27h1v1h-1zM25 27h1v1h-1zM42 27h1v1h-1zM25 29h1v1h-1zM12 32h1v1h-1zM17 33h1v1h-1zM24 33h1v1h-1zM8 35h1v1h-1zM31 35h1v1h-1zM54 36h1v1h-1zM4 38h1v1h-1zM18 38h1v1h-1zM20 38h1v1h-1zM23 38h1v1h-1zM8 39h1v1h-1zM10 39h1v1h-1zM25 39h1v1h-1zM46 39h1v1h-1zM23 40h2v1h-2zM0 41h1v1h-1zM6 41h1v1h-1zM17 41h1v1h-1zM25 41h1v1h-1zM20 42h1v1h-1zM2 45h1v1h-1zM19 45h1v1h-1zM38 45h1v1h-1zM23 46h1v1h-1zM37 46h1v1h-1zM42 47h1v1h-1zM6 48h1v1h-1zM19 48h1v1h-1zM55 48h1v1h-1zM67 49h1v1h-1zM72 49h1v1h-1zM14 51h1v1h-1zM23 51h1v1h-1zM10 53h1v1h-1zM18 53h1v1h-1zM46 53h1v1h-1zM5 54h1v1h-1zM7 54h1v1h-1zM41 54h1v1h-1zM1 56h1v1h-1zM19 56h1v1h-1zM50 56h1v1h-1zM5 59h1v1h-1zM29 59h1v1h-1zM39 59h1v1h-1zM55 59h1v1h-1zM2 60h1v1h-1zM8 60h1v1h-1zM17 60h2v1h-2zM38 61h1v1h-1zM64 62h1v1h-1zM8 63h1v1h-1zM0 64h1v1h-1zM48 65h1v1h-1zM2 67h1v1h-1zM7 67h1v1h-1zM45 67h2v1h-2zM54 67h1v1h-1zM30 69h1v1h-1zM25 71h1v1h-1zM42 71h1v1h-1zM45 71h1v1h-1zM55 71h2v1h-2zM59 71h1v1h-1zM52 72h1v1h-1zM38 74h1v1h-1zM30 76h1v1h-1zM34 76h1v1h-1zM51 77h1v1h-1zM20 79h1v1h-1zM40 79h1v1h-1zM54 79h1v1h-1zM33 80h1v1h-1zM63 80h1v1h-1zM44 81h1v1h-1zM13 82h1v1h-1zM17 82h1v1h-1zM38 84h1v1h-1zM40 84h1v1h-1zM46 84h1v1h-1zM48 84h1v1h-1zM5 85h1v1h-1zM47 86h1v1h-1zM39 87h1v1h-1zM26 88h1v1h-1zM47 88h1v1h-1zM50 88h1v1h-1zM25 89h1v1h-1zM37 89h1v1h-1zM55 90h1v1h-1zM50 91h1v1h-1zM12 92h1v1h-1zM23 93h1v1h-1zM15 94h1v1h-1zM34 96h2v1h-2zM46 96h1v1h-1zM48 96h1v1h-1zM5 97h1v1h-1zM37 97h1v1h-1zM22 98h2v1h-2zM27 98h1v1h-1zM41 99h1v1h-1zM56 99h1v1h-1zM48 101h1v1h-1zM69 101h1v1h-1zM55 102h1v1h-1zM69 103h1v1h-1zM74 103h1v1h-1zM28 104h1v1h-1zM31 105h2v1h-2zM38 105h1v1h-1zM56 105h1v1h-1zM14 107h1v1h-1zM16 108h1v1h-1zM31 109h1v1h-1zM47 110h1v1h-1zM37 111h1v1h-1zM45 111h1v1h-1zM32 112h1v1h-1zM47 113h2v1h-2zM28 114h1v1h-1zM8 115h1v1h-1zM40 115h1v1h-1zM55 115h1v1h-1zM55 116h1v1h-1zM8 117h1v1h-1zM37 117h1v1h-1zM40 117h1v1h-1zM2 118h1v1h-1zM16 118h1v1h-1zM27 118h1v1h-1zM42 118h1v1h-1zM48 118h1v1h-1zM38 119h1v1h-1zM48 119h1v1h-1zM71 119h1v1h-1zM1 120h1v1h-1zM3 120h1v1h-1zM12 120h1v1h-1zM7 121h1v1h-1zM17 121h1v1h-1zM37 121h1v1h-1zM11 122h1v1h-1zM23 122h1v1h-1zM28 122h1v1h-1zM37 123h1v1h-1zM24 124h1v1h-1zM37 124h1v1h-1zM4 126h1v1h-1zM54 126h1v1h-1zM56 126h1v1h-1zM0 127h1v1h-1zM38 127h2v1h-2zM48 127h1v1h-1zM16 128h1v1h-1zM31 128h1v1h-1zM40 128h1v1h-1zM13 129h1v1h-1zM38 129h1v1h-1zM45 129h1v1h-1zM48 130h1v1h-1zM19 132h1v1h-1zM40 133h1v1h-1zM49 133h1v1h-1zM69 133h1v1h-1zM5 134h1v1h-1zM6 135h1v1h-1zM8 135h1v1h-1zM39 135h1v1h-1zM43 135h1v1h-1zM7 137h1v1h-1zM36 137h1v1h-1zM2 138h1v1h-1zM36 139h1v1h-1zM51 139h1v1h-1zM6 141h1v1h-1zM33 141h1v1h-1zM56 141h1v1h-1zM4 142h1v1h-1zM22 142h1v1h-1zM41 143h1v1h-1zM47 143h1v1h-1zM52 143h1v1h-1zM37 144h1v1h-1zM14 145h1v1h-1zM23 145h1v1h-1zM47 145h1v1h-1zM56 145h1v1h-1zM4 146h1v1h-1zM36 146h1v1h-1zM30 147h1v1h-1zM35 147h1v1h-1zM7 148h1v1h-1zM37 148h1v1h-1z"/><path fill="#a8a8cc" d="M61 22h1v1h-1zM8 23h1v1h-1zM44 26h1v1h-1zM38 33h1v1h-1zM2 42h1v1h-1zM36 44h1v1h-1zM25 54h1v1h-1zM54 57h1v1h-1zM10 68h1v1h-1zM72 71h1v1h-1zM36 86h1v1h-1zM48 95h1v1h-1zM12 98h1v1h-1zM29 106h1v1h-1zM58 110h1v1h-1zM16 113h1v1h-1zM34 120h1v1h-1zM25 121h1v1h-1zM46 139h1v1h-1zM2 140h1v1h-1zM34 145h1v1h-1zM38 146h1v1h-1z"/><path fill="#b43030" d="M9 0h1v1h-1zM16 0h1v1h-1zM18 0h1v1h-1zM20 0h1v1h-1zM25 0h1v1h-1zM1 1h1v1h-1zM21 1h1v1h-1zM10 2h1v1h-1zM14 2h1v1h-1zM18 2h1v1h-1zM2 3h1v1h-1zM17 3h1v1h-1zM20 3h1v1h-1zM18 4h1v1h-1zM9 5h1v1h-1zM18 5h1v1h-1zM24 5h1v1h-1zM0 6h1v1h-1zM12 6h1v1h-1zM4 7h1v1h-1zM18 7h1v1h-1zM28 7h1v1h-1zM18 8h1v1h-1zM23 8h1v1h-1zM4 9h1v1h-1zM11 9h1v1h-1zM18 9h1v1h-1zM21 9h1v1h-1zM28 9h2v1h-2zM14 10h1v1h-1zM28 10h1v1h-1zM44 10h1v1h-1zM12 11h1v1h-1zM20 11h1v1h-1zM23 11h1v1h-1zM28 11h2v1h-2zM12 12h1v1h-1zM17 12h1v1h-1zM3 13h2v1h-2zM18 13h1v1h-1zM28 13h1v1h-1zM55 13h1v1h-1zM4 14h1v1h-1zM27 14h1v1h-1zM0 15h1v1h-1zM1 16h1v1h-1zM9 17h1v1h-1zM1 18h1v1h-1zM11 18h1v1h-1zM14 18h1v1h-1zM18 18h1v1h-1zM21 18h1v1h-1zM25 18h1v1h-1zM29 18h1v1h-1zM11 19h1v1h-1zM18 19h2v1h-2zM28 20h1v1h-1zM18 22h1v1h-1zM17 23h2v1h-2zM28 23h1v1h-1zM30 26h1v1h-1zM51 27h1v1h-1zM37 31h1v1h-1zM62 32h1v1h-1zM55 33h1v1h-1zM59 33h1v1h-1zM61 33h1v1h-1zM32 34h1v1h-1zM70 34h1v1h-1zM72 34h1v1h-1zM30 37h1v1h-1zM59 37h1v1h-1zM61 37h2v1h-2zM64 37h1v1h-1zM67 37h1v1h-1zM70 37h1v1h-1zM72 37h1v1h-1zM34 38h1v1h-1zM32 39h1v1h-1zM35 39h1v1h-1zM57 40h9v1h-9zM67 40h1v1h-1zM69 40h2v1h-2zM72 40h2v1h-2zM30 41h1v1h-1zM49 41h1v1h-1zM61 42h3v1h-3zM70 43h1v1h-1zM47 45h1v1h-1zM41 46h1v1h-1zM32 47h1v1h-1zM51 49h1v1h-1zM38 51h1v1h-1zM41 51h1v1h-1zM47 51h1v1h-1zM62 52h2v1h-2zM35 53h1v1h-1zM30 54h1v1h-1zM32 54h1v1h-1zM51 55h1v1h-1zM47 57h1v1h-1zM50 59h1v1h-1zM32 60h1v1h-1zM47 60h1v1h-1zM12 63h1v1h-1zM44 63h1v1h-1zM44 64h1v1h-1zM53 64h1v1h-1zM30 65h1v1h-1zM47 70h1v1h-1zM12 71h1v1h-1zM17 71h1v1h-1zM28 71h1v1h-1zM39 71h1v1h-1zM5 72h1v1h-1zM7 72h1v1h-1zM11 72h1v1h-1zM17 73h1v1h-1zM21 73h1v1h-1zM0 74h1v1h-1zM9 74h1v1h-1zM12 74h1v1h-1zM14 74h1v1h-1zM17 74h1v1h-1zM24 74h1v1h-1zM27 74h1v1h-1zM29 74h1v1h-1zM2 75h1v1h-1zM5 75h1v1h-1zM7 75h1v1h-1zM9 75h2v1h-2zM9 77h1v1h-1zM4 78h1v1h-1zM12 78h1v1h-1zM1 79h1v1h-1zM11 79h1v1h-1zM14 79h1v1h-1zM23 79h1v1h-1zM1 80h1v1h-1zM6 80h1v1h-1zM21 80h1v1h-1zM24 80h1v1h-1zM28 80h1v1h-1zM11 81h1v1h-1zM1 84h1v1h-1zM4 84h1v1h-1zM18 85h1v1h-1zM26 85h1v1h-1zM29 85h1v1h-1zM55 85h1v1h-1zM16 86h1v1h-1zM35 86h1v1h-1zM52 86h1v1h-1zM34 91h1v1h-1zM41 91h1v1h-1zM12 100h1v1h-1zM23 100h1v1h-1zM15 103h1v1h-1zM12 104h1v1h-1zM18 104h1v1h-1zM12 105h1v1h-1zM24 105h1v1h-1zM18 106h1v1h-1zM24 108h1v1h-1zM34 110h1v1h-1zM46 110h1v1h-1zM35 112h1v1h-1zM44 115h1v1h-1zM61 118h3v1h-3zM67 118h1v1h-1zM69 118h2v1h-2zM72 118h2v1h-2zM21 123h1v1h-1zM32 123h1v1h-1zM21 124h1v1h-1zM18 125h1v1h-1zM28 126h1v1h-1zM1 127h1v1h-1zM17 127h1v1h-1zM18 128h1v1h-1zM18 129h1v1h-1zM12 131h1v1h-1zM41 136h1v1h-1zM51 136h1v1h-1zM45 137h1v1h-1zM38 138h1v1h-1zM30 139h1v1h-1z"/><path fill="#b43c30" d="M12 2h1v1h-1zM0 7h1v1h-1zM13 7h1v1h-1zM18 16h1v1h-1zM10 18h1v1h-1zM41 25h1v1h-1zM44 28h1v1h-1zM17 29h1v1h-1zM32 29h1v1h-1zM60 42h1v1h-1zM53 44h1v1h-1zM32 46h1v1h-1zM55 66h1v1h-1zM0 71h1v1h-1zM21 72h1v1h-1zM20 74h1v1h-1zM14 77h1v1h-1zM11 78h1v1h-1zM12 79h1v1h-1zM47 92h1v1h-1zM59 94h1v1h-1zM62 94h1v1h-1zM2 103h1v1h-1zM59 118h1v1h-1zM30 133h1v1h-1zM30 141h1v1h-1z"/><path fill="#b43c3c" d="M19 0h1v1h-1zM24 0h1v1h-1zM21 2h1v1h-1zM23 3h1v1h-1zM6 7h2v1h-2zM28 8h1v1h-1zM30 8h1v1h-1zM44 8h1v1h-1zM1 9h1v1h-1zM15 9h1v1h-1zM29 10h1v1h-1zM17 11h1v1h-1zM27 12h1v1h-1zM18 15h1v1h-1zM11 16h1v1h-1zM25 16h1v1h-1zM2 18h1v1h-1zM35 26h1v1h-1zM70 30h1v1h-1zM56 32h1v1h-1zM59 34h1v1h-1zM61 34h1v1h-1zM70 35h1v1h-1zM50 36h1v1h-1zM71 37h1v1h-1zM37 39h1v1h-1zM68 40h1v1h-1zM44 43h1v1h-1zM53 43h1v1h-1zM63 44h1v1h-1zM30 50h1v1h-1zM66 52h1v1h-1zM70 52h1v1h-1zM62 56h1v1h-1zM33 58h1v1h-1zM46 59h1v1h-1zM34 63h1v1h-1zM40 63h1v1h-1zM4 71h1v1h-1zM20 73h1v1h-1zM46 74h1v1h-1zM12 76h1v1h-1zM21 76h1v1h-1zM17 77h1v1h-1zM14 80h1v1h-1zM17 81h1v1h-1zM29 81h1v1h-1zM55 82h1v1h-1zM20 85h1v1h-1zM23 86h1v1h-1zM34 95h1v1h-1zM55 95h1v1h-1zM3 100h1v1h-1zM5 103h1v1h-1zM17 105h1v1h-1zM74 118h1v1h-1zM61 119h1v1h-1zM7 123h1v1h-1zM12 129h1v1h-1zM34 142h1v1h-1zM32 144h1v1h-1zM32 149h1v1h-1z"/><path fill="#b45460" d="M66 58h1v1h-1zM68 58h1v1h-1zM70 58h1v1h-1z"/><path fill="#b4546c" d="M59 39h1v1h-1zM62 39h3v1h-3zM59 54h1v1h-1zM71 58h1v1h-1zM63 92h1v1h-1zM65 113h1v1h-1zM63 116h1v1h-1zM71 138h1v1h-1z"/><path fill="#b4606c" d="M20 4h1v1h-1zM70 4h1v1h-1zM74 28h1v1h-1zM65 36h1v1h-1zM70 36h1v1h-1zM66 54h1v1h-1zM63 64h1v1h-1zM18 69h1v1h-1zM64 95h1v1h-1zM41 113h1v1h-1zM59 117h1v1h-1zM58 138h1v1h-1zM72 138h1v1h-1zM74 138h1v1h-1z"/><path fill="#b46078" d="M65 29h1v1h-1zM62 46h1v1h-1zM59 48h1v1h-1zM64 48h1v1h-1zM63 49h1v1h-1zM74 54h1v1h-1zM53 58h1v1h-1zM71 60h1v1h-1zM19 64h1v1h-1zM60 64h1v1h-1zM12 67h1v1h-1zM6 83h1v1h-1zM65 95h1v1h-1zM72 116h1v1h-1zM71 136h1v1h-1zM22 149h1v1h-1z"/><path fill="#b46c78" d="M73 28h1v1h-1zM74 29h1v1h-1zM66 36h1v1h-1zM69 36h1v1h-1zM72 43h1v1h-1zM73 54h1v1h-1zM19 100h1v1h-1zM40 102h1v1h-1zM44 126h1v1h-1zM70 136h1v1h-1z"/><path fill="#b46c84" d="M61 2h1v1h-1zM4 4h1v1h-1zM42 11h1v1h-1zM20 14h1v1h-1zM14 15h1v1h-1zM25 17h1v1h-1zM51 36h1v1h-1zM67 36h1v1h-1zM58 59h1v1h-1zM72 59h1v1h-1zM72 60h1v1h-1zM17 62h1v1h-1zM9 69h1v1h-1zM3 70h1v1h-1zM7 73h1v1h-1zM70 92h1v1h-1zM49 99h1v1h-1zM23 102h1v1h-1zM5 108h1v1h-1zM64 113h1v1h-1zM66 113h1v1h-1zM74 116h1v1h-1zM57 142h1v1h-1z"/><path fill="#b46c90" d="M57 36h1v1h-1zM64 110h1v1h-1z"/><path fill="#b47884" d="M12 17h1v1h-1zM40 25h1v1h-1zM43 34h1v1h-1zM58 54h1v1h-1zM66 56h1v1h-1zM73 59h1v1h-1zM66 60h1v1h-1zM19 78h1v1h-1zM47 87h1v1h-1zM64 115h1v1h-1zM34 116h1v1h-1zM10 129h1v1h-1z"/><path fill="#b47890" d="M56 1h1v1h-1zM29 4h1v1h-1zM16 5h1v1h-1zM32 6h1v1h-1zM34 6h1v1h-1zM44 11h1v1h-1zM63 13h1v1h-1zM17 15h1v1h-1zM35 20h1v1h-1zM64 24h1v1h-1zM66 24h1v1h-1zM40 28h1v1h-1zM58 32h1v1h-1zM72 36h1v1h-1zM60 41h1v1h-1zM69 41h1v1h-1zM64 46h1v1h-1zM72 48h1v1h-1zM72 51h1v1h-1zM11 55h1v1h-1zM67 60h1v1h-1zM15 62h1v1h-1zM41 66h1v1h-1zM7 69h1v1h-1zM3 74h1v1h-1zM52 77h1v1h-1zM15 80h1v1h-1zM12 88h1v1h-1zM66 90h1v1h-1zM39 93h1v1h-1zM9 99h1v1h-1zM17 102h1v1h-1zM52 105h1v1h-1zM25 106h1v1h-1zM65 115h1v1h-1zM70 115h1v1h-1zM72 117h1v1h-1zM53 122h1v1h-1zM53 131h1v1h-1zM42 137h1v1h-1zM61 143h1v1h-1z"/><path fill="#b4789c" d="M73 29h1v1h-1zM33 52h1v1h-1zM64 59h1v1h-1zM64 61h1v1h-1zM61 66h1v1h-1zM1 70h1v1h-1zM47 74h1v1h-1zM11 89h1v1h-1zM62 90h1v1h-1zM60 95h1v1h-1zM42 97h1v1h-1zM42 100h1v1h-1zM19 101h1v1h-1zM10 102h1v1h-1zM7 103h1v1h-1zM15 104h1v1h-1zM47 109h1v1h-1zM61 112h2v1h-2zM4 113h1v1h-1zM24 116h1v1h-1zM26 118h1v1h-1zM5 135h1v1h-1z"/><path fill="#b48490" d="M71 29h1v1h-1zM35 101h1v1h-1z"/><path fill="#b4849c" d="M51 3h1v1h-1zM28 4h1v1h-1zM50 4h1v1h-1zM46 6h1v1h-1zM15 15h1v1h-1zM14 17h1v1h-1zM1 22h1v1h-1zM2 24h1v1h-1zM7 27h1v1h-1zM58 27h1v1h-1zM64 27h1v1h-1zM51 31h1v1h-1zM72 31h1v1h-1zM49 35h1v1h-1zM9 36h1v1h-1zM28 37h1v1h-1zM59 51h1v1h-1zM12 52h1v1h-1zM34 52h1v1h-1zM41 52h1v1h-1zM32 59h1v1h-1zM61 61h1v1h-1zM36 62h1v1h-1zM19 66h1v1h-1zM63 66h1v1h-1zM10 69h1v1h-1zM0 70h1v1h-1zM25 70h2v1h-2zM15 73h1v1h-1zM10 76h1v1h-1zM24 77h1v1h-1zM27 89h1v1h-1zM40 90h1v1h-1zM59 95h1v1h-1zM44 98h1v1h-1zM71 98h1v1h-1zM29 101h1v1h-1zM56 101h1v1h-1zM12 102h1v1h-1zM14 102h1v1h-1zM2 104h1v1h-1zM46 108h1v1h-1zM59 108h1v1h-1zM18 109h1v1h-1zM69 111h1v1h-1zM47 115h1v1h-1zM53 117h1v1h-1zM54 120h1v1h-1zM13 122h1v1h-1zM2 123h1v1h-1zM9 129h1v1h-1zM14 131h1v1h-1zM2 132h1v1h-1zM64 136h1v1h-1zM60 137h1v1h-1zM54 142h1v1h-1zM64 142h1v1h-1zM63 143h1v1h-1zM67 143h1v1h-1zM69 143h1v1h-1z"/><path fill="#b484a8" d="M43 3h1v1h-1zM7 5h1v1h-1zM37 6h1v1h-1zM49 6h1v1h-1zM62 13h1v1h-1zM15 14h1v1h-1zM35 21h1v1h-1zM72 24h1v1h-1zM47 32h1v1h-1zM48 35h1v1h-1zM50 37h1v1h-1zM43 46h1v1h-1zM64 49h1v1h-1zM71 61h1v1h-1zM16 62h1v1h-1zM35 65h1v1h-1zM45 68h1v1h-1zM47 72h1v1h-1zM15 76h1v1h-1zM33 79h1v1h-1zM39 80h1v1h-1zM3 81h1v1h-1zM0 88h1v1h-1zM28 88h1v1h-1zM16 89h1v1h-1zM44 89h1v1h-1zM74 92h1v1h-1zM2 101h1v1h-1zM31 102h1v1h-1zM54 103h1v1h-1zM5 113h1v1h-1zM57 113h1v1h-1zM2 116h1v1h-1zM70 117h1v1h-1zM31 130h1v1h-1zM7 131h1v1h-1zM11 131h1v1h-1zM58 136h1v1h-1zM35 138h1v1h-1zM41 139h1v1h-1zM43 148h2v1h-2z"/><path fill="#b490a8" d="M69 13h1v1h-1zM16 14h1v1h-1zM5 16h1v1h-1zM56 19h1v1h-1zM35 23h1v1h-1zM36 30h1v1h-1zM54 31h1v1h-1zM2 61h1v1h-1zM55 79h1v1h-1zM24 82h1v1h-1zM41 87h1v1h-1zM45 87h1v1h-1zM33 88h1v1h-1zM55 94h1v1h-1zM74 94h1v1h-1zM20 99h1v1h-1zM19 103h1v1h-1zM60 107h1v1h-1zM0 130h1v1h-1zM33 133h1v1h-1zM11 142h1v1h-1zM46 147h1v1h-1zM14 149h1v1h-1z"/><path fill="#b490b4" d="M42 0h1v1h-1zM32 3h1v1h-1zM51 4h1v1h-1zM14 6h1v1h-1zM51 9h1v1h-1zM25 12h1v1h-1zM26 13h1v1h-1zM56 13h1v1h-1zM71 13h1v1h-1zM0 14h1v1h-1zM25 19h1v1h-1zM5 25h1v1h-1zM62 25h1v1h-1zM48 28h1v1h-1zM54 29h1v1h-1zM4 31h1v1h-1zM34 34h1v1h-1zM43 35h1v1h-1zM17 36h1v1h-1zM21 36h1v1h-1zM52 37h1v1h-1zM56 39h1v1h-1zM36 40h1v1h-1zM27 46h1v1h-1zM44 49h1v1h-1zM16 50h1v1h-1zM27 50h1v1h-1zM52 50h1v1h-1zM52 51h1v1h-1zM12 53h1v1h-1zM36 55h1v1h-1zM39 55h1v1h-1zM41 55h1v1h-1zM39 56h1v1h-1zM43 62h1v1h-1zM2 63h1v1h-1zM43 63h1v1h-1zM34 65h1v1h-1zM36 66h1v1h-1zM39 66h1v1h-1zM1 67h1v1h-1zM43 67h1v1h-1zM14 70h1v1h-1zM45 75h1v1h-1zM5 76h1v1h-1zM37 77h1v1h-1zM56 80h1v1h-1zM39 81h1v1h-1zM44 82h1v1h-1zM30 85h1v1h-1zM37 87h1v1h-1zM48 87h1v1h-1zM27 88h1v1h-1zM9 89h1v1h-1zM35 90h1v1h-1zM56 91h1v1h-1zM67 92h1v1h-1zM13 99h1v1h-1zM26 99h1v1h-1zM2 100h1v1h-1zM11 104h1v1h-1zM5 107h1v1h-1zM71 107h1v1h-1zM34 108h1v1h-1zM45 108h1v1h-1zM36 110h1v1h-1zM65 110h1v1h-1zM68 110h1v1h-1zM31 112h1v1h-1zM60 113h1v1h-1zM46 116h1v1h-1zM12 117h1v1h-1zM66 117h1v1h-1zM55 119h1v1h-1zM51 120h1v1h-1zM25 123h1v1h-1zM50 125h1v1h-1zM50 126h1v1h-1zM29 127h1v1h-1zM59 127h1v1h-1zM5 131h1v1h-1zM32 131h1v1h-1zM50 131h1v1h-1zM71 132h1v1h-1zM45 133h1v1h-1zM65 133h1v1h-1zM9 136h1v1h-1zM21 138h1v1h-1zM1 139h1v1h-1zM44 146h1v1h-1zM18 147h1v1h-1zM39 148h1v1h-1zM55 149h1v1h-1z"/><path fill="#b490c0" d="M61 17h1v1h-1zM28 29h1v1h-1zM50 46h1v1h-1zM58 49h1v1h-1zM42 56h1v1h-1zM41 61h1v1h-1zM46 70h1v1h-1zM41 84h1v1h-1zM33 90h1v1h-1zM17 94h1v1h-1zM34 102h1v1h-1zM51 119h1v1h-1zM5 122h1v1h-1zM62 139h1v1h-1zM37 145h1v1h-1zM36 149h1v1h-1z"/><path fill="#b49cb4" d="M54 5h1v1h-1zM13 8h1v1h-1zM32 19h1v1h-1zM43 50h1v1h-1zM67 62h1v1h-1zM39 74h1v1h-1zM52 74h1v1h-1zM35 78h1v1h-1zM42 79h1v1h-1zM46 80h1v1h-1zM38 88h1v1h-1zM69 107h1v1h-1zM32 125h1v1h-1zM13 133h1v1h-1zM35 134h1v1h-1zM40 145h1v1h-1z"/><path fill="#b49cc0" d="M27 1h1v1h-1zM38 2h1v1h-1zM72 2h1v1h-1zM58 4h1v1h-1zM54 7h1v1h-1zM16 8h1v1h-1zM46 9h1v1h-1zM23 13h1v1h-1zM6 16h1v1h-1zM26 17h1v1h-1zM42 18h1v1h-1zM6 23h1v1h-1zM41 23h1v1h-1zM2 30h1v1h-1zM29 30h1v1h-1zM10 32h1v1h-1zM20 32h1v1h-1zM28 33h1v1h-1zM12 34h1v1h-1zM4 35h1v1h-1zM20 35h1v1h-1zM35 38h1v1h-1zM46 38h1v1h-1zM52 39h1v1h-1zM18 40h1v1h-1zM31 41h1v1h-1zM33 42h1v1h-1zM40 42h1v1h-1zM15 44h1v1h-1zM43 45h1v1h-1zM54 45h1v1h-1zM72 45h1v1h-1zM28 47h1v1h-1zM12 49h1v1h-1zM71 49h1v1h-1zM3 50h1v1h-1zM64 50h1v1h-1zM5 51h1v1h-1zM53 55h1v1h-1zM33 56h1v1h-1zM56 56h1v1h-1zM49 60h1v1h-1zM9 61h1v1h-1zM27 61h1v1h-1zM72 62h1v1h-1zM36 63h1v1h-1zM37 64h1v1h-1zM50 64h1v1h-1zM28 67h1v1h-1zM22 68h1v1h-1zM37 68h1v1h-1zM43 68h1v1h-1zM44 69h1v1h-1zM33 70h1v1h-1zM38 71h1v1h-1zM1 73h1v1h-1zM10 74h1v1h-1zM50 74h1v1h-1zM19 76h1v1h-1zM30 77h1v1h-1zM20 81h1v1h-1zM21 82h1v1h-1zM36 82h1v1h-1zM40 83h1v1h-1zM32 84h1v1h-1zM0 86h1v1h-1zM46 86h1v1h-1zM36 87h1v1h-1zM34 89h1v1h-1zM54 91h1v1h-1zM70 95h1v1h-1zM10 96h2v1h-2zM21 96h1v1h-1zM47 98h1v1h-1zM53 101h1v1h-1zM36 102h1v1h-1zM16 105h1v1h-1zM13 106h1v1h-1zM31 107h1v1h-1zM35 107h1v1h-1zM49 107h1v1h-1zM65 107h1v1h-1zM12 108h1v1h-1zM44 110h1v1h-1zM20 113h1v1h-1zM14 116h1v1h-1zM28 116h1v1h-1zM47 116h1v1h-1zM26 117h1v1h-1zM46 119h1v1h-1zM4 121h1v1h-1zM43 121h1v1h-1zM21 122h1v1h-1zM43 124h1v1h-1zM51 125h1v1h-1zM40 126h1v1h-1zM11 128h1v1h-1zM29 128h1v1h-1zM47 128h1v1h-1zM33 132h1v1h-1zM42 133h1v1h-1zM3 134h1v1h-1zM9 139h1v1h-1zM52 139h1v1h-1zM70 139h1v1h-1zM10 140h1v1h-1zM27 140h1v1h-1zM33 140h1v1h-1zM47 140h1v1h-1zM42 141h1v1h-1zM51 141h1v1h-1zM14 142h1v1h-1zM42 142h1v1h-1zM46 142h1v1h-1zM17 145h1v1h-1zM2 147h1v1h-1zM52 148h1v1h-1z"/><path fill="#b49ccc" d="M52 3h1v1h-1zM47 6h2v1h-2zM3 7h1v1h-1zM73 13h2v1h-2zM41 21h1v1h-1zM46 22h1v1h-1zM24 24h1v1h-1zM8 30h1v1h-1zM43 36h1v1h-1zM33 37h1v1h-1zM2 40h1v1h-1zM42 49h1v1h-1zM60 49h1v1h-1zM48 50h1v1h-1zM24 55h1v1h-1zM55 56h1v1h-1zM53 76h1v1h-1zM62 76h1v1h-1zM25 78h1v1h-1zM42 84h1v1h-1zM43 85h1v1h-1zM14 87h1v1h-1zM39 90h1v1h-1zM42 91h1v1h-1zM17 95h1v1h-1zM42 95h1v1h-1zM69 95h1v1h-1zM15 96h1v1h-1zM47 97h1v1h-1zM48 98h1v1h-1zM73 103h1v1h-1zM28 113h1v1h-1zM23 115h1v1h-1zM21 117h1v1h-1zM69 117h1v1h-1zM36 118h1v1h-1zM40 120h1v1h-1zM41 124h1v1h-1zM65 127h1v1h-1zM33 129h1v1h-1zM44 129h1v1h-1zM42 132h1v1h-1zM20 134h1v1h-1zM33 135h1v1h-1zM18 141h1v1h-1zM19 145h1v1h-1zM41 149h1v1h-1z"/><path fill="#b4a8cc" d="M8 0h1v1h-1zM16 7h1v1h-1zM2 9h1v1h-1zM25 9h1v1h-1zM7 10h1v1h-1zM36 10h1v1h-1zM37 11h1v1h-1zM45 11h1v1h-1zM4 12h1v1h-1zM37 12h1v1h-1zM38 14h1v1h-1zM46 16h1v1h-1zM36 17h1v1h-1zM47 20h1v1h-1zM55 21h1v1h-1zM14 23h1v1h-1zM62 23h1v1h-1zM48 25h1v1h-1zM42 26h1v1h-1zM45 27h1v1h-1zM49 27h1v1h-1zM50 29h1v1h-1zM56 29h1v1h-1zM18 31h1v1h-1zM6 33h1v1h-1zM8 34h1v1h-1zM24 34h1v1h-1zM18 36h1v1h-1zM23 36h1v1h-1zM41 40h1v1h-1zM4 43h1v1h-1zM31 46h1v1h-1zM48 47h1v1h-1zM72 47h1v1h-1zM52 49h1v1h-1zM9 51h1v1h-1zM42 51h1v1h-1zM17 53h1v1h-1zM45 55h1v1h-1zM8 56h1v1h-1zM45 56h1v1h-1zM36 59h1v1h-1zM28 61h1v1h-1zM31 62h1v1h-1zM20 64h1v1h-1zM23 65h1v1h-1zM8 66h1v1h-1zM45 66h1v1h-1zM52 66h1v1h-1zM38 69h1v1h-1zM52 71h1v1h-1zM34 72h1v1h-1zM25 73h1v1h-1zM30 74h1v1h-1zM34 75h1v1h-1zM6 82h1v1h-1zM31 83h1v1h-1zM56 83h1v1h-1zM26 84h1v1h-1zM37 84h1v1h-1zM6 86h1v1h-1zM48 91h1v1h-1zM47 93h1v1h-1zM0 94h1v1h-1zM12 96h1v1h-1zM17 96h1v1h-1zM23 96h1v1h-1zM0 98h1v1h-1zM74 98h1v1h-1zM72 103h1v1h-1zM37 105h1v1h-1zM28 106h1v1h-1zM34 106h1v1h-1zM21 107h1v1h-1zM35 108h1v1h-1zM66 110h1v1h-1zM56 111h1v1h-1zM35 116h1v1h-1zM4 117h1v1h-1zM24 118h1v1h-1zM50 120h1v1h-1zM20 123h1v1h-1zM19 124h1v1h-1zM36 128h1v1h-1zM26 129h1v1h-1zM3 132h1v1h-1zM22 132h1v1h-1zM55 132h1v1h-1zM46 135h1v1h-1zM6 136h1v1h-1zM4 137h1v1h-1zM18 138h1v1h-1zM37 140h1v1h-1zM7 141h1v1h-1zM43 141h1v1h-1zM45 141h1v1h-1zM6 142h1v1h-1zM10 142h1v1h-1zM54 144h1v1h-1zM21 147h1v1h-1zM25 147h1v1h-1zM11 148h1v1h-1zM42 149h1v1h-1z"/><path fill="#b4a8d8" d="M52 0h1v1h-1zM57 4h1v1h-1zM11 7h1v1h-1zM30 7h1v1h-1zM35 8h1v1h-1zM11 10h1v1h-1zM50 10h1v1h-1zM3 12h1v1h-1zM2 13h1v1h-1zM30 13h1v1h-1zM42 14h1v1h-1zM21 16h1v1h-1zM56 17h1v1h-1zM9 18h1v1h-1zM35 18h1v1h-1zM50 21h1v1h-1zM15 27h1v1h-1zM21 27h1v1h-1zM31 27h1v1h-1zM1 29h1v1h-1zM55 30h1v1h-1zM8 37h1v1h-1zM51 37h1v1h-1zM8 44h1v1h-1zM74 47h1v1h-1zM28 49h1v1h-1zM35 50h1v1h-1zM58 50h1v1h-1zM17 51h1v1h-1zM2 54h1v1h-1zM10 54h1v1h-1zM21 54h1v1h-1zM7 55h1v1h-1zM55 55h1v1h-1zM41 59h1v1h-1zM29 60h1v1h-1zM50 60h1v1h-1zM54 62h1v1h-1zM34 67h1v1h-1zM40 67h1v1h-1zM24 68h1v1h-1zM39 72h1v1h-1zM54 72h1v1h-1zM52 73h1v1h-1zM38 78h1v1h-1zM47 80h1v1h-1zM49 82h1v1h-1zM0 83h1v1h-1zM48 86h1v1h-1zM56 87h1v1h-1zM36 96h1v1h-1zM51 96h1v1h-1zM10 97h1v1h-1zM28 97h1v1h-1zM54 97h1v1h-1zM9 98h1v1h-1zM21 98h1v1h-1zM60 98h1v1h-1zM34 99h1v1h-1zM34 103h1v1h-1zM42 103h1v1h-1zM44 103h1v1h-1zM54 108h1v1h-1zM8 111h1v1h-1zM19 111h1v1h-1zM48 112h1v1h-1zM45 113h1v1h-1zM25 120h1v1h-1zM26 123h1v1h-1zM42 123h1v1h-1zM51 123h1v1h-1zM26 124h1v1h-1zM45 124h1v1h-1zM26 130h2v1h-2zM50 130h1v1h-1zM28 132h1v1h-1zM46 132h1v1h-1zM68 132h1v1h-1zM31 136h1v1h-1zM0 138h1v1h-1zM31 138h1v1h-1zM8 139h1v1h-1zM39 140h1v1h-1zM0 144h1v1h-1zM46 145h1v1h-1zM20 146h1v1h-1zM14 148h1v1h-1zM54 149h1v1h-1z"/><path fill="#b4b4d8" d="M20 87h1v1h-1zM34 127h1v1h-1z"/><path fill="#c03c3c" d="M23 0h1v1h-1zM9 1h1v1h-1zM24 1h1v1h-1zM13 2h1v1h-1zM18 3h1v1h-1zM11 6h1v1h-1zM2 7h1v1h-1zM9 7h1v1h-1zM43 7h1v1h-1zM1 8h1v1h-1zM5 9h1v1h-1zM13 9h1v1h-1zM14 11h1v1h-1zM17 13h1v1h-1zM9 14h1v1h-1zM15 16h1v1h-1zM24 17h1v1h-1zM20 18h1v1h-1zM20 19h1v1h-1zM9 21h1v1h-1zM44 29h1v1h-1zM30 30h1v1h-1zM32 32h1v1h-1zM53 32h1v1h-1zM69 32h1v1h-1zM39 33h1v1h-1zM72 33h1v1h-1zM30 34h1v1h-1zM63 34h1v1h-1zM65 34h1v1h-1zM67 34h1v1h-1zM69 34h1v1h-1zM73 35h1v1h-1zM30 36h1v1h-1zM60 37h1v1h-1zM53 38h1v1h-1zM71 40h1v1h-1zM74 40h1v1h-1zM64 41h1v1h-1zM59 42h1v1h-1zM64 42h1v1h-1zM49 43h1v1h-1zM62 44h1v1h-1zM65 44h1v1h-1zM46 48h1v1h-1zM32 50h1v1h-1zM46 50h1v1h-1zM44 52h1v1h-1zM30 55h1v1h-1zM44 55h1v1h-1zM47 56h1v1h-1zM37 57h1v1h-1zM37 63h1v1h-1zM47 63h1v1h-1zM61 64h2v1h-2zM66 64h1v1h-1zM47 69h1v1h-1zM5 70h1v1h-1zM11 70h1v1h-1zM5 71h1v1h-1zM10 71h1v1h-1zM15 71h1v1h-1zM30 71h1v1h-1zM12 72h1v1h-1zM14 72h1v1h-1zM18 72h1v1h-1zM22 72h1v1h-1zM4 73h2v1h-2zM22 74h1v1h-1zM12 75h1v1h-1zM15 75h1v1h-1zM18 75h1v1h-1zM24 76h1v1h-1zM26 78h1v1h-1zM28 78h1v1h-1zM16 79h2v1h-2zM24 79h1v1h-1zM27 79h1v1h-1zM12 80h1v1h-1zM4 81h2v1h-2zM18 81h1v1h-1zM5 83h1v1h-1zM21 83h1v1h-1zM23 83h1v1h-1zM11 86h1v1h-1zM42 87h1v1h-1zM37 91h1v1h-1zM55 91h1v1h-1zM46 94h1v1h-1zM64 94h1v1h-1zM21 103h1v1h-1zM10 105h2v1h-2zM19 105h1v1h-1zM53 116h1v1h-1zM58 118h1v1h-1zM4 123h1v1h-1zM18 124h1v1h-1zM28 124h1v1h-1zM12 125h1v1h-1zM14 129h1v1h-1zM44 130h1v1h-1zM46 130h1v1h-1zM6 131h1v1h-1zM30 132h1v1h-1zM24 136h1v1h-1zM42 136h1v1h-1zM61 138h1v1h-1zM40 139h1v1h-1zM53 140h1v1h-1zM47 141h1v1h-1zM17 142h1v1h-1zM17 148h1v1h-1z"/><path fill="#c0483c" d="M44 109h1v1h-1z"/><path fill="#c04848" d="M4 0h1v1h-1zM13 0h1v1h-1zM28 0h1v1h-1zM53 0h1v1h-1zM4 1h1v1h-1zM18 1h1v1h-1zM1 2h1v1h-1zM6 2h1v1h-1zM16 3h1v1h-1zM24 3h1v1h-1zM12 4h1v1h-1zM17 4h1v1h-1zM14 5h1v1h-1zM30 5h1v1h-1zM32 5h1v1h-1zM18 6h1v1h-1zM44 6h1v1h-1zM22 7h1v1h-1zM53 7h1v1h-1zM56 7h1v1h-1zM9 8h1v1h-1zM15 8h1v1h-1zM17 8h1v1h-1zM0 9h1v1h-1zM7 9h1v1h-1zM20 9h1v1h-1zM16 10h3v1h-3zM23 10h1v1h-1zM21 11h1v1h-1zM18 12h1v1h-1zM29 12h1v1h-1zM0 13h1v1h-1zM2 14h1v1h-1zM11 14h1v1h-1zM21 15h1v1h-1zM28 15h1v1h-1zM53 15h1v1h-1zM16 16h1v1h-1zM55 16h1v1h-1zM0 17h1v1h-1zM4 17h1v1h-1zM10 17h1v1h-1zM23 17h1v1h-1zM28 17h1v1h-1zM8 18h1v1h-1zM12 18h1v1h-1zM28 18h1v1h-1zM0 19h1v1h-1zM13 19h1v1h-1zM5 20h1v1h-1zM9 20h1v1h-1zM20 20h2v1h-2zM43 20h1v1h-1zM11 23h1v1h-1zM42 25h1v1h-1zM22 26h1v1h-1zM36 26h1v1h-1zM50 27h1v1h-1zM62 28h1v1h-1zM65 28h1v1h-1zM42 29h1v1h-1zM53 29h1v1h-1zM63 30h1v1h-1zM72 30h1v1h-1zM36 32h1v1h-1zM54 32h2v1h-2zM59 32h1v1h-1zM61 32h1v1h-1zM66 32h1v1h-1zM66 33h2v1h-2zM69 33h1v1h-1zM57 34h1v1h-1zM63 35h2v1h-2zM67 35h1v1h-1zM71 35h2v1h-2zM31 36h1v1h-1zM39 36h1v1h-1zM35 37h1v1h-1zM63 37h1v1h-1zM65 37h2v1h-2zM68 37h2v1h-2zM32 38h1v1h-1zM47 38h1v1h-1zM34 40h1v1h-1zM46 40h1v1h-1zM66 40h1v1h-1zM57 42h1v1h-1zM70 42h1v1h-1zM34 43h1v1h-1zM42 43h1v1h-1zM34 44h1v1h-1zM54 44h1v1h-1zM57 44h1v1h-1zM59 44h1v1h-1zM61 44h1v1h-1zM66 44h1v1h-1zM70 44h1v1h-1zM30 45h1v1h-1zM62 45h1v1h-1zM53 47h1v1h-1zM30 48h1v1h-1zM32 48h1v1h-1zM30 51h1v1h-1zM44 51h1v1h-1zM59 52h1v1h-1zM61 52h1v1h-1zM34 54h1v1h-1zM37 54h1v1h-1zM30 56h1v1h-1zM46 57h1v1h-1zM35 58h1v1h-1zM51 58h1v1h-1zM33 59h1v1h-1zM39 61h1v1h-1zM39 64h1v1h-1zM71 64h2v1h-2zM74 64h1v1h-1zM46 65h1v1h-1zM6 70h1v1h-1zM14 71h1v1h-1zM18 71h1v1h-1zM9 72h1v1h-1zM28 72h1v1h-1zM0 73h1v1h-1zM2 73h1v1h-1zM11 73h1v1h-1zM18 73h1v1h-1zM27 73h1v1h-1zM0 75h1v1h-1zM16 75h1v1h-1zM21 75h1v1h-1zM23 75h1v1h-1zM49 75h1v1h-1zM15 78h1v1h-1zM24 78h1v1h-1zM18 79h2v1h-2zM22 79h1v1h-1zM29 79h2v1h-2zM56 79h1v1h-1zM20 80h1v1h-1zM22 80h1v1h-1zM29 80h1v1h-1zM2 81h1v1h-1zM6 81h1v1h-1zM23 81h2v1h-2zM27 81h1v1h-1zM35 81h1v1h-1zM23 84h1v1h-1zM49 84h1v1h-1zM9 85h1v1h-1zM53 85h1v1h-1zM30 86h1v1h-1zM43 86h1v1h-1zM53 86h1v1h-1zM19 87h1v1h-1zM32 89h1v1h-1zM32 91h1v1h-1zM35 91h1v1h-1zM39 91h1v1h-1zM46 92h1v1h-1zM49 92h1v1h-1zM46 93h1v1h-1zM44 94h1v1h-1zM61 94h1v1h-1zM39 95h1v1h-1zM50 95h1v1h-1zM14 98h1v1h-1zM29 98h1v1h-1zM18 99h1v1h-1zM18 102h1v1h-1zM14 105h1v1h-1zM27 105h1v1h-1zM29 105h1v1h-1zM32 106h1v1h-1zM33 110h1v1h-1zM11 117h1v1h-1zM48 117h1v1h-1zM39 118h1v1h-1zM60 118h1v1h-1zM64 118h1v1h-1zM66 118h1v1h-1zM71 118h1v1h-1zM45 120h1v1h-1zM22 122h1v1h-1zM5 123h1v1h-1zM12 123h1v1h-1zM17 124h1v1h-1zM0 125h1v1h-1zM5 125h1v1h-1zM11 125h1v1h-1zM13 125h1v1h-1zM19 125h1v1h-1zM12 126h1v1h-1zM19 126h1v1h-1zM2 127h1v1h-1zM4 127h1v1h-1zM9 127h1v1h-1zM13 127h1v1h-1zM20 127h1v1h-1zM12 128h1v1h-1zM21 129h1v1h-1zM30 129h1v1h-1zM4 132h1v1h-1zM51 132h1v1h-1zM30 134h1v1h-1zM44 136h1v1h-1zM48 137h1v1h-1zM63 137h1v1h-1zM67 137h1v1h-1zM41 138h1v1h-1zM32 139h1v1h-1zM34 139h1v1h-1zM44 140h1v1h-1zM62 142h1v1h-1zM56 143h1v1h-1zM12 146h1v1h-1zM30 146h1v1h-1zM10 149h1v1h-1zM19 149h1v1h-1z"/><path fill="#c04854" d="M25 4h1v1h-1zM22 11h1v1h-1zM1 23h1v1h-1zM59 28h1v1h-1zM32 30h1v1h-1zM36 33h1v1h-1zM42 33h1v1h-1zM58 34h1v1h-1zM68 34h1v1h-1zM74 42h1v1h-1zM12 44h1v1h-1zM64 44h1v1h-1zM72 44h1v1h-1zM36 50h1v1h-1zM50 57h1v1h-1zM41 63h1v1h-1zM62 63h1v1h-1zM56 64h1v1h-1zM32 68h1v1h-1zM2 72h1v1h-1zM18 74h1v1h-1zM28 74h1v1h-1zM44 74h1v1h-1zM26 75h1v1h-1zM47 78h1v1h-1zM9 80h1v1h-1zM28 81h1v1h-1zM32 92h1v1h-1zM9 102h1v1h-1zM12 103h1v1h-1zM4 104h2v1h-2zM32 137h1v1h-1zM44 137h1v1h-1zM37 141h1v1h-1z"/><path fill="#c05454" d="M5 0h1v1h-1zM5 1h1v1h-1zM0 2h1v1h-1zM7 2h1v1h-1zM9 2h1v1h-1zM23 2h1v1h-1zM27 2h1v1h-1zM12 3h1v1h-1zM24 4h1v1h-1zM6 5h1v1h-1zM12 5h1v1h-1zM35 5h1v1h-1zM39 5h1v1h-1zM23 6h1v1h-1zM27 8h1v1h-1zM46 8h1v1h-1zM9 9h2v1h-2zM14 9h1v1h-1zM23 9h1v1h-1zM43 10h1v1h-1zM0 11h1v1h-1zM13 11h1v1h-1zM14 12h1v1h-1zM19 12h1v1h-1zM45 12h1v1h-1zM13 13h1v1h-1zM6 14h1v1h-1zM14 14h1v1h-1zM23 14h1v1h-1zM22 16h1v1h-1zM29 16h1v1h-1zM5 17h2v1h-2zM27 17h1v1h-1zM5 18h1v1h-1zM17 18h1v1h-1zM23 18h2v1h-2zM32 18h1v1h-1zM55 18h1v1h-1zM2 20h1v1h-1zM19 20h1v1h-1zM50 20h1v1h-1zM1 21h1v1h-1zM12 23h1v1h-1zM1 25h1v1h-1zM18 25h1v1h-1zM28 25h1v1h-1zM33 25h1v1h-1zM49 25h1v1h-1zM40 26h1v1h-1zM44 27h1v1h-1zM61 28h1v1h-1zM37 29h1v1h-1zM40 29h1v1h-1zM55 29h1v1h-1zM51 30h1v1h-1zM38 31h1v1h-1zM41 31h1v1h-1zM30 32h1v1h-1zM35 32h1v1h-1zM67 32h2v1h-2zM74 32h1v1h-1zM56 33h1v1h-1zM62 33h1v1h-1zM64 33h2v1h-2zM36 34h1v1h-1zM38 34h1v1h-1zM41 34h1v1h-1zM60 34h1v1h-1zM62 34h1v1h-1zM66 34h1v1h-1zM71 34h1v1h-1zM74 34h1v1h-1zM57 35h1v1h-1zM59 35h1v1h-1zM65 35h1v1h-1zM74 35h1v1h-1zM52 36h2v1h-2zM56 36h1v1h-1zM74 37h1v1h-1zM41 38h1v1h-1zM49 38h1v1h-1zM50 39h2v1h-2zM44 40h1v1h-1zM33 41h1v1h-1zM44 41h1v1h-1zM48 41h1v1h-1zM59 41h1v1h-1zM61 41h2v1h-2zM35 42h1v1h-1zM39 42h1v1h-1zM65 42h2v1h-2zM62 43h1v1h-1zM4 44h1v1h-1zM35 44h1v1h-1zM71 44h1v1h-1zM40 45h1v1h-1zM42 45h1v1h-1zM44 46h1v1h-1zM47 46h1v1h-1zM39 47h1v1h-1zM56 47h1v1h-1zM35 48h1v1h-1zM47 48h1v1h-1zM30 49h1v1h-1zM40 49h1v1h-1zM34 51h1v1h-1zM65 52h1v1h-1zM72 52h2v1h-2zM57 54h1v1h-1zM61 54h2v1h-2zM32 55h1v1h-1zM59 56h1v1h-1zM63 56h1v1h-1zM32 57h1v1h-1zM32 58h1v1h-1zM42 59h1v1h-1zM31 60h1v1h-1zM61 63h1v1h-1zM64 63h1v1h-1zM69 63h2v1h-2zM59 64h1v1h-1zM65 64h1v1h-1zM70 64h1v1h-1zM47 65h1v1h-1zM30 67h1v1h-1zM44 67h1v1h-1zM52 67h1v1h-1zM46 68h1v1h-1zM29 71h1v1h-1zM1 72h1v1h-1zM25 72h1v1h-1zM7 74h1v1h-1zM11 74h1v1h-1zM16 74h1v1h-1zM14 75h1v1h-1zM19 75h1v1h-1zM0 76h1v1h-1zM20 76h1v1h-1zM47 76h1v1h-1zM6 78h1v1h-1zM4 79h1v1h-1zM28 79h1v1h-1zM32 79h1v1h-1zM11 80h1v1h-1zM18 80h1v1h-1zM23 80h1v1h-1zM53 80h1v1h-1zM0 81h1v1h-1zM12 81h2v1h-2zM21 81h1v1h-1zM12 82h1v1h-1zM19 82h1v1h-1zM9 83h1v1h-1zM2 84h1v1h-1zM22 84h1v1h-1zM2 85h1v1h-1zM11 85h1v1h-1zM12 86h1v1h-1zM21 86h1v1h-1zM34 86h1v1h-1zM30 93h1v1h-1zM70 94h1v1h-1zM37 95h1v1h-1zM49 95h1v1h-1zM1 98h1v1h-1zM4 98h1v1h-1zM28 100h1v1h-1zM34 101h1v1h-1zM10 103h1v1h-1zM17 103h2v1h-2zM30 103h1v1h-1zM38 108h1v1h-1zM41 108h1v1h-1zM30 110h1v1h-1zM32 113h1v1h-1zM40 113h1v1h-1zM46 113h1v1h-1zM47 114h1v1h-1zM55 114h1v1h-1zM39 115h1v1h-1zM47 117h1v1h-1zM53 118h1v1h-1zM57 118h1v1h-1zM65 118h1v1h-1zM35 120h1v1h-1zM42 120h1v1h-1zM61 120h2v1h-2zM11 123h1v1h-1zM17 123h2v1h-2zM23 123h1v1h-1zM12 124h1v1h-1zM24 125h1v1h-1zM18 126h1v1h-1zM23 128h1v1h-1zM27 128h1v1h-1zM46 128h1v1h-1zM4 129h1v1h-1zM18 131h1v1h-1zM1 132h1v1h-1zM35 132h1v1h-1zM39 136h1v1h-1zM50 136h1v1h-1zM61 136h1v1h-1zM55 137h1v1h-1zM61 137h1v1h-1zM72 137h1v1h-1zM39 138h1v1h-1zM59 138h1v1h-1zM62 138h2v1h-2zM24 139h1v1h-1zM39 139h1v1h-1zM4 143h1v1h-1zM18 143h1v1h-1zM12 144h1v1h-1zM32 146h1v1h-1zM37 146h1v1h-1zM18 148h1v1h-1zM32 148h1v1h-1zM53 148h1v1h-1zM12 149h1v1h-1zM31 149h1v1h-1z"/><path fill="#c05460" d="M0 3h1v1h-1zM25 3h1v1h-1zM5 4h1v1h-1zM5 8h1v1h-1zM9 10h1v1h-1zM9 11h1v1h-1zM6 13h1v1h-1zM18 20h1v1h-1zM46 27h1v1h-1zM55 28h1v1h-1zM70 29h1v1h-1zM44 31h1v1h-1zM23 32h1v1h-1zM73 34h1v1h-1zM62 35h1v1h-1zM34 39h1v1h-1zM56 41h1v1h-1zM32 42h1v1h-1zM62 48h1v1h-1zM53 50h1v1h-1zM54 51h1v1h-1zM74 52h1v1h-1zM34 53h1v1h-1zM65 54h1v1h-1zM49 63h1v1h-1zM65 63h1v1h-1zM64 64h1v1h-1zM68 64h2v1h-2zM73 64h1v1h-1zM37 65h1v1h-1zM33 67h1v1h-1zM35 71h1v1h-1zM6 74h1v1h-1zM20 75h1v1h-1zM13 76h1v1h-1zM2 79h1v1h-1zM10 79h1v1h-1zM43 95h1v1h-1zM11 102h1v1h-1zM14 103h1v1h-1zM27 103h1v1h-1zM55 105h1v1h-1zM23 108h1v1h-1zM30 108h1v1h-1zM59 116h1v1h-1zM34 121h1v1h-1zM0 123h1v1h-1zM11 124h1v1h-1zM23 125h1v1h-1zM24 127h1v1h-1zM18 132h1v1h-1zM38 134h1v1h-1zM35 135h1v1h-1zM64 137h1v1h-1zM70 137h1v1h-1zM43 138h1v1h-1zM65 138h1v1h-1zM70 142h1v1h-1zM28 145h1v1h-1z"/><path fill="#c06060" d="M43 0h1v1h-1zM6 1h1v1h-1zM13 1h1v1h-1zM20 2h1v1h-1zM22 2h1v1h-1zM26 3h2v1h-2zM44 4h1v1h-1zM27 5h1v1h-1zM24 6h1v1h-1zM29 6h1v1h-1zM14 7h1v1h-1zM24 7h1v1h-1zM46 7h1v1h-1zM24 8h1v1h-1zM42 8h1v1h-1zM8 9h1v1h-1zM44 9h1v1h-1zM49 10h1v1h-1zM53 10h1v1h-1zM1 11h1v1h-1zM18 11h1v1h-1zM33 11h1v1h-1zM12 13h1v1h-1zM14 13h1v1h-1zM19 13h1v1h-1zM1 14h1v1h-1zM12 14h1v1h-1zM17 14h1v1h-1zM11 15h1v1h-1zM13 16h1v1h-1zM24 16h1v1h-1zM13 17h1v1h-1zM18 17h1v1h-1zM0 18h1v1h-1zM7 18h1v1h-1zM15 18h1v1h-1zM22 18h1v1h-1zM7 19h1v1h-1zM14 19h1v1h-1zM18 21h2v1h-2zM46 21h1v1h-1zM5 22h1v1h-1zM19 23h1v1h-1zM32 24h1v1h-1zM11 25h1v1h-1zM46 25h1v1h-1zM38 26h1v1h-1zM46 26h1v1h-1zM53 26h1v1h-1zM59 27h1v1h-1zM39 28h1v1h-1zM63 28h2v1h-2zM72 28h1v1h-1zM30 29h1v1h-1zM62 30h1v1h-1zM36 31h1v1h-1zM33 32h1v1h-1zM70 32h1v1h-1zM72 32h1v1h-1zM44 33h1v1h-1zM63 33h1v1h-1zM70 33h2v1h-2zM33 35h1v1h-1zM66 35h1v1h-1zM69 35h1v1h-1zM41 36h1v1h-1zM46 36h1v1h-1zM32 37h1v1h-1zM34 37h1v1h-1zM39 37h1v1h-1zM56 37h2v1h-2zM31 38h1v1h-1zM39 38h1v1h-1zM33 39h1v1h-1zM15 41h1v1h-1zM50 41h1v1h-1zM63 41h1v1h-1zM43 43h1v1h-1zM46 43h1v1h-1zM61 43h1v1h-1zM64 45h1v1h-1zM33 46h1v1h-1zM46 46h1v1h-1zM55 47h1v1h-1zM50 48h1v1h-1zM63 48h1v1h-1zM31 50h1v1h-1zM44 50h1v1h-1zM55 50h1v1h-1zM39 51h1v1h-1zM42 52h1v1h-1zM45 52h1v1h-1zM57 52h1v1h-1zM60 52h1v1h-1zM67 52h2v1h-2zM32 53h1v1h-1zM36 54h1v1h-1zM39 54h1v1h-1zM63 54h1v1h-1zM18 56h1v1h-1zM37 56h1v1h-1zM40 56h1v1h-1zM64 56h1v1h-1zM70 56h1v1h-1zM51 57h1v1h-1zM70 59h1v1h-1zM70 60h1v1h-1zM31 61h1v1h-1zM41 62h1v1h-1zM44 62h1v1h-1zM46 63h1v1h-1zM57 63h1v1h-1zM63 63h1v1h-1zM66 63h1v1h-1zM67 64h1v1h-1zM37 67h1v1h-1zM15 70h1v1h-1zM18 70h1v1h-1zM27 70h1v1h-1zM1 71h1v1h-1zM11 71h1v1h-1zM43 71h1v1h-1zM20 72h1v1h-1zM26 73h1v1h-1zM25 74h1v1h-1zM17 75h1v1h-1zM29 75h1v1h-1zM37 75h1v1h-1zM2 76h1v1h-1zM7 76h1v1h-1zM2 77h1v1h-1zM3 78h1v1h-1zM18 78h1v1h-1zM20 78h1v1h-1zM53 78h1v1h-1zM9 79h1v1h-1zM4 80h1v1h-1zM16 81h1v1h-1zM9 82h1v1h-1zM5 84h1v1h-1zM47 84h1v1h-1zM13 85h1v1h-1zM31 86h1v1h-1zM38 86h1v1h-1zM33 89h1v1h-1zM36 90h1v1h-1zM31 91h1v1h-1zM61 91h1v1h-1zM41 92h1v1h-1zM42 93h1v1h-1zM52 93h1v1h-1zM33 95h1v1h-1zM24 97h1v1h-1zM25 98h1v1h-1zM20 100h1v1h-1zM51 101h1v1h-1zM2 102h1v1h-1zM28 102h1v1h-1zM45 102h1v1h-1zM4 103h1v1h-1zM18 105h1v1h-1zM41 106h1v1h-1zM0 107h1v1h-1zM17 108h1v1h-1zM37 108h1v1h-1zM32 109h1v1h-1zM32 110h1v1h-1zM38 111h2v1h-2zM44 112h2v1h-2zM30 113h1v1h-1zM44 114h1v1h-1zM65 116h1v1h-1zM42 119h1v1h-1zM62 119h1v1h-1zM64 119h1v1h-1zM65 120h1v1h-1zM48 121h1v1h-1zM44 124h1v1h-1zM20 125h1v1h-1zM27 127h1v1h-1zM2 128h1v1h-1zM44 131h1v1h-1zM28 134h1v1h-1zM24 135h1v1h-1zM53 135h1v1h-1zM59 136h1v1h-1zM39 137h1v1h-1zM47 138h1v1h-1zM64 138h1v1h-1zM47 139h1v1h-1zM34 141h1v1h-1zM20 142h1v1h-1zM39 142h1v1h-1zM22 143h1v1h-1zM51 144h1v1h-1zM18 146h1v1h-1z"/><path fill="#c0606c" d="M3 0h1v1h-1zM29 0h1v1h-1zM46 1h1v1h-1zM11 2h1v1h-1zM15 3h1v1h-1zM21 3h1v1h-1zM9 4h1v1h-1zM13 4h1v1h-1zM47 4h1v1h-1zM44 5h1v1h-1zM4 6h1v1h-1zM20 6h1v1h-1zM10 7h1v1h-1zM15 7h1v1h-1zM25 7h1v1h-1zM19 8h1v1h-1zM25 8h1v1h-1zM3 15h1v1h-1zM27 15h1v1h-1zM0 16h1v1h-1zM5 19h1v1h-1zM56 22h1v1h-1zM30 23h1v1h-1zM41 26h1v1h-1zM34 27h1v1h-1zM70 28h1v1h-1zM45 29h1v1h-1zM48 29h1v1h-1zM51 29h1v1h-1zM62 29h3v1h-3zM67 29h1v1h-1zM61 30h1v1h-1zM53 31h1v1h-1zM57 32h1v1h-1zM68 33h1v1h-1zM74 33h1v1h-1zM37 34h1v1h-1zM34 35h1v1h-1zM44 35h1v1h-1zM61 35h1v1h-1zM68 35h1v1h-1zM62 36h1v1h-1zM49 37h1v1h-1zM73 37h1v1h-1zM61 39h1v1h-1zM45 41h1v1h-1zM45 42h1v1h-1zM50 42h1v1h-1zM35 43h1v1h-1zM38 44h1v1h-1zM46 44h1v1h-1zM49 45h1v1h-1zM13 48h1v1h-1zM10 49h1v1h-1zM41 49h1v1h-1zM37 50h1v1h-1zM33 51h1v1h-1zM69 52h1v1h-1zM22 54h1v1h-1zM64 54h1v1h-1zM49 55h1v1h-1zM36 56h1v1h-1zM61 56h1v1h-1zM53 57h1v1h-1zM59 58h1v1h-1zM62 58h2v1h-2zM43 60h1v1h-1zM71 63h1v1h-1zM44 68h1v1h-1zM11 69h1v1h-1zM28 70h1v1h-1zM2 71h1v1h-1zM47 71h1v1h-1zM19 72h1v1h-1zM1 74h1v1h-1zM1 75h1v1h-1zM28 76h1v1h-1zM12 77h1v1h-1zM32 77h1v1h-1zM44 78h1v1h-1zM50 78h1v1h-1zM3 79h1v1h-1zM8 79h1v1h-1zM54 83h1v1h-1zM4 85h1v1h-1zM32 86h1v1h-1zM42 86h1v1h-1zM24 88h1v1h-1zM29 89h1v1h-1zM59 92h1v1h-1zM62 92h1v1h-1zM33 93h1v1h-1zM32 95h1v1h-1zM23 99h1v1h-1zM5 100h1v1h-1zM6 102h1v1h-1zM1 103h1v1h-1zM13 104h1v1h-1zM17 104h1v1h-1zM19 104h1v1h-1zM35 106h1v1h-1zM18 107h1v1h-1zM62 113h1v1h-1zM30 115h1v1h-1zM59 115h1v1h-1zM66 116h1v1h-1zM70 116h1v1h-1zM44 117h1v1h-1zM62 117h1v1h-1zM68 118h1v1h-1zM59 119h1v1h-1zM57 120h1v1h-1zM59 120h1v1h-1zM63 120h2v1h-2zM67 120h1v1h-1zM69 120h3v1h-3zM73 120h2v1h-2zM12 121h1v1h-1zM28 123h1v1h-1zM15 124h1v1h-1zM30 124h1v1h-1zM47 124h1v1h-1zM53 124h1v1h-1zM56 124h1v1h-1zM14 127h1v1h-1zM0 131h1v1h-1zM49 132h1v1h-1zM62 136h1v1h-1zM67 136h1v1h-1zM34 137h1v1h-1zM37 137h1v1h-1zM62 137h1v1h-1zM66 137h1v1h-1zM73 137h1v1h-1zM60 138h1v1h-1zM68 138h2v1h-2zM73 138h1v1h-1zM55 139h1v1h-1zM40 142h1v1h-1zM44 142h1v1h-1zM61 142h1v1h-1zM65 142h2v1h-2zM30 143h1v1h-1zM21 145h1v1h-1zM21 148h1v1h-1zM18 149h1v1h-1z"/><path fill="#c06c6c" d="M11 0h1v1h-1zM5 2h1v1h-1zM46 5h1v1h-1zM8 6h1v1h-1zM26 6h2v1h-2zM17 7h1v1h-1zM23 7h1v1h-1zM4 8h1v1h-1zM11 8h1v1h-1zM20 8h2v1h-2zM53 8h1v1h-1zM12 10h1v1h-1zM26 10h1v1h-1zM1 12h1v1h-1zM28 12h1v1h-1zM9 13h1v1h-1zM22 13h1v1h-1zM29 13h1v1h-1zM18 14h1v1h-1zM26 15h1v1h-1zM4 16h1v1h-1zM7 16h2v1h-2zM14 16h1v1h-1zM27 16h1v1h-1zM30 16h1v1h-1zM15 17h1v1h-1zM20 17h1v1h-1zM3 18h1v1h-1zM16 18h1v1h-1zM12 19h1v1h-1zM26 23h1v1h-1zM52 25h1v1h-1zM3 26h1v1h-1zM47 27h1v1h-1zM47 29h1v1h-1zM47 31h1v1h-1zM39 32h1v1h-1zM63 32h1v1h-1zM39 34h1v1h-1zM52 34h1v1h-1zM55 34h1v1h-1zM64 34h1v1h-1zM39 35h1v1h-1zM41 35h1v1h-1zM32 36h1v1h-1zM37 36h1v1h-1zM31 40h1v1h-1zM37 41h1v1h-1zM43 41h1v1h-1zM43 42h1v1h-1zM51 42h1v1h-1zM71 42h2v1h-2zM32 43h1v1h-1zM51 43h1v1h-1zM63 43h1v1h-1zM66 43h1v1h-1zM69 43h1v1h-1zM30 44h1v1h-1zM58 44h1v1h-1zM69 44h1v1h-1zM53 45h1v1h-1zM66 45h1v1h-1zM34 48h1v1h-1zM42 48h1v1h-1zM44 48h1v1h-1zM49 48h1v1h-1zM71 50h1v1h-1zM71 52h1v1h-1zM6 54h1v1h-1zM70 54h2v1h-2zM57 56h1v1h-1zM65 56h1v1h-1zM30 57h1v1h-1zM36 57h1v1h-1zM44 57h1v1h-1zM36 58h1v1h-1zM44 59h1v1h-1zM37 62h1v1h-1zM45 62h1v1h-1zM59 63h1v1h-1zM74 63h1v1h-1zM30 66h1v1h-1zM21 70h1v1h-1zM45 70h1v1h-1zM9 71h1v1h-1zM51 71h1v1h-1zM43 75h1v1h-1zM9 76h1v1h-1zM4 77h1v1h-1zM0 79h1v1h-1zM6 79h1v1h-1zM35 79h1v1h-1zM39 79h1v1h-1zM47 79h1v1h-1zM50 79h1v1h-1zM5 80h1v1h-1zM10 80h1v1h-1zM16 80h1v1h-1zM19 80h1v1h-1zM44 80h1v1h-1zM27 84h1v1h-1zM56 85h1v1h-1zM29 86h1v1h-1zM12 87h1v1h-1zM51 87h1v1h-1zM59 90h1v1h-1zM70 90h1v1h-1zM33 91h1v1h-1zM49 91h1v1h-1zM64 91h2v1h-2zM70 91h1v1h-1zM39 92h1v1h-1zM52 92h1v1h-1zM65 92h1v1h-1zM42 94h1v1h-1zM53 94h1v1h-1zM47 95h1v1h-1zM63 95h1v1h-1zM30 96h1v1h-1zM9 97h1v1h-1zM25 97h1v1h-1zM46 97h1v1h-1zM28 98h1v1h-1zM29 102h1v1h-1zM11 103h1v1h-1zM23 103h1v1h-1zM37 103h1v1h-1zM17 106h1v1h-1zM30 106h1v1h-1zM11 108h1v1h-1zM56 109h1v1h-1zM41 112h1v1h-1zM9 113h1v1h-1zM33 113h1v1h-1zM52 115h1v1h-1zM62 115h1v1h-1zM30 116h1v1h-1zM31 120h1v1h-1zM66 120h1v1h-1zM42 124h1v1h-1zM1 125h1v1h-1zM15 125h1v1h-1zM15 127h1v1h-1zM21 127h1v1h-1zM44 128h1v1h-1zM20 132h1v1h-1zM53 132h1v1h-1zM6 134h1v1h-1zM40 136h1v1h-1zM49 137h1v1h-1zM53 137h1v1h-1zM59 137h1v1h-1zM69 137h1v1h-1zM71 137h1v1h-1zM1 138h1v1h-1zM12 138h1v1h-1zM66 138h1v1h-1zM30 142h1v1h-1zM35 142h1v1h-1zM59 142h1v1h-1zM68 142h1v1h-1zM73 142h1v1h-1zM24 143h1v1h-1zM65 143h1v1h-1zM5 144h1v1h-1zM24 149h1v1h-1z"/><path fill="#c06c78" d="M6 4h1v1h-1zM16 4h1v1h-1zM12 7h1v1h-1zM71 28h1v1h-1zM66 29h1v1h-1zM64 30h1v1h-1zM37 32h1v1h-1zM50 35h1v1h-1zM36 41h1v1h-1zM46 45h1v1h-1zM72 54h1v1h-1zM74 59h1v1h-1zM62 60h1v1h-1zM34 66h1v1h-1zM23 73h1v1h-1zM29 76h1v1h-1zM18 88h1v1h-1zM72 92h1v1h-1zM15 97h1v1h-1zM52 101h1v1h-1zM22 102h1v1h-1zM44 107h1v1h-1zM35 113h1v1h-1zM10 131h1v1h-1zM50 137h1v1h-1zM65 137h1v1h-1zM63 142h1v1h-1zM47 144h1v1h-1zM33 149h1v1h-1z"/><path fill="#c06c84" d="M74 56h1v1h-1zM18 58h1v1h-1zM23 76h1v1h-1zM34 109h1v1h-1zM63 115h1v1h-1zM38 130h1v1h-1z"/><path fill="#c07878" d="M61 95h1v1h-1zM56 108h1v1h-1zM24 126h1v1h-1zM72 142h1v1h-1z"/><path fill="#c07884" d="M10 3h1v1h-1zM59 4h1v1h-1zM42 9h1v1h-1zM55 10h1v1h-1zM49 12h1v1h-1zM16 13h1v1h-1zM65 24h1v1h-1zM66 28h1v1h-1zM68 28h2v1h-2zM33 29h1v1h-1zM53 34h1v1h-1zM45 35h1v1h-1zM51 35h1v1h-1zM34 36h1v1h-1zM70 38h1v1h-1zM33 40h1v1h-1zM32 41h1v1h-1zM38 41h1v1h-1zM40 41h1v1h-1zM70 41h1v1h-1zM67 50h1v1h-1zM60 54h1v1h-1zM63 60h1v1h-1zM47 64h1v1h-1zM32 65h1v1h-1zM4 69h1v1h-1zM36 70h1v1h-1zM32 71h1v1h-1zM6 73h1v1h-1zM24 73h1v1h-1zM21 74h1v1h-1zM27 75h1v1h-1zM27 80h1v1h-1zM7 81h1v1h-1zM47 85h1v1h-1zM65 90h1v1h-1zM59 91h1v1h-1zM43 92h1v1h-1zM56 94h1v1h-1zM60 94h1v1h-1zM42 98h1v1h-1zM49 98h1v1h-1zM39 110h1v1h-1zM61 127h1v1h-1zM21 128h1v1h-1zM30 135h1v1h-1zM53 136h1v1h-1zM51 137h1v1h-1zM35 145h1v1h-1z"/><path fill="#c07890" d="M58 28h1v1h-1zM69 29h1v1h-1zM58 30h1v1h-1zM48 34h1v1h-1zM66 59h1v1h-1zM12 62h1v1h-1zM33 66h1v1h-1zM17 69h1v1h-1zM29 70h1v1h-1zM3 73h1v1h-1zM45 76h1v1h-1zM30 78h1v1h-1zM55 80h1v1h-1zM18 89h1v1h-1zM59 93h1v1h-1zM40 95h1v1h-1zM66 98h1v1h-1zM25 103h1v1h-1zM74 115h1v1h-1zM24 128h1v1h-1zM32 133h1v1h-1zM32 135h1v1h-1zM73 136h1v1h-1zM57 137h1v1h-1zM12 142h1v1h-1zM58 142h1v1h-1zM21 149h1v1h-1zM28 149h1v1h-1z"/><path fill="#c08484" d="M73 44h1v1h-1z"/><path fill="#c08490" d="M30 0h1v1h-1zM11 3h1v1h-1zM55 11h1v1h-1zM59 13h1v1h-1zM72 13h1v1h-1zM25 14h1v1h-1zM47 14h1v1h-1zM0 22h1v1h-1zM32 22h1v1h-1zM70 24h1v1h-1zM68 29h1v1h-1zM72 29h1v1h-1zM38 39h1v1h-1zM65 41h1v1h-1zM18 42h1v1h-1zM69 42h1v1h-1zM58 45h1v1h-1zM62 47h1v1h-1zM31 52h1v1h-1zM58 52h1v1h-1zM58 56h1v1h-1zM49 57h1v1h-1zM31 59h1v1h-1zM68 59h1v1h-1zM70 61h1v1h-1zM7 71h1v1h-1zM42 76h1v1h-1zM11 77h1v1h-1zM16 77h1v1h-1zM23 77h1v1h-1zM13 80h1v1h-1zM10 81h1v1h-1zM46 82h1v1h-1zM11 83h1v1h-1zM39 88h1v1h-1zM46 89h1v1h-1zM49 89h1v1h-1zM43 94h1v1h-1zM66 94h1v1h-1zM16 97h1v1h-1zM1 99h1v1h-1zM59 103h1v1h-1zM32 107h1v1h-1zM38 110h1v1h-1zM36 113h1v1h-1zM14 126h1v1h-1zM72 127h1v1h-1zM28 129h1v1h-1zM26 131h1v1h-1zM23 133h1v1h-1zM46 133h1v1h-1zM56 133h1v1h-1zM52 140h1v1h-1zM55 140h1v1h-1zM41 141h1v1h-1zM32 142h1v1h-1zM71 142h1v1h-1zM6 149h1v1h-1z"/><path fill="#c0849c" d="M1 4h1v1h-1zM19 4h1v1h-1zM63 4h1v1h-1zM69 4h1v1h-1zM36 6h1v1h-1zM47 12h1v1h-1zM64 13h1v1h-1zM19 16h1v1h-1zM29 17h1v1h-1zM39 18h1v1h-1zM34 22h1v1h-1zM56 23h1v1h-1zM61 24h1v1h-1zM38 29h1v1h-1zM31 30h1v1h-1zM57 30h1v1h-1zM38 32h1v1h-1zM13 44h1v1h-1zM37 44h1v1h-1zM47 44h1v1h-1zM66 50h1v1h-1zM40 54h1v1h-1zM68 56h1v1h-1zM33 61h1v1h-1zM62 62h1v1h-1zM47 68h1v1h-1zM26 69h1v1h-1zM36 71h1v1h-1zM23 72h1v1h-1zM3 76h1v1h-1zM56 77h1v1h-1zM12 83h1v1h-1zM18 83h1v1h-1zM7 85h1v1h-1zM44 85h1v1h-1zM9 86h1v1h-1zM30 90h1v1h-1zM57 90h1v1h-1zM52 91h1v1h-1zM48 92h1v1h-1zM49 94h1v1h-1zM67 94h1v1h-1zM57 95h1v1h-1zM72 98h1v1h-1zM24 99h1v1h-1zM42 99h1v1h-1zM4 100h1v1h-1zM0 103h1v1h-1zM47 103h1v1h-1zM14 104h1v1h-1zM22 105h1v1h-1zM44 105h1v1h-1zM18 108h1v1h-1zM70 111h1v1h-1zM72 111h1v1h-1zM35 114h1v1h-1zM9 116h1v1h-1zM29 116h1v1h-1zM50 117h1v1h-1zM61 117h1v1h-1zM64 117h1v1h-1zM14 121h1v1h-1zM52 123h1v1h-1zM42 125h1v1h-1zM62 127h1v1h-1zM62 133h2v1h-2zM42 135h1v1h-1zM66 136h1v1h-1zM18 137h1v1h-1zM74 137h1v1h-1zM27 142h1v1h-1zM60 142h1v1h-1zM9 149h1v1h-1z"/><path fill="#c084a8" d="M3 85h1v1h-1zM45 97h1v1h-1zM16 127h1v1h-1z"/><path fill="#c0909c" d="M13 3h1v1h-1zM64 4h1v1h-1zM45 6h1v1h-1zM14 22h1v1h-1zM61 27h1v1h-1zM72 27h1v1h-1zM13 31h1v1h-1zM54 48h1v1h-1zM57 50h1v1h-1zM58 60h1v1h-1zM65 60h1v1h-1zM62 61h1v1h-1zM31 66h1v1h-1zM7 68h1v1h-1zM52 68h1v1h-1zM22 73h1v1h-1zM55 76h1v1h-1zM33 83h1v1h-1zM24 87h1v1h-1zM68 90h1v1h-1zM64 93h1v1h-1zM6 96h1v1h-1zM11 99h2v1h-2zM24 104h1v1h-1zM36 108h1v1h-1zM59 111h1v1h-1zM62 111h1v1h-1zM74 111h1v1h-1zM68 119h1v1h-1zM18 135h1v1h-1zM57 136h1v1h-1zM23 144h1v1h-1z"/><path fill="#c090a8" d="M28 2h1v1h-1zM42 2h1v1h-1zM50 3h1v1h-1zM42 7h1v1h-1zM14 8h1v1h-1zM12 9h1v1h-1zM49 9h1v1h-1zM56 11h1v1h-1zM44 12h1v1h-1zM26 14h1v1h-1zM43 14h1v1h-1zM44 16h1v1h-1zM37 18h1v1h-1zM27 19h1v1h-1zM41 20h1v1h-1zM27 22h1v1h-1zM52 22h1v1h-1zM25 25h1v1h-1zM21 26h1v1h-1zM68 27h3v1h-3zM27 32h1v1h-1zM4 33h1v1h-1zM54 34h1v1h-1zM39 40h1v1h-1zM42 40h1v1h-1zM68 41h1v1h-1zM18 44h1v1h-1zM41 44h1v1h-1zM70 45h1v1h-1zM19 46h1v1h-1zM34 46h1v1h-1zM41 47h1v1h-1zM64 47h1v1h-1zM53 49h1v1h-1zM59 49h1v1h-1zM64 52h1v1h-1zM40 57h1v1h-1zM13 58h1v1h-1zM18 61h1v1h-1zM63 61h1v1h-1zM33 62h1v1h-1zM68 63h1v1h-1zM39 65h1v1h-1zM23 66h1v1h-1zM8 69h1v1h-1zM39 70h1v1h-1zM13 72h1v1h-1zM47 75h1v1h-1zM46 76h1v1h-1zM18 77h1v1h-1zM28 77h1v1h-1zM9 78h1v1h-1zM53 81h1v1h-1zM27 82h1v1h-1zM53 84h1v1h-1zM50 86h1v1h-1zM35 87h1v1h-1zM49 87h1v1h-1zM14 89h1v1h-1zM42 89h1v1h-1zM24 90h1v1h-1zM38 91h1v1h-1zM24 94h1v1h-1zM45 94h1v1h-1zM58 94h1v1h-1zM68 94h1v1h-1zM38 95h1v1h-1zM55 96h1v1h-1zM29 97h1v1h-1zM19 98h1v1h-1zM27 99h1v1h-1zM50 99h1v1h-1zM53 99h1v1h-1zM6 100h1v1h-1zM21 100h1v1h-1zM53 100h1v1h-1zM38 103h1v1h-1zM53 105h1v1h-1zM49 108h1v1h-1zM36 109h1v1h-1zM36 115h1v1h-1zM44 116h1v1h-1zM51 116h1v1h-1zM49 117h1v1h-1zM41 121h1v1h-1zM55 122h2v1h-2zM9 123h1v1h-1zM3 125h1v1h-1zM4 128h1v1h-1zM0 129h1v1h-1zM17 131h1v1h-1zM24 131h1v1h-1zM41 133h1v1h-1zM46 136h1v1h-1zM43 137h1v1h-1zM49 138h1v1h-1zM38 145h1v1h-1zM38 148h1v1h-1zM13 149h1v1h-1zM37 149h1v1h-1z"/><path fill="#c090b4" d="M37 1h1v1h-1zM39 1h1v1h-1zM15 2h1v1h-1zM39 13h1v1h-1zM49 13h1v1h-1zM4 15h1v1h-1zM29 22h1v1h-1zM19 38h1v1h-1zM36 38h1v1h-1zM65 49h1v1h-1zM18 62h1v1h-1zM16 72h1v1h-1zM44 72h1v1h-1zM41 80h1v1h-1zM6 87h1v1h-1zM28 95h1v1h-1zM45 105h1v1h-1zM41 107h1v1h-1zM27 108h1v1h-1zM51 115h1v1h-1zM39 143h1v1h-1z"/><path fill="#c09ca8" d="M30 14h1v1h-1zM56 31h1v1h-1zM55 42h1v1h-1zM42 55h1v1h-1zM32 66h1v1h-1zM43 76h1v1h-1zM13 134h1v1h-1z"/><path fill="#c09cb4" d="M53 1h1v1h-1zM29 3h1v1h-1zM49 3h1v1h-1zM74 4h1v1h-1zM54 9h1v1h-1zM0 10h1v1h-1zM46 11h1v1h-1zM4 19h1v1h-1zM47 19h1v1h-1zM53 21h1v1h-1zM3 23h1v1h-1zM55 23h1v1h-1zM5 24h1v1h-1zM45 26h1v1h-1zM26 28h1v1h-1zM49 28h1v1h-1zM49 31h2v1h-2zM35 33h1v1h-1zM31 34h1v1h-1zM1 36h1v1h-1zM12 36h1v1h-1zM33 38h1v1h-1zM47 39h1v1h-1zM53 39h1v1h-1zM39 43h1v1h-1zM55 44h1v1h-1zM61 47h1v1h-1zM50 50h1v1h-1zM74 50h1v1h-1zM38 52h1v1h-1zM43 52h1v1h-1zM53 52h1v1h-1zM56 53h1v1h-1zM8 55h1v1h-1zM37 55h1v1h-1zM46 56h1v1h-1zM14 58h1v1h-1zM47 58h1v1h-1zM19 59h1v1h-1zM56 60h1v1h-1zM5 62h1v1h-1zM61 62h1v1h-1zM65 62h1v1h-1zM13 63h1v1h-1zM35 64h1v1h-1zM43 64h1v1h-1zM45 65h1v1h-1zM24 66h1v1h-1zM54 66h1v1h-1zM48 67h1v1h-1zM23 71h2v1h-2zM12 73h1v1h-1zM38 73h1v1h-1zM4 75h1v1h-1zM0 77h1v1h-1zM6 77h1v1h-1zM50 77h1v1h-1zM35 80h1v1h-1zM43 80h1v1h-1zM49 80h1v1h-1zM31 81h1v1h-1zM55 81h1v1h-1zM14 83h1v1h-1zM37 83h1v1h-1zM15 85h1v1h-1zM3 87h1v1h-1zM17 87h1v1h-1zM44 87h1v1h-1zM46 87h1v1h-1zM20 88h1v1h-1zM34 88h1v1h-1zM45 92h1v1h-1zM41 93h1v1h-1zM69 98h1v1h-1zM4 99h1v1h-1zM15 100h1v1h-1zM8 101h1v1h-1zM22 101h1v1h-1zM20 102h1v1h-1zM61 103h1v1h-1zM6 104h1v1h-1zM30 104h1v1h-1zM45 107h1v1h-1zM55 108h1v1h-1zM46 109h1v1h-1zM31 110h1v1h-1zM42 111h1v1h-1zM12 112h1v1h-1zM18 113h1v1h-1zM32 114h1v1h-1zM41 114h1v1h-1zM56 117h1v1h-1zM47 118h1v1h-1zM41 119h1v1h-1zM1 122h1v1h-1zM41 128h1v1h-1zM37 129h1v1h-1zM41 129h1v1h-1zM56 130h1v1h-1zM34 131h1v1h-1zM52 131h1v1h-1zM45 136h1v1h-1zM56 136h1v1h-1zM51 138h1v1h-1zM4 139h1v1h-1zM12 140h1v1h-1zM24 142h1v1h-1zM19 144h1v1h-1z"/><path fill="#c09cc0" d="M5 3h1v1h-1zM22 4h1v1h-1zM36 11h1v1h-1zM0 12h1v1h-1zM49 19h1v1h-1zM72 22h1v1h-1zM40 27h1v1h-1zM18 32h1v1h-1zM9 33h1v1h-1zM52 33h1v1h-1zM67 41h1v1h-1zM8 50h1v1h-1zM44 53h1v1h-1zM18 54h1v1h-1zM42 54h1v1h-1zM52 54h1v1h-1zM12 55h1v1h-1zM31 57h1v1h-1zM36 61h1v1h-1zM40 61h1v1h-1zM64 71h1v1h-1zM26 72h1v1h-1zM16 73h1v1h-1zM37 73h1v1h-1zM49 76h1v1h-1zM40 77h1v1h-1zM38 79h1v1h-1zM54 80h1v1h-1zM30 81h1v1h-1zM23 82h1v1h-1zM38 82h1v1h-1zM62 88h1v1h-1zM50 93h1v1h-1zM73 94h1v1h-1zM36 95h1v1h-1zM26 97h1v1h-1zM33 98h1v1h-1zM52 98h1v1h-1zM16 100h1v1h-1zM39 100h1v1h-1zM51 102h1v1h-1zM59 110h1v1h-1zM34 111h1v1h-1zM33 112h1v1h-1zM70 123h1v1h-1zM2 126h1v1h-1zM15 126h1v1h-1zM23 126h1v1h-1zM46 127h1v1h-1zM15 129h2v1h-2zM28 130h1v1h-1zM2 131h1v1h-1zM43 131h1v1h-1zM55 131h1v1h-1zM12 132h1v1h-1zM33 134h1v1h-1zM28 136h1v1h-1zM40 140h1v1h-1zM17 143h1v1h-1zM41 147h1v1h-1zM30 149h1v1h-1z"/><path fill="#c0a8c0" d="M23 1h1v1h-1zM55 3h1v1h-1zM46 4h1v1h-1zM28 5h1v1h-1zM43 5h1v1h-1zM55 5h1v1h-1zM6 11h1v1h-1zM43 13h1v1h-1zM68 13h1v1h-1zM28 14h1v1h-1zM43 17h1v1h-1zM31 18h1v1h-1zM15 19h1v1h-1zM31 21h1v1h-1zM37 21h1v1h-1zM70 22h1v1h-1zM10 23h1v1h-1zM41 27h1v1h-1zM4 32h1v1h-1zM51 32h1v1h-1zM27 34h1v1h-1zM56 38h1v1h-1zM12 40h1v1h-1zM29 44h1v1h-1zM33 47h1v1h-1zM40 48h1v1h-1zM42 50h1v1h-1zM49 50h1v1h-1zM48 51h1v1h-1zM43 53h1v1h-1zM4 54h1v1h-1zM48 55h1v1h-1zM50 55h1v1h-1zM0 56h1v1h-1zM56 57h1v1h-1zM1 60h1v1h-1zM40 62h1v1h-1zM26 64h1v1h-1zM32 69h1v1h-1zM55 69h1v1h-1zM24 70h1v1h-1zM45 73h1v1h-1zM50 76h1v1h-1zM22 86h1v1h-1zM23 87h1v1h-1zM70 88h1v1h-1zM2 89h1v1h-1zM18 93h1v1h-1zM25 95h1v1h-1zM49 96h1v1h-1zM50 97h1v1h-1zM67 98h1v1h-1zM2 107h1v1h-1zM61 107h1v1h-1zM4 110h1v1h-1zM43 110h1v1h-1zM17 111h1v1h-1zM43 112h1v1h-1zM45 116h1v1h-1zM55 118h1v1h-1zM39 119h1v1h-1zM29 120h1v1h-1zM59 123h1v1h-1zM55 124h1v1h-1zM53 125h1v1h-1zM32 127h1v1h-1zM70 127h1v1h-1zM20 129h1v1h-1zM23 129h1v1h-1zM63 132h1v1h-1zM23 135h1v1h-1zM21 140h1v1h-1zM55 141h1v1h-1zM55 142h1v1h-1zM2 144h1v1h-1zM20 145h1v1h-1zM13 147h1v1h-1z"/><path fill="#c0a8cc" d="M20 1h1v1h-1zM40 5h1v1h-1zM51 5h1v1h-1zM21 6h1v1h-1zM39 8h1v1h-1zM43 9h1v1h-1zM20 10h1v1h-1zM32 10h1v1h-1zM39 11h1v1h-1zM16 12h1v1h-1zM34 12h1v1h-1zM16 17h1v1h-1zM51 17h1v1h-1zM33 18h1v1h-1zM13 21h1v1h-1zM23 21h1v1h-1zM42 22h1v1h-1zM9 24h1v1h-1zM56 27h1v1h-1zM8 28h1v1h-1zM41 28h2v1h-2zM8 31h1v1h-1zM52 32h1v1h-1zM30 35h1v1h-1zM45 36h1v1h-1zM4 37h1v1h-1zM10 40h1v1h-1zM22 40h1v1h-1zM8 41h1v1h-1zM13 41h1v1h-1zM66 41h1v1h-1zM71 41h1v1h-1zM38 43h1v1h-1zM10 44h1v1h-1zM26 44h1v1h-1zM45 44h1v1h-1zM27 45h1v1h-1zM35 45h1v1h-1zM31 48h1v1h-1zM54 50h1v1h-1zM49 51h1v1h-1zM8 53h1v1h-1zM13 54h1v1h-1zM24 54h1v1h-1zM43 54h1v1h-1zM55 54h2v1h-2zM44 58h1v1h-1zM25 59h1v1h-1zM53 59h1v1h-1zM52 60h1v1h-1zM15 61h1v1h-1zM17 64h1v1h-1zM24 64h1v1h-1zM46 64h1v1h-1zM51 65h1v1h-1zM39 67h1v1h-1zM8 68h1v1h-1zM13 69h1v1h-1zM34 69h1v1h-1zM19 70h1v1h-1zM16 71h1v1h-1zM41 72h1v1h-1zM46 73h1v1h-1zM38 76h1v1h-1zM38 77h1v1h-1zM49 79h1v1h-1zM33 81h1v1h-1zM29 82h1v1h-1zM36 83h1v1h-1zM1 88h1v1h-1zM8 88h1v1h-1zM8 90h1v1h-1zM50 92h1v1h-1zM41 97h1v1h-1zM64 98h2v1h-2zM68 98h1v1h-1zM37 100h1v1h-1zM33 105h1v1h-1zM51 106h1v1h-1zM50 108h1v1h-1zM35 109h1v1h-1zM55 110h1v1h-1zM49 112h1v1h-1zM52 114h1v1h-1zM54 115h1v1h-1zM19 117h1v1h-1zM42 117h1v1h-1zM34 119h1v1h-1zM50 119h1v1h-1zM10 127h1v1h-1zM17 128h1v1h-1zM22 129h1v1h-1zM11 132h1v1h-1zM40 132h1v1h-1zM65 132h1v1h-1zM21 134h1v1h-1zM53 134h1v1h-1zM22 136h1v1h-1zM33 139h1v1h-1zM19 141h1v1h-1zM38 141h1v1h-1zM36 143h1v1h-1zM13 145h1v1h-1zM48 145h1v1h-1zM19 146h1v1h-1zM42 146h1v1h-1zM44 147h1v1h-1zM15 148h1v1h-1z"/><path fill="#c0a8d8" d="M48 43h1v1h-1zM33 76h1v1h-1zM53 91h1v1h-1zM13 105h1v1h-1z"/><path fill="#c0b4cc" d="M34 0h1v1h-1zM49 2h1v1h-1zM34 9h1v1h-1zM11 12h1v1h-1zM1 13h1v1h-1zM44 15h1v1h-1zM32 17h1v1h-1zM47 25h1v1h-1zM23 33h1v1h-1zM49 40h1v1h-1zM49 42h1v1h-1zM73 42h1v1h-1zM38 49h1v1h-1zM21 51h1v1h-1zM1 61h1v1h-1zM31 69h1v1h-1zM50 71h1v1h-1zM24 83h1v1h-1zM7 86h1v1h-1zM55 86h1v1h-1zM8 95h1v1h-1zM8 96h1v1h-1zM10 98h1v1h-1zM15 98h1v1h-1zM45 101h1v1h-1zM39 103h1v1h-1zM41 103h1v1h-1zM26 105h1v1h-1zM2 106h1v1h-1zM48 106h1v1h-1zM10 116h1v1h-1zM56 123h1v1h-1zM65 123h1v1h-1zM34 130h1v1h-1zM32 132h1v1h-1zM73 132h1v1h-1zM50 134h1v1h-1zM11 143h1v1h-1zM4 148h1v1h-1z"/><path fill="#c0b4d8" d="M32 0h1v1h-1zM26 2h1v1h-1zM30 3h1v1h-1zM54 3h1v1h-1zM42 5h1v1h-1zM16 6h1v1h-1zM39 7h1v1h-1zM30 10h1v1h-1zM32 15h1v1h-1zM51 15h1v1h-1zM54 15h1v1h-1zM10 16h1v1h-1zM53 16h1v1h-1zM46 18h1v1h-1zM31 19h1v1h-1zM10 20h1v1h-1zM48 20h1v1h-1zM14 21h1v1h-1zM16 21h1v1h-1zM36 21h1v1h-1zM45 21h1v1h-1zM47 22h1v1h-1zM25 23h1v1h-1zM8 24h1v1h-1zM56 25h1v1h-1zM50 28h1v1h-1zM29 29h1v1h-1zM5 30h1v1h-1zM52 31h1v1h-1zM8 33h1v1h-1zM16 33h1v1h-1zM18 33h1v1h-1zM40 37h1v1h-1zM51 38h1v1h-1zM46 42h1v1h-1zM6 43h1v1h-1zM8 43h1v1h-1zM21 43h1v1h-1zM3 44h1v1h-1zM33 45h1v1h-1zM49 49h1v1h-1zM34 50h1v1h-1zM60 50h1v1h-1zM8 51h1v1h-1zM54 54h1v1h-1zM39 57h1v1h-1zM48 59h1v1h-1zM27 60h1v1h-1zM28 63h1v1h-1zM33 64h1v1h-1zM19 67h1v1h-1zM33 69h1v1h-1zM55 70h1v1h-1zM10 72h1v1h-1zM36 75h1v1h-1zM47 77h1v1h-1zM48 88h2v1h-2zM55 89h1v1h-1zM44 90h1v1h-1zM56 90h1v1h-1zM8 91h1v1h-1zM49 93h1v1h-1zM51 93h1v1h-1zM41 96h1v1h-1zM43 96h1v1h-1zM43 99h1v1h-1zM41 105h1v1h-1zM42 106h1v1h-1zM11 107h1v1h-1zM15 107h1v1h-1zM58 107h1v1h-1zM63 107h1v1h-1zM49 109h1v1h-1zM41 110h1v1h-1zM35 111h1v1h-1zM45 118h1v1h-1zM4 120h1v1h-1zM8 121h1v1h-1zM53 121h1v1h-1zM67 123h1v1h-1zM54 125h1v1h-1zM45 127h1v1h-1zM3 129h1v1h-1zM21 132h1v1h-1zM31 132h1v1h-1zM39 132h1v1h-1zM60 132h1v1h-1zM2 133h1v1h-1zM41 137h1v1h-1zM47 137h1v1h-1zM28 140h1v1h-1zM32 140h1v1h-1zM50 141h1v1h-1zM29 142h1v1h-1zM10 143h1v1h-1zM27 143h1v1h-1zM49 145h1v1h-1zM17 147h1v1h-1zM2 148h1v1h-1zM45 149h1v1h-1z"/><path fill="#cc6c78" d="M19 2h1v1h-1zM25 2h1v1h-1zM9 3h1v1h-1zM19 3h1v1h-1zM8 4h1v1h-1zM35 6h1v1h-1zM5 7h1v1h-1zM12 8h1v1h-1zM6 9h1v1h-1zM24 9h1v1h-1zM26 9h1v1h-1zM8 11h1v1h-1zM24 12h1v1h-1zM55 12h1v1h-1zM46 13h1v1h-1zM70 13h1v1h-1zM24 14h1v1h-1zM55 15h1v1h-1zM45 18h1v1h-1zM2 19h1v1h-1zM21 21h1v1h-1zM39 22h1v1h-1zM53 25h1v1h-1zM39 30h1v1h-1zM59 30h1v1h-1zM42 31h1v1h-1zM65 32h1v1h-1zM34 33h1v1h-1zM55 35h1v1h-1zM28 36h1v1h-1zM36 36h1v1h-1zM41 37h1v1h-1zM21 38h1v1h-1zM30 38h1v1h-1zM55 38h1v1h-1zM48 40h1v1h-1zM35 41h1v1h-1zM51 41h1v1h-1zM30 42h1v1h-1zM67 42h2v1h-2zM30 43h1v1h-1zM40 43h1v1h-1zM42 44h1v1h-1zM63 45h1v1h-1zM37 48h1v1h-1zM48 48h1v1h-1zM72 50h1v1h-1zM51 51h1v1h-1zM30 53h1v1h-1zM34 55h1v1h-1zM60 56h1v1h-1zM72 56h1v1h-1zM55 58h1v1h-1zM23 60h1v1h-1zM44 60h1v1h-1zM61 60h1v1h-1zM46 62h1v1h-1zM23 63h1v1h-1zM31 63h1v1h-1zM45 63h1v1h-1zM58 63h1v1h-1zM60 63h1v1h-1zM72 63h1v1h-1zM55 65h1v1h-1zM47 66h1v1h-1zM5 67h1v1h-1zM30 68h1v1h-1zM7 70h1v1h-1zM20 70h1v1h-1zM22 70h1v1h-1zM30 70h1v1h-1zM4 72h1v1h-1zM6 72h1v1h-1zM5 74h1v1h-1zM19 74h1v1h-1zM22 76h1v1h-1zM5 77h1v1h-1zM27 77h1v1h-1zM5 78h1v1h-1zM23 78h1v1h-1zM26 80h1v1h-1zM9 81h1v1h-1zM15 81h1v1h-1zM22 81h1v1h-1zM56 81h1v1h-1zM28 83h1v1h-1zM45 83h1v1h-1zM6 84h1v1h-1zM45 84h1v1h-1zM35 85h1v1h-1zM33 86h1v1h-1zM37 86h1v1h-1zM31 87h1v1h-1zM30 89h1v1h-1zM74 90h1v1h-1zM40 92h1v1h-1zM63 94h1v1h-1zM65 94h1v1h-1zM52 95h1v1h-1zM55 97h1v1h-1zM25 100h1v1h-1zM29 100h1v1h-1zM25 101h1v1h-1zM9 104h1v1h-1zM26 106h1v1h-1zM39 107h1v1h-1zM30 109h1v1h-1zM30 111h1v1h-1zM36 111h1v1h-1zM50 112h1v1h-1zM34 113h1v1h-1zM49 114h1v1h-1zM41 115h1v1h-1zM70 119h1v1h-1zM27 121h1v1h-1zM1 123h1v1h-1zM15 123h1v1h-1zM9 124h1v1h-1zM22 125h1v1h-1zM45 126h1v1h-1zM32 130h1v1h-1zM40 130h1v1h-1zM45 130h1v1h-1zM15 131h1v1h-1zM25 131h1v1h-1zM47 131h1v1h-1zM42 134h1v1h-1zM52 135h1v1h-1zM52 136h1v1h-1zM30 138h1v1h-1zM36 140h1v1h-1zM54 140h1v1h-1zM32 141h1v1h-1zM40 141h1v1h-1zM38 143h1v1h-1zM45 143h1v1h-1zM18 145h1v1h-1zM53 147h1v1h-1zM1 149h1v1h-1zM25 149h1v1h-1zM56 149h1v1h-1z"/><path fill="#cc7878" d="M55 1h1v1h-1zM22 3h1v1h-1zM47 3h1v1h-1zM2 4h1v1h-1zM15 5h1v1h-1zM9 6h1v1h-1zM22 6h1v1h-1zM24 10h1v1h-1zM30 12h1v1h-1zM3 14h1v1h-1zM13 14h1v1h-1zM23 15h1v1h-1zM56 15h1v1h-1zM4 18h1v1h-1zM9 19h1v1h-1zM24 19h1v1h-1zM3 20h1v1h-1zM12 20h1v1h-1zM55 20h1v1h-1zM44 21h1v1h-1zM35 22h1v1h-1zM62 24h1v1h-1zM39 25h1v1h-1zM13 26h1v1h-1zM32 26h1v1h-1zM35 27h1v1h-1zM38 28h1v1h-1zM37 30h1v1h-1zM71 30h1v1h-1zM21 31h1v1h-1zM35 31h1v1h-1zM42 32h1v1h-1zM37 33h1v1h-1zM40 33h1v1h-1zM53 33h1v1h-1zM57 33h1v1h-1zM38 35h1v1h-1zM37 38h1v1h-1zM40 38h1v1h-1zM42 38h1v1h-1zM30 39h1v1h-1zM40 39h2v1h-2zM46 41h1v1h-1zM60 43h1v1h-1zM64 43h1v1h-1zM60 44h1v1h-1zM74 44h1v1h-1zM44 45h1v1h-1zM61 45h1v1h-1zM30 47h1v1h-1zM43 48h1v1h-1zM50 49h1v1h-1zM39 50h1v1h-1zM59 50h1v1h-1zM70 50h1v1h-1zM41 57h1v1h-1zM62 59h1v1h-1zM0 61h1v1h-1zM66 61h1v1h-1zM30 62h1v1h-1zM32 63h1v1h-1zM55 63h1v1h-1zM51 64h1v1h-1zM34 68h1v1h-1zM42 69h1v1h-1zM38 70h1v1h-1zM44 73h1v1h-1zM2 74h1v1h-1zM15 74h1v1h-1zM23 74h1v1h-1zM22 75h1v1h-1zM1 76h1v1h-1zM18 76h1v1h-1zM0 78h1v1h-1zM39 78h1v1h-1zM7 79h1v1h-1zM15 82h1v1h-1zM28 82h1v1h-1zM24 85h1v1h-1zM44 86h1v1h-1zM53 88h1v1h-1zM72 90h1v1h-1zM44 91h1v1h-1zM34 93h1v1h-1zM39 97h1v1h-1zM26 98h1v1h-1zM28 99h1v1h-1zM8 100h1v1h-1zM14 100h1v1h-1zM28 101h1v1h-1zM4 102h1v1h-1zM29 103h1v1h-1zM23 104h1v1h-1zM27 104h1v1h-1zM33 106h1v1h-1zM44 108h1v1h-1zM37 109h1v1h-1zM61 110h1v1h-1zM46 112h1v1h-1zM32 115h1v1h-1zM43 118h1v1h-1zM39 121h1v1h-1zM42 122h1v1h-1zM10 123h1v1h-1zM27 123h1v1h-1zM5 124h1v1h-1zM16 125h1v1h-1zM22 126h1v1h-1zM25 126h1v1h-1zM5 129h1v1h-1zM9 131h1v1h-1zM27 131h1v1h-1zM34 132h1v1h-1zM39 133h1v1h-1zM55 133h1v1h-1zM26 134h1v1h-1zM32 134h1v1h-1zM11 138h1v1h-1zM48 140h2v1h-2zM39 141h1v1h-1zM70 143h1v1h-1zM11 145h1v1h-1z"/><path fill="#cc7884" d="M33 0h1v1h-1zM16 1h2v1h-2zM4 2h1v1h-1zM17 2h1v1h-1zM30 2h1v1h-1zM51 2h1v1h-1zM14 3h1v1h-1zM3 4h1v1h-1zM10 4h1v1h-1zM67 4h1v1h-1zM11 5h1v1h-1zM15 6h1v1h-1zM21 7h1v1h-1zM26 7h1v1h-1zM44 7h1v1h-1zM16 9h1v1h-1zM4 11h1v1h-1zM16 11h1v1h-1zM24 11h1v1h-1zM5 12h1v1h-1zM13 12h1v1h-1zM33 12h1v1h-1zM24 13h1v1h-1zM21 14h1v1h-1zM16 15h1v1h-1zM24 15h1v1h-1zM21 17h1v1h-1zM13 18h1v1h-1zM10 19h1v1h-1zM26 19h1v1h-1zM24 20h1v1h-1zM4 21h1v1h-1zM10 21h1v1h-1zM19 22h1v1h-1zM31 23h1v1h-1zM53 23h1v1h-1zM54 24h1v1h-1zM24 25h1v1h-1zM43 25h1v1h-1zM48 26h2v1h-2zM60 28h1v1h-1zM56 30h1v1h-1zM30 31h1v1h-1zM34 31h1v1h-1zM71 32h1v1h-1zM54 33h1v1h-1zM58 33h1v1h-1zM40 34h1v1h-1zM42 35h1v1h-1zM47 36h1v1h-1zM42 37h1v1h-1zM58 37h1v1h-1zM12 39h1v1h-1zM31 39h1v1h-1zM39 39h1v1h-1zM43 39h1v1h-1zM18 41h1v1h-1zM41 41h1v1h-1zM9 42h1v1h-1zM57 43h1v1h-1zM59 43h1v1h-1zM36 45h1v1h-1zM50 45h2v1h-2zM38 46h1v1h-1zM40 47h1v1h-1zM33 48h1v1h-1zM36 51h1v1h-1zM56 51h1v1h-1zM51 52h1v1h-1zM23 54h1v1h-1zM35 54h1v1h-1zM46 55h1v1h-1zM32 56h1v1h-1zM73 56h1v1h-1zM38 57h1v1h-1zM31 58h1v1h-1zM42 58h1v1h-1zM46 58h1v1h-1zM34 59h1v1h-1zM59 60h1v1h-1zM11 61h1v1h-1zM55 61h1v1h-1zM34 62h1v1h-1zM38 62h1v1h-1zM33 63h1v1h-1zM50 63h2v1h-2zM30 64h1v1h-1zM49 64h1v1h-1zM41 65h1v1h-1zM40 68h1v1h-1zM4 70h1v1h-1zM12 70h1v1h-1zM8 71h1v1h-1zM49 71h1v1h-1zM50 72h1v1h-1zM8 73h1v1h-1zM10 73h1v1h-1zM13 73h1v1h-1zM29 73h2v1h-2zM35 73h1v1h-1zM8 74h1v1h-1zM13 74h1v1h-1zM3 75h1v1h-1zM6 75h1v1h-1zM24 75h1v1h-1zM30 75h1v1h-1zM14 76h1v1h-1zM17 76h1v1h-1zM1 77h1v1h-1zM29 78h1v1h-1zM2 80h1v1h-1zM19 81h1v1h-1zM25 81h1v1h-1zM40 81h1v1h-1zM50 82h1v1h-1zM4 83h1v1h-1zM19 83h1v1h-1zM28 84h1v1h-1zM52 84h1v1h-1zM1 85h1v1h-1zM8 85h1v1h-1zM10 85h1v1h-1zM18 86h1v1h-1zM55 87h1v1h-1zM61 90h1v1h-1zM69 90h1v1h-1zM45 91h1v1h-1zM63 91h1v1h-1zM66 91h1v1h-1zM72 91h1v1h-1zM62 93h1v1h-1zM30 95h1v1h-1zM4 96h1v1h-1zM5 98h1v1h-1zM1 100h1v1h-1zM47 100h1v1h-1zM51 100h1v1h-1zM1 101h1v1h-1zM12 101h1v1h-1zM18 101h1v1h-1zM44 101h1v1h-1zM24 102h1v1h-1zM24 103h1v1h-1zM39 106h1v1h-1zM12 110h1v1h-1zM40 110h1v1h-1zM55 111h1v1h-1zM29 113h1v1h-1zM52 113h1v1h-1zM35 115h1v1h-1zM38 115h1v1h-1zM61 115h1v1h-1zM5 118h1v1h-1zM60 119h1v1h-1zM19 123h1v1h-1zM34 123h1v1h-1zM55 123h1v1h-1zM22 124h1v1h-1zM46 124h1v1h-1zM0 128h1v1h-1zM15 128h1v1h-1zM42 130h1v1h-1zM41 132h1v1h-1zM12 136h1v1h-1zM63 136h1v1h-1zM46 137h1v1h-1zM27 138h1v1h-1zM44 139h1v1h-1zM74 142h1v1h-1zM14 143h1v1h-1zM16 145h1v1h-1zM49 146h1v1h-1zM53 146h1v1h-1zM0 147h1v1h-1zM51 148h1v1h-1zM4 149h1v1h-1z"/><path fill="#cc8484" d="M10 0h1v1h-1zM62 4h1v1h-1zM6 6h1v1h-1zM1 7h1v1h-1zM49 7h1v1h-1zM26 8h1v1h-1zM29 8h1v1h-1zM55 9h1v1h-1zM1 10h1v1h-1zM30 11h1v1h-1zM6 12h1v1h-1zM21 12h1v1h-1zM27 13h1v1h-1zM56 14h1v1h-1zM2 16h1v1h-1zM17 16h1v1h-1zM1 17h1v1h-1zM6 19h1v1h-1zM7 20h1v1h-1zM42 20h1v1h-1zM8 22h1v1h-1zM54 22h1v1h-1zM0 23h1v1h-1zM9 23h1v1h-1zM39 24h1v1h-1zM63 24h1v1h-1zM33 28h1v1h-1zM57 28h1v1h-1zM36 29h1v1h-1zM44 30h1v1h-1zM69 30h1v1h-1zM44 32h1v1h-1zM32 33h1v1h-1zM41 33h1v1h-1zM51 33h1v1h-1zM38 36h1v1h-1zM2 38h1v1h-1zM44 38h1v1h-1zM36 39h1v1h-1zM44 39h1v1h-1zM42 41h1v1h-1zM48 44h1v1h-1zM67 44h1v1h-1zM32 45h1v1h-1zM37 47h1v1h-1zM47 50h1v1h-1zM51 50h1v1h-1zM62 50h1v1h-1zM68 50h1v1h-1zM35 52h1v1h-1zM69 56h1v1h-1zM71 56h1v1h-1zM23 59h1v1h-1zM59 59h1v1h-1zM36 60h1v1h-1zM8 61h1v1h-1zM35 62h1v1h-1zM73 63h1v1h-1zM42 64h1v1h-1zM36 65h1v1h-1zM33 68h1v1h-1zM39 68h1v1h-1zM37 71h1v1h-1zM8 72h1v1h-1zM24 72h1v1h-1zM51 74h1v1h-1zM39 77h1v1h-1zM14 78h1v1h-1zM21 78h1v1h-1zM53 79h1v1h-1zM8 83h1v1h-1zM18 84h1v1h-1zM32 85h1v1h-1zM19 86h1v1h-1zM40 86h1v1h-1zM11 88h1v1h-1zM37 92h1v1h-1zM54 95h1v1h-1zM14 97h1v1h-1zM46 100h1v1h-1zM9 101h1v1h-1zM37 101h1v1h-1zM54 101h1v1h-1zM5 102h1v1h-1zM9 103h1v1h-1zM13 103h1v1h-1zM35 103h1v1h-1zM28 105h1v1h-1zM14 108h1v1h-1zM32 108h1v1h-1zM32 111h1v1h-1zM53 111h1v1h-1zM37 112h1v1h-1zM44 113h1v1h-1zM53 114h1v1h-1zM41 123h1v1h-1zM9 125h1v1h-1zM5 126h1v1h-1zM44 134h1v1h-1zM56 137h1v1h-1zM68 137h1v1h-1zM34 140h1v1h-1zM56 140h1v1h-1zM37 142h1v1h-1zM67 142h1v1h-1zM12 143h1v1h-1zM53 144h1v1h-1zM21 146h1v1h-1zM39 147h1v1h-1zM19 148h1v1h-1zM22 148h1v1h-1zM30 148h1v1h-1zM53 149h1v1h-1z"/><path fill="#cc8490" d="M12 1h1v1h-1zM35 2h1v1h-1zM7 4h1v1h-1zM11 4h1v1h-1zM50 5h1v1h-1zM7 6h1v1h-1zM20 7h1v1h-1zM55 7h1v1h-1zM0 8h1v1h-1zM2 8h1v1h-1zM22 9h1v1h-1zM27 9h1v1h-1zM13 10h1v1h-1zM45 10h1v1h-1zM26 11h1v1h-1zM35 11h1v1h-1zM46 12h1v1h-1zM7 14h1v1h-1zM32 14h1v1h-1zM44 14h1v1h-1zM9 15h1v1h-1zM12 15h1v1h-1zM29 15h1v1h-1zM52 15h1v1h-1zM12 16h1v1h-1zM8 17h1v1h-1zM27 18h1v1h-1zM28 19h1v1h-1zM6 21h1v1h-1zM32 21h1v1h-1zM39 21h1v1h-1zM33 22h1v1h-1zM53 22h1v1h-1zM20 23h2v1h-2zM17 24h1v1h-1zM13 25h1v1h-1zM32 25h1v1h-1zM44 25h1v1h-1zM39 27h1v1h-1zM35 29h1v1h-1zM66 30h2v1h-2zM34 32h1v1h-1zM46 32h1v1h-1zM60 32h1v1h-1zM64 32h1v1h-1zM46 33h1v1h-1zM35 35h1v1h-1zM38 37h1v1h-1zM38 38h1v1h-1zM23 39h1v1h-1zM53 41h1v1h-1zM44 42h1v1h-1zM55 43h1v1h-1zM67 43h1v1h-1zM28 44h1v1h-1zM39 44h1v1h-1zM44 44h1v1h-1zM68 44h1v1h-1zM57 45h1v1h-1zM59 45h1v1h-1zM68 45h1v1h-1zM36 47h1v1h-1zM52 47h1v1h-1zM63 47h1v1h-1zM18 49h1v1h-1zM31 49h1v1h-1zM47 49h1v1h-1zM12 50h1v1h-1zM33 50h1v1h-1zM32 51h1v1h-1zM45 51h1v1h-1zM55 51h1v1h-1zM42 53h1v1h-1zM43 55h1v1h-1zM9 56h1v1h-1zM4 58h1v1h-1zM30 58h1v1h-1zM13 59h1v1h-1zM35 59h1v1h-1zM43 59h1v1h-1zM56 59h1v1h-1zM61 59h1v1h-1zM34 61h2v1h-2zM50 62h1v1h-1zM46 66h1v1h-1zM53 66h1v1h-1zM8 70h2v1h-2zM49 70h1v1h-1zM0 72h1v1h-1zM9 73h1v1h-1zM49 74h1v1h-1zM11 75h1v1h-1zM41 75h1v1h-1zM55 75h1v1h-1zM15 77h1v1h-1zM34 77h1v1h-1zM8 78h1v1h-1zM10 78h1v1h-1zM17 78h1v1h-1zM27 78h1v1h-1zM1 81h1v1h-1zM34 81h1v1h-1zM51 82h1v1h-1zM1 83h1v1h-1zM27 83h1v1h-1zM32 83h1v1h-1zM34 83h1v1h-1zM44 83h1v1h-1zM16 84h1v1h-1zM54 84h1v1h-1zM0 85h1v1h-1zM25 85h1v1h-1zM1 87h1v1h-1zM32 87h1v1h-1zM53 87h1v1h-1zM21 88h1v1h-1zM30 88h1v1h-1zM39 89h1v1h-1zM30 91h1v1h-1zM36 91h1v1h-1zM69 91h1v1h-1zM4 93h1v1h-1zM55 93h1v1h-1zM63 93h1v1h-1zM18 94h1v1h-1zM50 94h1v1h-1zM57 94h1v1h-1zM44 95h1v1h-1zM12 97h1v1h-1zM46 98h1v1h-1zM70 98h1v1h-1zM0 99h1v1h-1zM30 99h1v1h-1zM0 100h1v1h-1zM22 100h1v1h-1zM4 101h1v1h-1zM14 101h1v1h-1zM17 101h1v1h-1zM1 102h1v1h-1zM0 104h1v1h-1zM1 105h1v1h-1zM7 105h1v1h-1zM49 106h1v1h-1zM53 107h1v1h-1zM55 107h1v1h-1zM59 107h1v1h-1zM3 108h1v1h-1zM40 108h1v1h-1zM33 109h1v1h-1zM41 111h1v1h-1zM30 114h1v1h-1zM17 117h1v1h-1zM51 117h1v1h-1zM32 118h1v1h-1zM18 119h1v1h-1zM63 119h1v1h-1zM66 119h1v1h-1zM17 120h1v1h-1zM41 120h1v1h-1zM2 122h1v1h-1zM39 123h1v1h-1zM0 124h1v1h-1zM8 124h1v1h-1zM20 124h1v1h-1zM8 125h1v1h-1zM21 125h1v1h-1zM55 125h1v1h-1zM3 126h1v1h-1zM27 126h1v1h-1zM55 126h1v1h-1zM12 127h1v1h-1zM35 127h1v1h-1zM6 128h1v1h-1zM9 128h1v1h-1zM13 128h2v1h-2zM25 128h1v1h-1zM11 129h1v1h-1zM30 130h1v1h-1zM43 130h1v1h-1zM47 130h1v1h-1zM47 132h1v1h-1zM56 132h1v1h-1zM61 132h1v1h-1zM31 133h1v1h-1zM2 134h1v1h-1zM51 134h1v1h-1zM40 135h1v1h-1zM51 135h1v1h-1zM56 135h1v1h-1zM32 136h1v1h-1zM47 136h1v1h-1zM49 136h1v1h-1zM65 136h1v1h-1zM69 136h1v1h-1zM72 136h1v1h-1zM11 137h1v1h-1zM17 140h1v1h-1zM43 140h1v1h-1zM46 140h1v1h-1zM50 140h1v1h-1zM35 141h1v1h-1zM46 141h1v1h-1zM23 142h1v1h-1zM41 142h1v1h-1zM35 143h1v1h-1zM59 143h1v1h-1zM17 144h1v1h-1zM29 145h1v1h-1zM33 145h1v1h-1zM7 147h1v1h-1zM15 147h1v1h-1zM28 147h1v1h-1zM32 147h1v1h-1z"/><path fill="#cc849c" d="M32 2h1v1h-1zM55 8h1v1h-1zM52 9h1v1h-1zM73 32h1v1h-1zM10 139h1v1h-1z"/><path fill="#cc9090" d="M1 0h1v1h-1zM19 1h1v1h-1zM4 3h1v1h-1zM2 5h1v1h-1zM23 5h1v1h-1zM3 9h1v1h-1zM10 11h1v1h-1zM46 15h1v1h-1zM19 18h1v1h-1zM1 20h1v1h-1zM15 20h1v1h-1zM29 20h1v1h-1zM53 20h1v1h-1zM12 22h1v1h-1zM37 25h1v1h-1zM24 27h1v1h-1zM74 30h1v1h-1zM55 36h1v1h-1zM37 37h1v1h-1zM53 37h1v1h-1zM26 41h1v1h-1zM58 43h1v1h-1zM33 44h1v1h-1zM60 45h1v1h-1zM18 50h1v1h-1zM33 54h1v1h-1zM46 54h1v1h-1zM44 56h1v1h-1zM33 57h1v1h-1zM37 58h1v1h-1zM49 59h1v1h-1zM46 60h1v1h-1zM32 62h1v1h-1zM18 66h1v1h-1zM30 72h1v1h-1zM14 73h1v1h-1zM46 78h1v1h-1zM25 79h1v1h-1zM8 81h1v1h-1zM20 84h1v1h-1zM51 84h1v1h-1zM15 88h1v1h-1zM25 88h1v1h-1zM62 91h1v1h-1zM32 103h1v1h-1zM7 104h1v1h-1zM44 106h1v1h-1zM43 116h1v1h-1zM18 117h1v1h-1zM45 117h1v1h-1zM54 118h1v1h-1zM37 119h1v1h-1zM0 122h1v1h-1zM8 126h1v1h-1zM17 129h1v1h-1zM45 131h1v1h-1zM18 133h1v1h-1zM46 134h1v1h-1zM54 137h1v1h-1zM45 140h1v1h-1zM6 143h1v1h-1zM2 145h1v1h-1zM5 147h1v1h-1zM1 148h1v1h-1z"/><path fill="#cc909c" d="M2 0h1v1h-1zM22 0h1v1h-1zM27 0h1v1h-1zM24 2h1v1h-1zM29 2h1v1h-1zM44 2h1v1h-1zM1 3h1v1h-1zM6 3h1v1h-1zM8 3h1v1h-1zM21 5h1v1h-1zM17 6h1v1h-1zM8 7h1v1h-1zM52 8h1v1h-1zM38 9h1v1h-1zM53 9h1v1h-1zM46 10h1v1h-1zM19 11h1v1h-1zM27 11h1v1h-1zM53 12h1v1h-1zM5 13h1v1h-1zM42 13h1v1h-1zM61 13h1v1h-1zM9 16h1v1h-1zM3 17h1v1h-1zM11 17h1v1h-1zM62 17h1v1h-1zM52 18h1v1h-1zM8 19h1v1h-1zM30 19h1v1h-1zM46 19h1v1h-1zM4 20h1v1h-1zM13 20h1v1h-1zM39 23h1v1h-1zM11 24h1v1h-1zM35 24h1v1h-1zM44 24h1v1h-1zM52 24h1v1h-1zM12 25h1v1h-1zM30 25h1v1h-1zM54 25h1v1h-1zM1 26h1v1h-1zM26 26h1v1h-1zM55 26h1v1h-1zM33 27h1v1h-1zM38 27h1v1h-1zM62 27h2v1h-2zM4 29h1v1h-1zM31 29h1v1h-1zM34 30h1v1h-1zM52 30h1v1h-1zM73 30h1v1h-1zM47 33h1v1h-1zM49 34h1v1h-1zM36 35h1v1h-1zM46 35h1v1h-1zM31 37h1v1h-1zM28 38h1v1h-1zM45 38h1v1h-1zM47 40h1v1h-1zM57 41h1v1h-1zM0 42h1v1h-1zM42 42h1v1h-1zM48 42h1v1h-1zM58 42h1v1h-1zM45 43h1v1h-1zM50 43h1v1h-1zM52 43h1v1h-1zM74 43h1v1h-1zM49 46h1v1h-1zM57 47h1v1h-1zM70 47h1v1h-1zM38 48h1v1h-1zM46 49h1v1h-1zM63 50h1v1h-1zM69 50h1v1h-1zM70 51h1v1h-1zM39 53h1v1h-1zM40 55h1v1h-1zM47 55h1v1h-1zM48 56h1v1h-1zM30 59h1v1h-1zM65 59h1v1h-1zM42 60h1v1h-1zM64 60h1v1h-1zM68 60h1v1h-1zM48 61h1v1h-1zM53 62h1v1h-1zM42 63h1v1h-1zM41 64h1v1h-1zM33 65h1v1h-1zM47 67h1v1h-1zM11 68h1v1h-1zM21 68h1v1h-1zM27 68h1v1h-1zM48 68h1v1h-1zM50 68h1v1h-1zM49 69h1v1h-1zM56 69h1v1h-1zM42 70h1v1h-1zM3 71h1v1h-1zM13 71h1v1h-1zM46 71h1v1h-1zM17 72h1v1h-1zM33 73h1v1h-1zM25 75h1v1h-1zM39 75h1v1h-1zM41 77h1v1h-1zM16 78h1v1h-1zM32 78h1v1h-1zM55 78h1v1h-1zM13 79h1v1h-1zM37 79h1v1h-1zM0 82h1v1h-1zM22 83h1v1h-1zM29 83h1v1h-1zM35 83h1v1h-1zM46 83h1v1h-1zM55 83h1v1h-1zM9 84h3v1h-3zM24 84h2v1h-2zM19 85h1v1h-1zM23 85h1v1h-1zM15 86h1v1h-1zM28 86h1v1h-1zM8 87h2v1h-2zM26 87h1v1h-1zM33 87h1v1h-1zM52 87h1v1h-1zM29 88h1v1h-1zM31 88h1v1h-1zM35 88h1v1h-1zM37 88h1v1h-1zM52 88h1v1h-1zM1 89h1v1h-1zM42 92h1v1h-1zM51 92h1v1h-1zM56 92h1v1h-1zM54 94h1v1h-1zM35 95h1v1h-1zM56 95h1v1h-1zM31 96h1v1h-1zM27 97h1v1h-1zM3 98h1v1h-1zM17 98h1v1h-1zM45 98h1v1h-1zM59 98h1v1h-1zM47 99h1v1h-1zM11 100h1v1h-1zM55 100h1v1h-1zM15 102h1v1h-1zM22 103h1v1h-1zM53 103h1v1h-1zM70 103h1v1h-1zM21 104h1v1h-1zM20 105h1v1h-1zM23 105h1v1h-1zM4 107h1v1h-1zM62 107h1v1h-1zM8 108h2v1h-2zM21 108h1v1h-1zM31 108h1v1h-1zM33 108h1v1h-1zM52 108h1v1h-1zM25 111h1v1h-1zM34 112h1v1h-1zM40 112h1v1h-1zM42 113h1v1h-1zM56 114h1v1h-1zM37 115h1v1h-1zM46 117h1v1h-1zM56 118h1v1h-1zM44 121h1v1h-1zM14 122h1v1h-1zM25 122h1v1h-1zM44 122h1v1h-1zM43 123h1v1h-1zM51 124h1v1h-1zM2 125h1v1h-1zM28 125h1v1h-1zM7 127h1v1h-1zM26 127h1v1h-1zM28 127h1v1h-1zM22 128h1v1h-1zM24 129h1v1h-1zM34 129h1v1h-1zM39 129h1v1h-1zM49 129h1v1h-1zM17 130h2v1h-2zM55 130h1v1h-1zM37 132h1v1h-1zM72 132h1v1h-1zM53 133h1v1h-1zM12 134h1v1h-1zM41 135h1v1h-1zM44 135h1v1h-1zM55 136h1v1h-1zM35 137h1v1h-1zM19 138h2v1h-2zM37 138h1v1h-1zM44 138h1v1h-1zM46 138h1v1h-1zM50 138h1v1h-1zM42 140h1v1h-1zM36 142h1v1h-1zM33 143h1v1h-1zM62 143h1v1h-1zM4 144h1v1h-1zM9 144h1v1h-1zM30 144h1v1h-1zM44 145h1v1h-1zM42 147h1v1h-1zM5 148h1v1h-1zM12 148h1v1h-1zM28 148h1v1h-1zM50 148h1v1h-1zM35 149h1v1h-1zM39 149h1v1h-1zM47 149h1v1h-1z"/><path fill="#cc90a8" d="M25 5h1v1h-1zM49 11h1v1h-1zM6 15h1v1h-1zM31 22h1v1h-1zM49 24h1v1h-1zM66 27h1v1h-1zM17 28h1v1h-1zM31 28h1v1h-1zM39 29h1v1h-1zM60 30h1v1h-1zM40 32h1v1h-1zM72 41h1v1h-1zM35 46h1v1h-1zM38 50h1v1h-1zM34 64h1v1h-1zM42 74h1v1h-1zM40 76h1v1h-1zM7 84h1v1h-1zM55 84h1v1h-1zM15 89h1v1h-1zM24 89h1v1h-1zM60 91h1v1h-1zM71 91h1v1h-1zM38 92h1v1h-1zM44 92h1v1h-1zM19 99h1v1h-1zM19 102h1v1h-1zM20 108h1v1h-1zM23 118h1v1h-1zM16 126h1v1h-1zM1 129h1v1h-1zM34 135h1v1h-1zM34 136h1v1h-1zM43 145h1v1h-1zM55 147h1v1h-1z"/><path fill="#cc9c9c" d="M14 1h1v1h-1zM28 3h1v1h-1zM47 10h1v1h-1zM8 12h1v1h-1zM51 25h1v1h-1zM30 27h1v1h-1zM65 30h1v1h-1zM68 30h1v1h-1zM50 33h1v1h-1zM35 36h1v1h-1zM40 36h1v1h-1zM4 42h1v1h-1zM71 45h1v1h-1zM51 62h1v1h-1zM67 63h1v1h-1zM41 68h1v1h-1zM35 72h1v1h-1zM26 89h1v1h-1zM73 91h1v1h-1zM66 95h1v1h-1zM5 106h1v1h-1zM36 114h1v1h-1zM49 122h1v1h-1zM14 130h1v1h-1zM40 134h1v1h-1zM30 137h1v1h-1z"/><path fill="#cc9ca8" d="M14 0h1v1h-1zM21 0h1v1h-1zM41 0h1v1h-1zM47 0h1v1h-1zM3 2h1v1h-1zM8 2h1v1h-1zM46 2h1v1h-1zM72 4h1v1h-1zM13 6h1v1h-1zM29 7h1v1h-1zM2 10h1v1h-1zM8 10h1v1h-1zM2 11h1v1h-1zM34 11h1v1h-1zM15 12h1v1h-1zM7 13h1v1h-1zM65 13h1v1h-1zM19 14h1v1h-1zM55 14h1v1h-1zM5 15h1v1h-1zM28 16h1v1h-1zM55 17h1v1h-1zM34 18h1v1h-1zM41 18h1v1h-1zM56 18h1v1h-1zM29 19h1v1h-1zM52 19h1v1h-1zM8 20h1v1h-1zM24 21h1v1h-1zM42 21h1v1h-1zM49 21h1v1h-1zM16 22h1v1h-1zM47 24h1v1h-1zM34 26h1v1h-1zM51 26h1v1h-1zM54 26h1v1h-1zM32 27h1v1h-1zM37 27h1v1h-1zM46 28h1v1h-1zM53 28h1v1h-1zM34 29h1v1h-1zM32 31h1v1h-1zM48 32h1v1h-1zM49 33h1v1h-1zM4 34h1v1h-1zM12 35h1v1h-1zM54 37h1v1h-1zM38 40h1v1h-1zM14 41h1v1h-1zM21 41h1v1h-1zM54 41h1v1h-1zM11 42h1v1h-1zM47 43h1v1h-1zM41 45h1v1h-1zM65 45h1v1h-1zM42 46h1v1h-1zM59 47h1v1h-1zM34 49h1v1h-1zM39 49h1v1h-1zM54 49h1v1h-1zM17 50h1v1h-1zM45 50h1v1h-1zM35 51h1v1h-1zM37 51h1v1h-1zM40 52h1v1h-1zM46 52h1v1h-1zM48 52h1v1h-1zM36 53h1v1h-1zM48 53h1v1h-1zM14 55h1v1h-1zM28 56h1v1h-1zM52 56h2v1h-2zM35 57h1v1h-1zM43 57h1v1h-1zM12 58h1v1h-1zM40 58h1v1h-1zM43 58h1v1h-1zM50 58h1v1h-1zM18 59h1v1h-1zM41 60h1v1h-1zM30 61h1v1h-1zM49 61h1v1h-1zM8 62h1v1h-1zM3 63h1v1h-1zM30 63h1v1h-1zM38 64h1v1h-1zM42 65h1v1h-1zM44 66h1v1h-1zM56 66h1v1h-1zM17 67h1v1h-1zM35 67h1v1h-1zM42 67h1v1h-1zM51 69h1v1h-1zM26 71h1v1h-1zM33 72h1v1h-1zM53 72h1v1h-1zM56 72h1v1h-1zM8 75h1v1h-1zM11 76h1v1h-1zM19 77h1v1h-1zM44 77h1v1h-1zM56 78h1v1h-1zM5 79h1v1h-1zM0 80h1v1h-1zM3 80h1v1h-1zM7 80h1v1h-1zM46 81h1v1h-1zM8 82h1v1h-1zM10 82h1v1h-1zM47 82h1v1h-1zM3 84h1v1h-1zM12 85h1v1h-1zM22 85h1v1h-1zM17 86h1v1h-1zM45 86h1v1h-1zM18 87h1v1h-1zM21 87h1v1h-1zM25 87h1v1h-1zM51 88h1v1h-1zM53 90h1v1h-1zM67 91h1v1h-1zM18 92h1v1h-1zM53 93h1v1h-1zM30 97h1v1h-1zM30 98h1v1h-1zM35 98h1v1h-1zM63 98h1v1h-1zM39 99h1v1h-1zM9 100h1v1h-1zM17 100h1v1h-1zM26 100h1v1h-1zM43 101h1v1h-1zM8 103h1v1h-1zM63 103h1v1h-1zM44 104h1v1h-1zM46 104h1v1h-1zM2 105h1v1h-1zM5 105h1v1h-1zM9 105h1v1h-1zM37 106h1v1h-1zM43 106h1v1h-1zM45 106h1v1h-1zM34 107h1v1h-1zM39 109h1v1h-1zM42 109h1v1h-1zM45 109h1v1h-1zM35 110h1v1h-1zM42 110h1v1h-1zM42 114h1v1h-1zM46 114h1v1h-1zM43 117h1v1h-1zM44 118h1v1h-1zM36 119h1v1h-1zM40 119h1v1h-1zM65 119h1v1h-1zM67 119h1v1h-1zM24 120h1v1h-1zM32 120h1v1h-1zM29 121h1v1h-1zM46 121h1v1h-1zM3 123h1v1h-1zM13 123h2v1h-2zM16 123h1v1h-1zM13 124h1v1h-1zM4 125h1v1h-1zM17 125h1v1h-1zM6 126h1v1h-1zM13 126h1v1h-1zM5 127h2v1h-2zM23 127h1v1h-1zM51 127h1v1h-1zM8 128h1v1h-1zM34 128h1v1h-1zM55 129h1v1h-1zM53 130h1v1h-1zM8 131h1v1h-1zM13 131h1v1h-1zM37 131h1v1h-1zM17 132h1v1h-1zM17 133h1v1h-1zM45 134h1v1h-1zM30 136h1v1h-1zM33 136h1v1h-1zM37 136h1v1h-1zM24 137h1v1h-1zM26 138h1v1h-1zM53 138h1v1h-1zM56 138h1v1h-1zM37 139h1v1h-1zM47 142h1v1h-1zM49 142h1v1h-1zM30 145h1v1h-1zM50 145h1v1h-1zM33 146h1v1h-1zM39 146h1v1h-1zM27 148h1v1h-1zM34 148h2v1h-2zM46 148h2v1h-2z"/><path fill="#cc9cb4" d="M29 1h1v1h-1zM0 4h1v1h-1zM65 4h1v1h-1zM47 5h1v1h-1zM53 5h1v1h-1zM17 9h1v1h-1zM44 13h1v1h-1zM17 17h1v1h-1zM16 20h1v1h-1zM2 21h1v1h-1zM12 21h1v1h-1zM24 22h1v1h-1zM30 22h1v1h-1zM13 23h1v1h-1zM38 25h1v1h-1zM29 27h1v1h-1zM45 28h1v1h-1zM56 28h1v1h-1zM26 29h1v1h-1zM49 29h1v1h-1zM8 36h1v1h-1zM48 37h1v1h-1zM54 38h1v1h-1zM73 43h1v1h-1zM52 45h1v1h-1zM40 50h1v1h-1zM61 50h1v1h-1zM40 51h1v1h-1zM48 57h1v1h-1zM39 62h1v1h-1zM35 63h1v1h-1zM40 64h1v1h-1zM38 65h1v1h-1zM56 65h1v1h-1zM49 66h1v1h-1zM18 67h1v1h-1zM51 67h1v1h-1zM4 68h1v1h-1zM53 69h1v1h-1zM49 72h1v1h-1zM28 73h1v1h-1zM32 73h1v1h-1zM8 76h1v1h-1zM34 79h1v1h-1zM46 79h1v1h-1zM25 80h1v1h-1zM17 83h1v1h-1zM50 83h1v1h-1zM12 84h1v1h-1zM30 84h1v1h-1zM56 84h1v1h-1zM6 85h1v1h-1zM4 86h1v1h-1zM21 89h1v1h-1zM41 89h1v1h-1zM46 91h1v1h-1zM4 94h1v1h-1zM45 95h1v1h-1zM49 97h1v1h-1zM61 98h1v1h-1zM55 99h1v1h-1zM18 100h1v1h-1zM53 104h1v1h-1zM9 107h1v1h-1zM40 107h1v1h-1zM36 112h1v1h-1zM53 112h1v1h-1zM53 113h1v1h-1zM8 118h1v1h-1zM46 118h1v1h-1zM37 130h1v1h-1zM59 133h1v1h-1zM9 134h1v1h-1zM58 137h1v1h-1zM56 139h1v1h-1zM0 142h1v1h-1zM26 144h1v1h-1zM34 144h1v1h-1zM45 145h1v1h-1zM23 146h1v1h-1zM31 146h1v1h-1zM52 147h1v1h-1zM23 148h1v1h-1z"/><path fill="#cca8b4" d="M68 4h1v1h-1zM1 6h1v1h-1zM25 6h1v1h-1zM52 7h1v1h-1zM39 10h1v1h-1zM53 11h1v1h-1zM10 12h1v1h-1zM25 13h1v1h-1zM30 15h1v1h-1zM21 19h1v1h-1zM44 20h1v1h-1zM23 22h1v1h-1zM35 28h2v1h-2zM23 29h1v1h-1zM31 32h1v1h-1zM71 43h1v1h-1zM52 44h1v1h-1zM69 45h1v1h-1zM73 45h1v1h-1zM65 47h1v1h-1zM55 49h1v1h-1zM9 50h1v1h-1zM32 52h1v1h-1zM38 53h1v1h-1zM40 53h1v1h-1zM30 60h1v1h-1zM39 60h1v1h-1zM50 65h1v1h-1zM55 68h1v1h-1zM31 70h1v1h-1zM40 71h1v1h-1zM49 78h1v1h-1zM52 78h1v1h-1zM45 79h1v1h-1zM51 79h1v1h-1zM32 80h1v1h-1zM37 80h1v1h-1zM4 82h1v1h-1zM53 82h1v1h-1zM29 84h1v1h-1zM13 86h1v1h-1zM55 88h1v1h-1zM53 89h1v1h-1zM32 90h1v1h-1zM47 90h1v1h-1zM40 91h1v1h-1zM71 94h1v1h-1zM53 97h1v1h-1zM2 98h1v1h-1zM32 98h1v1h-1zM16 102h1v1h-1zM3 103h1v1h-1zM67 103h1v1h-1zM32 104h1v1h-1zM4 105h1v1h-1zM40 106h1v1h-1zM10 107h1v1h-1zM34 114h1v1h-1zM44 119h1v1h-1zM33 120h1v1h-1zM35 124h1v1h-1zM6 125h1v1h-1zM42 126h1v1h-1zM56 128h1v1h-1zM42 131h1v1h-1zM54 135h1v1h-1zM60 136h1v1h-1zM15 139h1v1h-1zM21 143h1v1h-1zM40 143h1v1h-1zM1 145h1v1h-1z"/><path fill="#cca8c0" d="M22 1h1v1h-1zM26 1h1v1h-1zM3 3h1v1h-1zM21 4h1v1h-1zM71 4h1v1h-1zM2 6h1v1h-1zM19 6h1v1h-1zM40 8h1v1h-1zM45 8h1v1h-1zM42 10h1v1h-1zM11 11h1v1h-1zM21 13h1v1h-1zM10 15h1v1h-1zM52 17h1v1h-1zM22 19h1v1h-1zM26 21h1v1h-1zM38 21h1v1h-1zM15 23h1v1h-1zM23 23h1v1h-1zM44 23h1v1h-1zM48 23h1v1h-1zM55 24h1v1h-1zM34 25h1v1h-1zM55 25h1v1h-1zM32 28h1v1h-1zM34 28h1v1h-1zM21 29h1v1h-1zM33 30h1v1h-1zM40 30h1v1h-1zM47 30h1v1h-1zM33 31h1v1h-1zM32 35h1v1h-1zM44 37h1v1h-1zM5 38h1v1h-1zM42 39h1v1h-1zM58 41h1v1h-1zM13 42h1v1h-1zM28 43h1v1h-1zM32 44h1v1h-1zM40 46h1v1h-1zM34 47h1v1h-1zM8 48h1v1h-1zM45 48h1v1h-1zM35 49h1v1h-1zM1 51h1v1h-1zM6 51h1v1h-1zM49 52h1v1h-1zM55 52h1v1h-1zM14 53h1v1h-1zM12 54h1v1h-1zM44 54h1v1h-1zM47 54h2v1h-2zM37 59h1v1h-1zM33 60h1v1h-1zM47 62h1v1h-1zM18 64h1v1h-1zM31 64h1v1h-1zM43 65h1v1h-1zM53 67h1v1h-1zM45 69h2v1h-2zM53 70h1v1h-1zM20 71h1v1h-1zM27 72h1v1h-1zM42 75h1v1h-1zM39 76h1v1h-1zM37 78h1v1h-1zM42 78h1v1h-1zM13 83h1v1h-1zM42 83h1v1h-1zM53 83h1v1h-1zM21 84h1v1h-1zM39 84h1v1h-1zM56 88h1v1h-1zM40 89h1v1h-1zM51 90h1v1h-1zM28 91h1v1h-1zM32 93h1v1h-1zM45 93h1v1h-1zM56 93h1v1h-1zM51 95h1v1h-1zM13 97h1v1h-1zM44 97h1v1h-1zM24 98h1v1h-1zM2 99h1v1h-1zM27 101h1v1h-1zM8 102h1v1h-1zM21 102h1v1h-1zM62 103h1v1h-1zM64 103h2v1h-2zM48 104h1v1h-1zM51 104h1v1h-1zM30 105h1v1h-1zM36 106h1v1h-1zM72 107h1v1h-1zM40 111h1v1h-1zM8 112h1v1h-1zM50 113h1v1h-1zM42 115h1v1h-1zM8 116h1v1h-1zM48 116h1v1h-1zM52 118h1v1h-1zM57 119h2v1h-2zM72 119h1v1h-1zM5 120h1v1h-1zM47 121h1v1h-1zM9 122h1v1h-1zM17 122h1v1h-1zM33 123h1v1h-1zM62 123h1v1h-1zM29 124h1v1h-1zM45 125h1v1h-1zM9 126h1v1h-1zM47 127h1v1h-1zM29 129h1v1h-1zM9 130h1v1h-1zM33 130h1v1h-1zM30 131h1v1h-1zM52 132h1v1h-1zM36 133h1v1h-1zM49 135h1v1h-1zM2 136h1v1h-1zM19 137h1v1h-1zM52 137h1v1h-1zM55 138h1v1h-1zM18 142h1v1h-1zM1 143h1v1h-1zM20 144h1v1h-1zM39 145h1v1h-1zM8 146h1v1h-1zM22 146h1v1h-1zM55 146h1v1h-1zM54 147h1v1h-1zM0 148h1v1h-1zM9 148h1v1h-1zM8 149h1v1h-1zM52 149h1v1h-1z"/><path fill="#cca8cc" d="M66 4h1v1h-1zM27 21h1v1h-1zM18 46h1v1h-1zM42 61h1v1h-1zM41 86h1v1h-1zM34 90h1v1h-1zM30 100h1v1h-1zM33 107h1v1h-1zM74 119h1v1h-1zM19 134h1v1h-1zM3 140h1v1h-1zM41 144h1v1h-1z"/><path fill="#ccb4c0" d="M39 2h1v1h-1zM7 3h1v1h-1zM48 8h1v1h-1zM19 9h1v1h-1zM31 9h1v1h-1zM37 10h1v1h-1zM20 13h1v1h-1zM54 17h1v1h-1zM27 23h1v1h-1zM8 25h1v1h-1zM38 30h1v1h-1zM40 31h1v1h-1zM18 35h1v1h-1zM37 35h1v1h-1zM56 35h1v1h-1zM8 38h1v1h-1zM55 40h1v1h-1zM33 43h1v1h-1zM39 46h1v1h-1zM54 46h1v1h-1zM73 47h1v1h-1zM51 54h1v1h-1zM52 69h1v1h-1zM31 71h1v1h-1zM39 83h1v1h-1zM27 85h1v1h-1zM21 110h1v1h-1zM35 119h1v1h-1zM69 119h1v1h-1zM44 133h1v1h-1zM0 134h1v1h-1zM26 147h1v1h-1z"/><path fill="#ccb4cc" d="M0 0h1v1h-1zM26 0h1v1h-1zM53 3h1v1h-1zM35 4h1v1h-1zM22 8h1v1h-1zM56 8h1v1h-1zM45 13h1v1h-1zM43 15h1v1h-1zM45 15h1v1h-1zM37 16h1v1h-1zM49 18h1v1h-1zM3 19h1v1h-1zM6 20h1v1h-1zM45 20h1v1h-1zM5 21h1v1h-1zM4 23h1v1h-1zM29 23h1v1h-1zM47 23h1v1h-1zM53 24h1v1h-1zM2 25h1v1h-1zM21 25h1v1h-1zM31 26h1v1h-1zM47 26h1v1h-1zM28 27h1v1h-1zM28 30h1v1h-1zM42 30h1v1h-1zM46 30h1v1h-1zM8 32h1v1h-1zM43 32h1v1h-1zM43 33h1v1h-1zM18 34h1v1h-1zM21 34h1v1h-1zM28 34h1v1h-1zM16 35h1v1h-1zM53 35h1v1h-1zM18 37h1v1h-1zM4 40h1v1h-1zM20 41h1v1h-1zM8 42h1v1h-1zM24 42h1v1h-1zM11 44h1v1h-1zM67 45h1v1h-1zM14 46h1v1h-1zM53 46h1v1h-1zM55 46h1v1h-1zM43 49h1v1h-1zM18 51h1v1h-1zM45 57h1v1h-1zM27 59h1v1h-1zM6 60h1v1h-1zM38 60h1v1h-1zM53 61h1v1h-1zM21 71h1v1h-1zM31 73h1v1h-1zM41 73h1v1h-1zM35 76h1v1h-1zM33 78h1v1h-1zM41 79h1v1h-1zM41 83h1v1h-1zM13 84h1v1h-1zM54 85h1v1h-1zM49 86h1v1h-1zM43 87h1v1h-1zM54 88h1v1h-1zM47 94h1v1h-1zM58 95h1v1h-1zM42 96h1v1h-1zM62 98h1v1h-1zM33 99h1v1h-1zM57 103h1v1h-1zM21 105h1v1h-1zM28 107h1v1h-1zM38 107h1v1h-1zM57 107h1v1h-1zM64 107h1v1h-1zM51 109h1v1h-1zM28 110h2v1h-2zM47 112h1v1h-1zM54 114h1v1h-1zM38 118h1v1h-1zM47 119h1v1h-1zM2 120h1v1h-1zM8 120h1v1h-1zM18 121h1v1h-1zM6 122h1v1h-1zM29 125h1v1h-1zM10 126h1v1h-1zM18 127h1v1h-1zM22 127h1v1h-1zM43 129h1v1h-1zM23 130h1v1h-1zM41 130h1v1h-1zM62 132h1v1h-1zM66 132h1v1h-1zM69 132h2v1h-2zM8 134h1v1h-1zM48 135h1v1h-1zM31 139h1v1h-1zM43 139h1v1h-1zM8 140h1v1h-1zM35 140h1v1h-1zM44 141h1v1h-1zM15 142h1v1h-1zM7 143h2v1h-2zM48 143h1v1h-1zM24 144h1v1h-1zM12 145h1v1h-1zM27 145h1v1h-1zM46 146h1v1h-1zM54 148h1v1h-1zM26 149h1v1h-1z"/><path fill="#ccb4d8" d="M7 8h1v1h-1zM41 8h1v1h-1zM47 13h1v1h-1zM32 16h1v1h-1zM23 19h1v1h-1zM9 27h1v1h-1zM54 28h1v1h-1zM9 35h1v1h-1zM53 42h1v1h-1zM29 45h1v1h-1zM12 46h1v1h-1zM46 47h1v1h-1zM15 49h1v1h-1zM17 59h1v1h-1zM48 64h1v1h-1zM62 71h1v1h-1zM35 84h1v1h-1zM14 85h1v1h-1zM20 86h1v1h-1zM42 88h1v1h-1zM35 97h1v1h-1zM3 110h1v1h-1zM39 112h1v1h-1zM34 115h1v1h-1zM7 124h1v1h-1zM16 124h1v1h-1zM7 125h1v1h-1zM21 130h1v1h-1zM67 132h1v1h-1zM43 134h1v1h-1zM11 136h1v1h-1zM12 137h1v1h-1zM22 140h1v1h-1zM0 143h1v1h-1zM52 146h1v1h-1zM8 147h1v1h-1zM49 147h1v1h-1zM41 148h1v1h-1z"/><path fill="#ccc0cc" d="M30 24h1v1h-1zM31 84h1v1h-1zM13 132h1v1h-1z"/><path fill="#ccc0d8" d="M54 4h1v1h-1zM35 9h1v1h-1zM22 10h1v1h-1zM25 10h1v1h-1zM34 10h1v1h-1zM67 13h1v1h-1zM41 14h1v1h-1zM46 14h1v1h-1zM39 16h1v1h-1zM22 23h1v1h-1zM9 25h1v1h-1zM27 27h1v1h-1zM45 32h1v1h-1zM15 33h1v1h-1zM18 43h1v1h-1zM36 43h1v1h-1zM8 45h1v1h-1zM38 47h1v1h-1zM32 49h1v1h-1zM16 54h1v1h-1zM15 59h1v1h-1zM37 60h1v1h-1zM50 66h1v1h-1zM45 80h1v1h-1zM39 86h1v1h-1zM2 87h1v1h-1zM46 88h1v1h-1zM49 90h1v1h-1zM48 93h1v1h-1zM49 103h1v1h-1zM26 104h1v1h-1zM49 104h1v1h-1zM17 110h1v1h-1zM10 111h1v1h-1zM29 111h1v1h-1zM30 117h1v1h-1zM54 121h1v1h-1zM50 122h1v1h-1zM66 123h1v1h-1zM4 124h1v1h-1zM25 124h1v1h-1zM7 126h1v1h-1zM55 127h1v1h-1zM8 132h1v1h-1zM57 132h1v1h-1zM29 133h1v1h-1zM8 137h1v1h-1zM42 138h1v1h-1zM23 140h1v1h-1zM29 140h1v1h-1zM49 143h1v1h-1zM6 148h1v1h-1z"/><path fill="#d89ca8" d="M6 0h1v1h-1zM15 1h1v1h-1zM28 1h1v1h-1zM42 4h2v1h-2zM28 6h1v1h-1zM6 8h1v1h-1zM10 8h1v1h-1zM32 8h1v1h-1zM34 8h1v1h-1zM7 11h1v1h-1zM53 13h1v1h-1zM49 17h1v1h-1zM49 20h1v1h-1zM40 21h1v1h-1zM5 23h1v1h-1zM36 25h1v1h-1zM14 27h1v1h-1zM37 28h1v1h-1zM46 29h1v1h-1zM48 30h1v1h-1zM52 35h1v1h-1zM48 38h1v1h-1zM28 51h1v1h-1zM48 58h1v1h-1zM44 65h1v1h-1zM49 65h1v1h-1zM42 68h1v1h-1zM51 68h1v1h-1zM51 70h1v1h-1zM15 72h1v1h-1zM4 74h1v1h-1zM7 78h1v1h-1zM13 78h1v1h-1zM36 79h1v1h-1zM3 82h1v1h-1zM2 83h1v1h-1zM44 84h1v1h-1zM37 85h1v1h-1zM2 86h1v1h-1zM16 88h1v1h-1zM47 89h1v1h-1zM72 94h1v1h-1zM44 96h1v1h-1zM16 98h1v1h-1zM18 98h1v1h-1zM8 99h1v1h-1zM6 105h1v1h-1zM25 105h1v1h-1zM8 107h1v1h-1zM16 107h1v1h-1zM22 107h1v1h-1zM18 110h1v1h-1zM49 118h1v1h-1zM47 122h1v1h-1zM25 127h1v1h-1zM8 130h1v1h-1zM35 130h1v1h-1zM59 132h1v1h-1zM47 135h1v1h-1zM2 137h1v1h-1zM10 137h1v1h-1zM8 138h1v1h-1zM53 142h1v1h-1zM46 143h1v1h-1zM51 143h1v1h-1zM31 144h1v1h-1zM9 145h1v1h-1z"/><path fill="#d89cb4" d="M35 17h1v1h-1zM36 27h1v1h-1zM43 91h1v1h-1zM54 105h1v1h-1zM3 107h1v1h-1zM43 122h1v1h-1zM30 123h1v1h-1zM24 138h1v1h-1z"/><path fill="#d8a8b4" d="M17 0h1v1h-1zM37 0h1v1h-1zM0 1h1v1h-1zM10 1h2v1h-2zM2 2h1v1h-1zM61 4h1v1h-1zM13 5h1v1h-1zM19 7h1v1h-1zM21 10h1v1h-1zM33 10h1v1h-1zM38 10h1v1h-1zM20 12h1v1h-1zM8 14h1v1h-1zM8 15h1v1h-1zM3 16h1v1h-1zM59 17h1v1h-1zM6 18h1v1h-1zM25 20h1v1h-1zM34 20h1v1h-1zM40 20h1v1h-1zM48 21h1v1h-1zM20 25h1v1h-1zM17 27h1v1h-1zM53 27h1v1h-1zM47 28h1v1h-1zM5 29h1v1h-1zM18 29h1v1h-1zM43 29h1v1h-1zM35 30h1v1h-1zM41 30h1v1h-1zM53 30h1v1h-1zM36 37h1v1h-1zM12 38h1v1h-1zM32 40h1v1h-1zM37 43h1v1h-1zM41 43h1v1h-1zM68 43h1v1h-1zM14 44h1v1h-1zM23 44h1v1h-1zM45 45h1v1h-1zM8 46h1v1h-1zM53 48h1v1h-1zM41 50h1v1h-1zM47 52h1v1h-1zM50 52h1v1h-1zM53 54h1v1h-1zM67 56h1v1h-1zM34 57h1v1h-1zM55 57h1v1h-1zM38 58h2v1h-2zM47 59h1v1h-1zM12 60h1v1h-1zM22 61h1v1h-1zM44 61h1v1h-1zM29 63h1v1h-1zM39 63h1v1h-1zM8 64h1v1h-1zM0 68h1v1h-1zM40 69h1v1h-1zM19 71h1v1h-1zM44 71h1v1h-1zM29 72h1v1h-1zM49 73h1v1h-1zM37 76h1v1h-1zM44 76h1v1h-1zM2 78h1v1h-1zM15 79h1v1h-1zM21 79h1v1h-1zM8 80h1v1h-1zM17 80h1v1h-1zM41 81h1v1h-1zM51 81h1v1h-1zM3 83h1v1h-1zM30 83h1v1h-1zM48 83h1v1h-1zM19 84h1v1h-1zM16 85h1v1h-1zM21 85h1v1h-1zM14 86h1v1h-1zM26 86h1v1h-1zM30 87h1v1h-1zM41 88h1v1h-1zM44 88h1v1h-1zM42 90h1v1h-1zM30 92h1v1h-1zM43 93h1v1h-1zM62 95h1v1h-1zM52 97h1v1h-1zM56 97h1v1h-1zM40 99h1v1h-1zM24 100h1v1h-1zM55 101h1v1h-1zM55 103h1v1h-1zM8 105h1v1h-1zM4 106h1v1h-1zM1 107h1v1h-1zM24 107h1v1h-1zM50 110h1v1h-1zM47 111h1v1h-1zM38 112h1v1h-1zM54 112h1v1h-1zM37 114h1v1h-1zM24 115h1v1h-1zM30 118h1v1h-1zM18 120h1v1h-1zM36 120h1v1h-1zM2 121h1v1h-1zM8 122h1v1h-1zM50 123h1v1h-1zM1 124h1v1h-1zM0 126h1v1h-1zM3 127h1v1h-1zM1 128h1v1h-1zM55 128h1v1h-1zM7 129h1v1h-1zM27 129h1v1h-1zM10 130h1v1h-1zM20 131h1v1h-1zM15 132h1v1h-1zM4 133h1v1h-1zM61 133h1v1h-1zM1 134h1v1h-1zM23 134h1v1h-1zM45 138h1v1h-1zM35 139h1v1h-1zM30 140h1v1h-1zM27 141h1v1h-1zM36 141h1v1h-1zM53 141h1v1h-1zM43 142h1v1h-1zM5 143h1v1h-1zM23 143h1v1h-1zM32 143h1v1h-1zM17 146h1v1h-1zM34 147h1v1h-1z"/><path fill="#d8a8c0" d="M34 13h1v1h-1zM30 18h1v1h-1zM17 20h1v1h-1zM7 23h1v1h-1zM50 32h1v1h-1zM65 43h1v1h-1zM31 47h1v1h-1zM35 47h1v1h-1zM71 47h1v1h-1zM32 64h1v1h-1zM1 78h1v1h-1zM43 78h1v1h-1zM7 82h1v1h-1zM15 83h1v1h-1zM50 84h1v1h-1zM44 93h1v1h-1zM1 97h1v1h-1zM6 103h1v1h-1zM13 107h1v1h-1zM29 107h1v1h-1zM49 124h1v1h-1z"/><path fill="#d8b4c0" d="M7 0h1v1h-1zM12 0h1v1h-1zM15 0h1v1h-1zM8 1h1v1h-1zM16 2h1v1h-1zM8 5h1v1h-1zM34 5h1v1h-1zM27 7h1v1h-1zM8 8h1v1h-1zM43 8h1v1h-1zM4 10h1v1h-1zM19 10h1v1h-1zM35 10h1v1h-1zM15 11h1v1h-1zM54 13h1v1h-1zM10 14h1v1h-1zM42 15h1v1h-1zM41 16h1v1h-1zM53 17h1v1h-1zM46 20h1v1h-1zM54 20h1v1h-1zM45 22h1v1h-1zM51 24h1v1h-1zM27 25h1v1h-1zM39 26h1v1h-1zM12 29h1v1h-1zM19 29h1v1h-1zM39 31h1v1h-1zM30 33h1v1h-1zM33 34h1v1h-1zM50 38h1v1h-1zM8 40h1v1h-1zM47 41h1v1h-1zM1 44h1v1h-1zM55 45h2v1h-2zM36 46h1v1h-1zM44 47h1v1h-1zM39 48h1v1h-1zM65 50h1v1h-1zM31 56h1v1h-1zM35 56h1v1h-1zM41 56h1v1h-1zM54 58h1v1h-1zM26 59h1v1h-1zM45 59h1v1h-1zM40 60h1v1h-1zM37 61h1v1h-1zM53 65h1v1h-1zM36 67h1v1h-1zM27 71h1v1h-1zM32 74h1v1h-1zM32 81h1v1h-1zM36 81h1v1h-1zM16 83h1v1h-1zM51 83h1v1h-1zM14 84h2v1h-2zM39 85h1v1h-1zM8 86h1v1h-1zM4 89h1v1h-1zM35 89h1v1h-1zM46 90h1v1h-1zM8 97h1v1h-1zM55 98h1v1h-1zM47 101h1v1h-1zM35 105h1v1h-1zM41 109h1v1h-1zM31 111h1v1h-1zM46 111h1v1h-1zM49 116h1v1h-1zM37 118h1v1h-1zM73 119h1v1h-1zM21 121h1v1h-1zM8 123h1v1h-1zM45 123h1v1h-1zM49 123h1v1h-1zM53 123h1v1h-1zM6 124h1v1h-1zM23 124h1v1h-1zM26 125h2v1h-2zM32 129h1v1h-1zM51 130h1v1h-1zM8 133h1v1h-1zM54 133h1v1h-1zM38 136h1v1h-1zM51 140h1v1h-1zM31 141h1v1h-1zM29 143h1v1h-1zM15 144h1v1h-1zM35 144h1v1h-1zM8 145h1v1h-1zM1 146h1v1h-1zM8 148h1v1h-1zM16 148h1v1h-1zM48 149h1v1h-1zM51 149h1v1h-1z"/><path fill="#d8b4cc" d="M50 2h1v1h-1zM56 10h1v1h-1zM25 11h1v1h-1zM8 13h1v1h-1zM53 14h1v1h-1zM63 17h1v1h-1zM8 21h1v1h-1zM38 24h1v1h-1zM50 30h1v1h-1zM45 33h1v1h-1zM30 40h1v1h-1zM4 46h1v1h-1zM37 53h1v1h-1zM41 53h1v1h-1zM0 54h1v1h-1zM42 57h1v1h-1zM20 59h1v1h-1zM34 60h1v1h-1zM21 61h1v1h-1zM47 61h1v1h-1zM55 64h1v1h-1zM13 75h1v1h-1zM8 77h1v1h-1zM26 82h1v1h-1zM52 83h1v1h-1zM40 96h1v1h-1zM31 98h1v1h-1zM54 100h1v1h-1zM46 101h1v1h-1zM46 105h1v1h-1zM14 106h1v1h-1zM12 107h1v1h-1zM8 110h1v1h-1zM14 110h1v1h-1zM55 112h1v1h-1zM39 120h1v1h-1zM56 120h1v1h-1zM10 125h1v1h-1zM14 125h1v1h-1zM39 130h1v1h-1zM49 134h1v1h-1zM40 138h1v1h-1zM42 139h1v1h-1zM45 142h1v1h-1zM10 144h1v1h-1zM29 144h1v1h-1zM39 144h1v1h-1zM29 148h1v1h-1z"/><path fill="#d8c0cc" d="M40 4h1v1h-1zM5 6h1v1h-1zM38 12h1v1h-1zM56 20h1v1h-1zM48 22h1v1h-1zM51 23h1v1h-1zM8 27h1v1h-1zM25 28h1v1h-1zM8 29h1v1h-1zM5 42h1v1h-1zM48 46h1v1h-1zM45 54h1v1h-1zM8 67h1v1h-1zM20 67h1v1h-1zM48 70h1v1h-1zM22 71h1v1h-1zM32 76h1v1h-1zM42 77h1v1h-1zM48 81h1v1h-1zM56 82h1v1h-1zM1 104h1v1h-1zM8 104h1v1h-1zM47 104h1v1h-1zM8 106h1v1h-1zM55 106h1v1h-1zM52 110h1v1h-1zM15 111h1v1h-1zM44 111h1v1h-1zM30 112h1v1h-1zM19 113h1v1h-1zM15 120h1v1h-1zM11 126h1v1h-1zM20 126h1v1h-1zM8 127h1v1h-1zM8 129h1v1h-1zM24 130h1v1h-1zM44 132h1v1h-1zM50 132h1v1h-1zM47 134h1v1h-1zM9 137h1v1h-1zM12 139h1v1h-1zM28 143h1v1h-1zM53 143h1v1h-1z"/><path fill="#d8c0d8" d="M44 0h1v1h-1zM31 8h1v1h-1zM27 10h1v1h-1zM41 10h1v1h-1zM40 11h1v1h-1zM20 16h1v1h-1zM33 16h1v1h-1zM65 17h1v1h-1zM20 21h1v1h-1zM2 23h1v1h-1zM35 25h1v1h-1zM69 47h1v1h-1zM24 56h1v1h-1zM8 58h1v1h-1zM8 59h1v1h-1zM4 63h1v1h-1zM53 71h1v1h-1zM40 75h1v1h-1zM8 84h1v1h-1zM33 96h1v1h-1zM32 97h1v1h-1zM7 98h2v1h-2zM31 106h1v1h-1zM49 121h1v1h-1zM28 128h1v1h-1zM21 136h1v1h-1zM2 141h1v1h-1zM8 142h1v1h-1zM50 142h1v1h-1zM25 143h1v1h-1zM13 144h1v1h-1zM13 148h1v1h-1zM55 148h1v1h-1z"/><path fill="#d8ccd8" d="M9 41h1v1h-1z"/></g></g></svg></div></body></html>
